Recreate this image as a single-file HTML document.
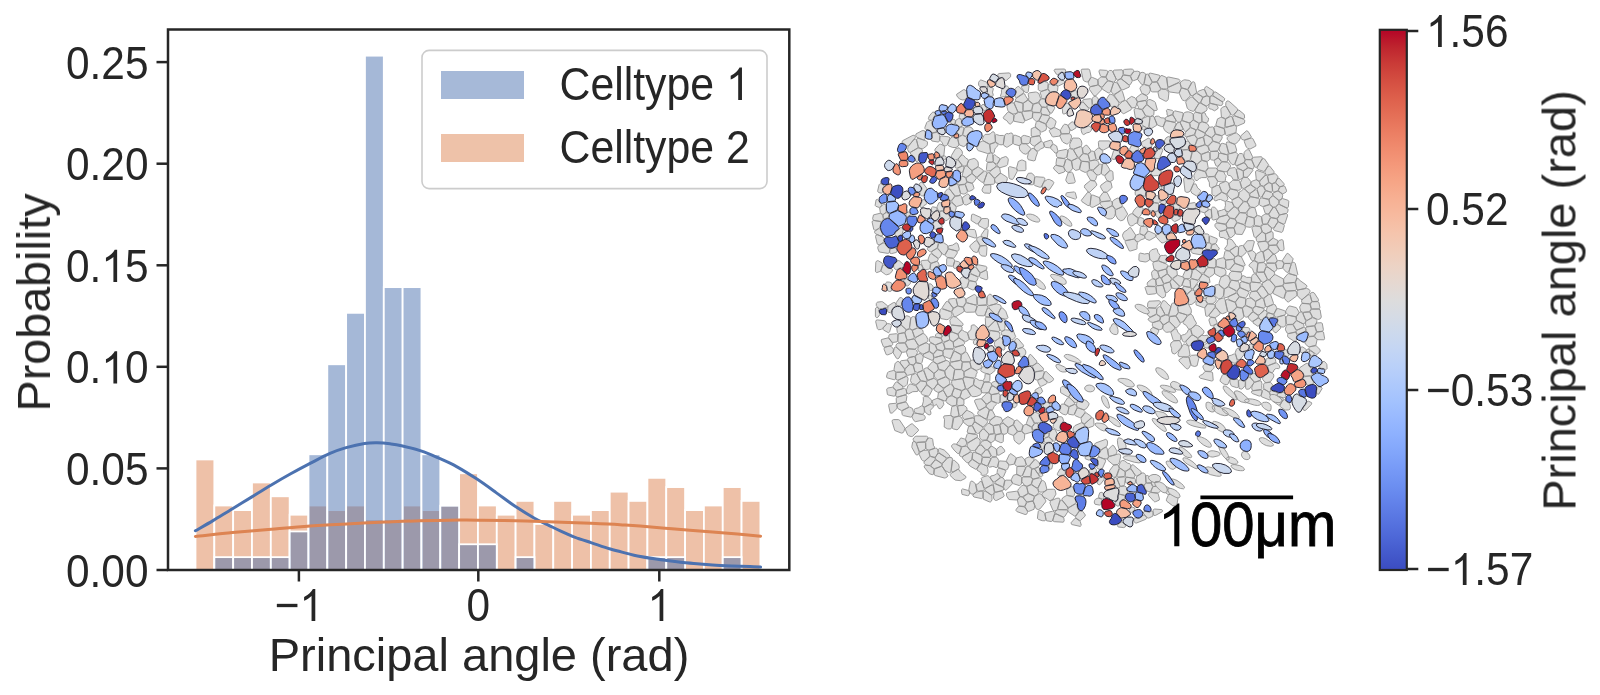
<!DOCTYPE html>
<html><head><meta charset="utf-8"><title>figure</title>
<style>html,body{margin:0;padding:0;background:#fff;overflow:hidden}body{width:1600px;height:695px;position:relative;font-family:"Liberation Sans",sans-serif}</style></head>
<body>
<svg width="1600" height="695" viewBox="0 0 1600 695" style="position:absolute;left:0;top:0">
<rect width="1600" height="695" fill="#fff"/>
<g opacity="0.999">
<g fill="#dd8452" fill-opacity="0.5" stroke="#fff" stroke-width="1.8"><rect x="195.50" y="459.44" width="18.83" height="110.56"/><rect x="214.33" y="505.50" width="18.83" height="64.50"/><rect x="233.16" y="510.11" width="18.83" height="59.89"/><rect x="251.99" y="482.47" width="18.83" height="87.53"/><rect x="270.82" y="496.29" width="18.83" height="73.71"/><rect x="289.65" y="514.72" width="18.83" height="55.28"/><rect x="308.48" y="505.50" width="18.83" height="64.50"/><rect x="327.31" y="510.11" width="18.83" height="59.89"/><rect x="346.14" y="505.50" width="18.83" height="64.50"/><rect x="364.97" y="519.33" width="18.83" height="50.67"/><rect x="383.80" y="519.33" width="18.83" height="50.67"/><rect x="402.63" y="505.50" width="18.83" height="64.50"/><rect x="421.46" y="510.11" width="18.83" height="59.89"/><rect x="440.29" y="505.50" width="18.83" height="64.50"/><rect x="459.12" y="473.26" width="18.83" height="96.74"/><rect x="477.95" y="505.50" width="18.83" height="64.50"/><rect x="496.78" y="514.72" width="18.83" height="55.28"/><rect x="515.61" y="500.90" width="18.83" height="69.10"/><rect x="534.44" y="523.93" width="18.83" height="46.07"/><rect x="553.27" y="500.90" width="18.83" height="69.10"/><rect x="572.10" y="514.72" width="18.83" height="55.28"/><rect x="590.93" y="510.11" width="18.83" height="59.89"/><rect x="609.76" y="491.68" width="18.83" height="78.32"/><rect x="628.59" y="500.90" width="18.83" height="69.10"/><rect x="647.42" y="477.86" width="18.83" height="92.14"/><rect x="666.25" y="487.08" width="18.83" height="82.92"/><rect x="685.08" y="510.11" width="18.83" height="59.89"/><rect x="703.91" y="505.50" width="18.83" height="64.50"/><rect x="722.74" y="487.08" width="18.83" height="82.92"/><rect x="741.57" y="500.90" width="18.83" height="69.10"/></g>
<g fill="#4c72b0" fill-opacity="0.5" stroke="#fff" stroke-width="1.8"><rect x="214.33" y="557.14" width="18.83" height="12.86"/><rect x="233.16" y="557.14" width="18.83" height="12.86"/><rect x="251.99" y="557.14" width="18.83" height="12.86"/><rect x="270.82" y="557.14" width="18.83" height="12.86"/><rect x="289.65" y="531.43" width="18.83" height="38.57"/><rect x="308.48" y="454.28" width="18.83" height="115.72"/><rect x="327.31" y="364.27" width="18.83" height="205.73"/><rect x="346.14" y="312.84" width="18.83" height="257.16"/><rect x="364.97" y="55.67" width="18.83" height="514.33"/><rect x="383.80" y="287.12" width="18.83" height="282.88"/><rect x="402.63" y="287.12" width="18.83" height="282.88"/><rect x="421.46" y="454.28" width="18.83" height="115.72"/><rect x="440.29" y="505.71" width="18.83" height="64.29"/><rect x="459.12" y="544.28" width="18.83" height="25.72"/><rect x="477.95" y="544.28" width="18.83" height="25.72"/><rect x="515.61" y="557.14" width="18.83" height="12.86"/><rect x="647.42" y="557.14" width="18.83" height="12.86"/><rect x="666.25" y="557.14" width="18.83" height="12.86"/><rect x="722.74" y="557.14" width="18.83" height="12.86"/></g>
<path d="M195.4,530.8C198.3,529.1 206.8,524.3 213.0,520.6C219.2,516.9 226.0,512.6 232.5,508.7C239.0,504.8 245.4,500.8 251.9,496.9C258.4,492.9 264.8,488.9 271.3,485.0C277.8,481.1 284.2,477.4 290.7,473.8C297.2,470.2 303.6,466.8 310.1,463.4C316.7,460.0 324.0,456.0 330.0,453.4C336.0,450.8 340.4,449.2 346.1,447.6C351.9,446.0 359.4,444.3 364.5,443.5C369.6,442.7 372.8,442.8 377.0,442.8C381.2,442.9 385.9,443.3 390.0,443.8C394.1,444.3 396.2,444.5 401.4,445.7C406.5,446.9 414.6,448.8 420.9,450.9C427.2,453.0 433.4,455.8 439.4,458.4C445.3,461.0 450.5,463.2 456.6,466.6C462.7,470.0 469.6,474.3 476.2,478.6C482.8,482.9 489.6,487.9 496.1,492.6C502.7,497.3 509.0,502.3 515.5,506.6C522.0,510.9 529.5,515.5 534.9,518.5C540.3,521.5 543.6,522.8 547.9,524.9C552.2,527.0 556.5,529.2 560.8,531.2C565.1,533.2 568.8,534.9 573.8,536.8C578.8,538.7 584.9,540.6 591.0,542.6C597.1,544.6 604.3,547.2 610.4,549.0C616.5,550.8 623.2,552.4 627.7,553.6C632.2,554.8 632.7,555.1 637.5,556.0C642.3,556.9 650.0,558.2 656.2,559.1C662.5,560.0 668.8,560.8 675.0,561.5C681.2,562.2 687.5,562.9 693.8,563.5C700.0,564.1 706.2,564.6 712.5,565.0C718.8,565.4 725.0,565.7 731.2,566.0C737.5,566.3 745.1,566.5 750.0,566.6C754.9,566.8 758.8,566.9 760.6,566.9" fill="none" stroke="#4c72b0" stroke-width="3" stroke-linecap="round"/>
<path d="M195.4,536.4C201.6,535.8 219.8,533.7 232.5,532.5C245.2,531.3 258.4,530.3 271.3,529.2C284.2,528.1 297.5,526.9 310.1,526.0C322.7,525.1 334.3,524.5 346.8,523.9C359.3,523.2 372.8,522.6 385.0,522.1C397.2,521.6 407.5,521.1 420.0,520.8C432.5,520.5 449.5,520.2 460.0,520.1C470.5,520.0 473.8,520.1 483.0,520.2C492.2,520.3 504.7,520.5 515.5,520.7C526.3,521.0 535.3,521.3 547.9,521.7C560.5,522.1 579.0,522.8 591.0,523.3C603.0,523.8 611.8,524.2 620.0,524.7C628.2,525.2 630.8,525.3 640.0,526.0C649.2,526.7 662.9,528.0 675.0,529.0C687.1,530.0 702.1,531.1 712.5,531.9C722.9,532.7 729.5,533.3 737.5,534.0C745.5,534.7 756.8,535.9 760.6,536.2" fill="none" stroke="#dd8452" stroke-width="3" stroke-linecap="round"/>
<rect x="168.0" y="29.5" width="621.3" height="540.5" fill="none" stroke="#262626" stroke-width="2.5"/>
<g stroke="#262626" stroke-width="2.5"><line x1="156.5" y1="570.0" x2="168.0" y2="570.0"/><line x1="156.5" y1="468.4" x2="168.0" y2="468.4"/><line x1="156.5" y1="366.8" x2="168.0" y2="366.8"/><line x1="156.5" y1="265.3" x2="168.0" y2="265.3"/><line x1="156.5" y1="163.7" x2="168.0" y2="163.7"/><line x1="156.5" y1="62.1" x2="168.0" y2="62.1"/><line x1="298.9" y1="570.0" x2="298.9" y2="581.5"/><line x1="478.3" y1="570.0" x2="478.3" y2="581.5"/><line x1="659.3" y1="570.0" x2="659.3" y2="581.5"/></g>
<text transform="translate(148.5,586.6) scale(1,1.1)" font-family="Liberation Sans, sans-serif" font-size="42.4" text-anchor="end" fill="#262626">0.00</text>
<text transform="translate(148.5,485.0) scale(1,1.1)" font-family="Liberation Sans, sans-serif" font-size="42.4" text-anchor="end" fill="#262626">0.05</text>
<g transform="translate(148.5,383.4) scale(1,1.1)" font-family="Liberation Sans, sans-serif" font-size="42.4" fill="#262626"><text x="-82.52" y="0" xml:space="preserve">0.</text><path transform="translate(-47.16,0) scale(0.02070,0.01982)" d="M763,0L583,0L583,-1147Q518,-1085 412.5,-1023Q307,-961 223,-930L223,-1104Q374,-1175 487,-1276Q600,-1377 647,-1472L763,-1472Z"/><text x="-23.58" y="0" xml:space="preserve">0</text></g>
<g transform="translate(148.5,281.9) scale(1,1.1)" font-family="Liberation Sans, sans-serif" font-size="42.4" fill="#262626"><text x="-82.52" y="0" xml:space="preserve">0.</text><path transform="translate(-47.16,0) scale(0.02070,0.01982)" d="M763,0L583,0L583,-1147Q518,-1085 412.5,-1023Q307,-961 223,-930L223,-1104Q374,-1175 487,-1276Q600,-1377 647,-1472L763,-1472Z"/><text x="-23.58" y="0" xml:space="preserve">5</text></g>
<text transform="translate(148.5,180.3) scale(1,1.1)" font-family="Liberation Sans, sans-serif" font-size="42.4" text-anchor="end" fill="#262626">0.20</text>
<text transform="translate(148.5,78.7) scale(1,1.1)" font-family="Liberation Sans, sans-serif" font-size="42.4" text-anchor="end" fill="#262626">0.25</text>
<g transform="translate(298.9,621.0) scale(1,1.1)" font-family="Liberation Sans, sans-serif" font-size="42.4" fill="#262626"><text x="-24.17" y="0" xml:space="preserve">−</text><path transform="translate(0.59,0) scale(0.02070,0.01982)" d="M763,0L583,0L583,-1147Q518,-1085 412.5,-1023Q307,-961 223,-930L223,-1104Q374,-1175 487,-1276Q600,-1377 647,-1472L763,-1472Z"/></g>
<text transform="translate(478.3,621.0) scale(1,1.1)" font-family="Liberation Sans, sans-serif" font-size="42.4" text-anchor="middle" fill="#262626">0</text>
<g transform="translate(659.3,621.0) scale(1,1.1)" font-family="Liberation Sans, sans-serif" font-size="42.4" fill="#262626"><path transform="translate(-11.79,0) scale(0.02070,0.01982)" d="M763,0L583,0L583,-1147Q518,-1085 412.5,-1023Q307,-961 223,-930L223,-1104Q374,-1175 487,-1276Q600,-1377 647,-1472L763,-1472Z"/></g>
<text transform="translate(479.0,670.8) scale(1,1.0)" font-family="Liberation Sans, sans-serif" font-size="47.0" text-anchor="middle" fill="#262626">Principal angle (rad)</text>
<text transform="translate(50.0,302.5) rotate(-90) scale(1,1.0)" font-family="Liberation Sans, sans-serif" font-size="46.7" text-anchor="middle" fill="#262626">Probability</text>
<rect x="422" y="50.4" width="345" height="138.2" rx="7" ry="7" fill="#fff" fill-opacity="0.8" stroke="#cccccc" stroke-width="1.6"/>
<rect x="441" y="71" width="83" height="28" fill="#a6b9d8"/>
<rect x="441" y="134" width="83" height="28" fill="#eec2a9"/>
<g transform="translate(559.5,100.0) scale(1,1.1)" font-family="Liberation Sans, sans-serif" font-size="42.8" fill="#262626"><text x="0.00" y="0" xml:space="preserve">Celltype&#160;</text><path transform="translate(166.52,0) scale(0.02090,0.02000)" d="M763,0L583,0L583,-1147Q518,-1085 412.5,-1023Q307,-961 223,-930L223,-1104Q374,-1175 487,-1276Q600,-1377 647,-1472L763,-1472Z"/></g>
<text transform="translate(559.5,163.0) scale(1,1.1)" font-family="Liberation Sans, sans-serif" font-size="42.8" text-anchor="start" fill="#262626">Celltype 2</text>
<defs><linearGradient id="cw" x1="0" y1="0" x2="0" y2="1"><stop offset="0.0000" stop-color="#b40426"/><stop offset="0.0312" stop-color="#be242e"/><stop offset="0.0625" stop-color="#ca3b37"/><stop offset="0.0938" stop-color="#d44e41"/><stop offset="0.1250" stop-color="#dd5f4b"/><stop offset="0.1562" stop-color="#e46e56"/><stop offset="0.1875" stop-color="#eb7d62"/><stop offset="0.2188" stop-color="#f08b6e"/><stop offset="0.2500" stop-color="#f4987a"/><stop offset="0.2812" stop-color="#f6a586"/><stop offset="0.3125" stop-color="#f7b093"/><stop offset="0.3438" stop-color="#f7ba9f"/><stop offset="0.3750" stop-color="#f5c4ac"/><stop offset="0.4062" stop-color="#f1ccb8"/><stop offset="0.4375" stop-color="#ecd3c5"/><stop offset="0.4688" stop-color="#e5d8d1"/><stop offset="0.5000" stop-color="#dddcdc"/><stop offset="0.5312" stop-color="#d5dbe5"/><stop offset="0.5625" stop-color="#ccd9ed"/><stop offset="0.5938" stop-color="#c3d5f4"/><stop offset="0.6250" stop-color="#b9d0f9"/><stop offset="0.6562" stop-color="#aec9fc"/><stop offset="0.6875" stop-color="#a3c2fe"/><stop offset="0.7188" stop-color="#98b9ff"/><stop offset="0.7500" stop-color="#8db0fe"/><stop offset="0.7812" stop-color="#82a6fb"/><stop offset="0.8125" stop-color="#779af7"/><stop offset="0.8438" stop-color="#6c8ff1"/><stop offset="0.8750" stop-color="#6282ea"/><stop offset="0.9062" stop-color="#5875e1"/><stop offset="0.9375" stop-color="#4e68d8"/><stop offset="0.9688" stop-color="#445acc"/><stop offset="1.0000" stop-color="#3b4cc0"/></linearGradient></defs>
<rect x="1379.8" y="29.8" width="27.0" height="540.2" fill="url(#cw)" stroke="#262626" stroke-width="2.2"/>
<g transform="translate(1426.0,47.0) scale(1,1.1)" font-family="Liberation Sans, sans-serif" font-size="42.4" fill="#262626"><path transform="translate(0.00,0) scale(0.02070,0.01982)" d="M763,0L583,0L583,-1147Q518,-1085 412.5,-1023Q307,-961 223,-930L223,-1104Q374,-1175 487,-1276Q600,-1377 647,-1472L763,-1472Z"/><text x="23.58" y="0" xml:space="preserve">.56</text></g>
<text transform="translate(1426.0,225.0) scale(1,1.1)" font-family="Liberation Sans, sans-serif" font-size="42.4" text-anchor="start" fill="#262626">0.52</text>
<text transform="translate(1426.0,406.0) scale(1,1.1)" font-family="Liberation Sans, sans-serif" font-size="42.4" text-anchor="start" fill="#262626">−0.53</text>
<g transform="translate(1426.0,585.0) scale(1,1.1)" font-family="Liberation Sans, sans-serif" font-size="42.4" fill="#262626"><text x="0.00" y="0" xml:space="preserve">−</text><path transform="translate(24.76,0) scale(0.02070,0.01982)" d="M763,0L583,0L583,-1147Q518,-1085 412.5,-1023Q307,-961 223,-930L223,-1104Q374,-1175 487,-1276Q600,-1377 647,-1472L763,-1472Z"/><text x="48.34" y="0" xml:space="preserve">.57</text></g>
<g stroke="#262626" stroke-width="2.5"><line x1="1406.8" y1="31" x2="1418.3" y2="31"/><line x1="1406.8" y1="209" x2="1418.3" y2="209"/><line x1="1406.8" y1="390" x2="1418.3" y2="390"/><line x1="1406.8" y1="569" x2="1418.3" y2="569"/></g>
<text transform="translate(1575.5,300.5) rotate(-90) scale(1,1.0)" font-family="Liberation Sans, sans-serif" font-size="47.0" text-anchor="middle" fill="#262626">Principal angle (rad)</text>
<line x1="1200.4" y1="497.4" x2="1293.1" y2="497.4" stroke="#000" stroke-width="3.6"/>
<g transform="translate(1247.0,546.2) scale(1,1.07)" font-family="Liberation Sans, sans-serif" font-size="58" fill="#000" stroke="#000" stroke-width="0.8"><path transform="translate(-89.25,0) scale(0.02832,0.02711)" d="M763,0L583,0L583,-1147Q518,-1085 412.5,-1023Q307,-961 223,-930L223,-1104Q374,-1175 487,-1276Q600,-1377 647,-1472L763,-1472Z"/><text x="-56.99" y="0" xml:space="preserve">00μm</text></g>
<g fill="#dedede" stroke="#8f8f8f" stroke-width="0.9" stroke-linejoin="round"><path d="M985.5,491.2 984,491.1 983.2,492.4 983.3,499.2 989.4,501.9 990.4,502 991.2,501.4 992,499.8 991.9,495.5zM1034.8,373.2 1034.5,378 1034.9,379.3 1036.4,380 1037.6,380 1042.6,377.6 1044.4,371.9 1043.4,370.8 1042.7,370.7 1035.4,372zM978.6,445.9 975.3,450.8 976.1,452.5 980.2,454.5 981.1,454.6 984.9,450.8 985.2,449.4 981.8,445.5 980.4,445.1zM947.8,265.8 952.5,266.3 953.4,265.3 954.6,261.1 954.5,260 953.6,258.8 953,258.5 947.6,257.7 946.7,259.1 946.6,264.9zM1153.4,199.4 1153.1,200.9 1153.8,202.2 1154.5,202.5 1158.8,203.2 1159.8,202.2 1160.1,200.5 1159,199.2 1158.2,196 1157.7,195.5 1156.3,195.5zM1245.6,243 1243.6,245.1 1243.7,246.4 1246.4,250.8 1247.4,251.5 1248.1,251.5 1252.2,250 1254.4,241.8 1254.1,241.2 1252.9,240.6 1247.7,240.7 1247,241zM1245.6,388 1246.5,389.3 1249.4,389 1253.6,383.2 1253.8,382.3 1253.5,381.5 1249.9,377.1 1248.5,377.2 1246.9,379.5 1245.6,380.6zM1032.6,367.1 1034.2,370.7 1035.2,371.6 1042.3,370.7 1043.6,369.7 1043.2,368.1 1038.1,363 1036.7,363.2 1033.2,365.5 1032.6,366.2zM951.2,380.5 952.6,380 953,379.2 954.6,369.4 951.3,365.9 950,365.5 948.7,366.1 945.2,370.6 944.9,371.8 945.4,374.8 946.8,377.2zM1185.1,344.1 1183.7,344.1 1183.1,344.6 1180.4,349.5 1178.6,351.8 1177.9,354.6 1178.9,356.6 1187.1,357 1189.2,355.9 1190,355 1188.6,346.3zM997.1,164.4 997.1,165.9 999.9,167.8 1006.6,165.7 1007.6,164.5 1008.3,159.8 1008.1,158.8 1007,157.2 1005.6,156.5 1001,158.2zM902.6,140.7 902,142.1 902.4,142.9 904.8,144 906.8,146 908.2,146.2 915,138.1 915.4,137.2 915.2,136.4 914.4,135.3 912.9,135.3zM915.5,337.7 914.8,339 915,339.8 918.1,344.9 919.3,345.6 927.2,342 927.9,341.3 927.9,339.7 926.5,336.1 923.9,333.6 922.5,333.7zM1067.9,151.4 1067.5,150.1 1066.5,149.3 1058.6,150.9 1057.7,151.7 1056.3,154.2 1056.5,156.4 1057.9,157.6 1063.4,158.4 1065.7,158 1066.8,156.9zM1024.3,433.6 1025.7,433.9 1032,432 1032.4,430.7 1031.7,427.4 1026,424.2 1023.4,425.4 1021.8,431zM997,321.8 995.9,320.8 994.5,321.2 988.1,327.5 987.7,328.4 988.5,330.1 998.2,331.5 999.5,330.9 999.8,329.5zM1240.8,282 1239.9,283.4 1240,287.3 1248.3,291.2 1249.8,290.9 1250.5,289.6 1249.7,284 1242.4,281.7zM952.9,309.1 952.7,307.6 948.5,301.8 947.3,301.2 946.1,301.8 942.4,307.3 942.4,308 943.4,308.9 950.3,311.4 951.7,311.2zM1260.7,250.6 1261.7,251.4 1263,251.6 1268.1,248.5 1268.6,245.1 1267.9,243.2 1266.6,241.9 1264.9,241.4 1259.1,241.9 1257.9,242.7 1257.8,244zM1186.2,340.9 1185.8,342.2 1186.1,342.8 1188.2,345.8 1189.4,346 1190.6,345.4 1191.8,342.6 1193.9,341.1 1197.1,340.3 1197.7,339.1 1197,337.8 1193.3,335.3 1191.9,335.2zM1084.7,188 1086.9,190.1 1087.8,191.8 1089.7,192.2 1096.4,185.8 1096.8,185 1096.6,184 1095,181.1 1090.4,180.5 1084.9,185 1084.4,186.5zM1174.8,127.4 1174.8,128.8 1176.1,129.5 1182,130.2 1183,128.9 1180.3,123.2 1179.6,122.5 1177.3,122.8zM1132.1,81.7 1132.1,80.4 1130.6,76.8 1129.5,75.9 1123.5,75.1 1121.7,77.5 1121.5,78.2 1122.1,79.5 1128.6,84.6 1129.4,84.9 1130.2,84.7zM1083.2,147.4 1082.6,148.8 1083,152.2 1083.3,153.1 1084.2,153.5 1087.8,154.1 1090.8,151.3 1090.6,149.9 1086.9,145.2 1085.3,145.5zM1024.4,135.4 1023.1,135.6 1021.1,137.3 1021.8,143 1023,143.6 1028.9,143.6 1030.2,141.3 1030.5,137.7 1029.5,136.8zM958.4,137.9 957.9,139.5 959.2,144.8 963.8,146.7 966.3,144.7 966.6,143.4 967.4,142.5 967.4,141.6 966.5,137.4 965.9,136.8 962.5,135.2 959.7,136.5zM895.3,269.4 896.8,269.9 898.4,268.5 900.5,267.9 902.1,268 903.8,265.9 903.4,264.3 899,260.5 897.3,260.9 896.3,262.6 894.5,263.9 893.8,265 893.6,267.1zM894,369.3 894.5,370.6 895.5,371.6 896.5,372.1 903.1,372 904.4,371.3 904.6,370.6 904.4,369 899.2,361.9 897.8,361.3 895.5,362.9 895,363.8zM951.7,325 962.1,326 962.9,325.1 963.1,324.5 962.7,323.2 956.2,317.1 953.3,316.5 952,317.1 949.8,320.2 950.4,323.9 950.9,324.7zM872.6,218.6 873.2,220 873.9,220.4 880.9,221.4 881.5,221.4 882.9,220.3 883.4,219 882.7,214.9 880.3,213.2 873.5,214.9zM1244.2,152.4 1243.8,156.4 1245.3,159.4 1250.8,159.5 1252.1,158.7 1252.7,157.3 1252.5,156.6 1249.3,149.9 1247.7,149.7 1246.8,149.9 1244.8,151.4zM1246.4,147.2 1247.4,148.1 1250,149.1 1255.8,146.1 1255.8,144.6 1252.9,138.7 1252,138 1251.1,138 1244.5,140.3 1244.3,141.8zM1285.1,294.9 1284.4,298.3 1287,301.5 1288.4,302 1296.5,296.1 1297.1,294.7 1296.8,292.3 1296.1,291.2 1294.7,290.7 1287.5,291.2 1286.4,291.9zM1160.6,305 1160.7,306.3 1164.9,314.1 1165.4,314.6 1167,315 1168.4,314.6 1170.7,307.2 1170.4,305.9 1168.9,305 1165.4,301.1 1164.4,300.7 1162.7,300.9zM1260.7,198 1259.7,199.3 1259.1,203.7 1259.3,204.6 1259.9,205.3 1262.8,206.6 1269.1,204.4 1269.6,203.1 1268.7,199.6 1261.7,197.9zM995.7,481.3 995.1,482.6 996,483.9 1002.4,486.6 1003.2,486.2 1003.7,485.5 1004.7,480.2 1002.9,477.8 1001.6,477.5 1000.6,477.8zM1100.3,204.4 1104.3,209 1105.6,209 1111.5,205.9 1112.3,204.5 1112,201.5 1110.6,200.8 1100.7,202 1100.1,203zM965.6,438.7 965.7,439.8 966.7,441.8 968,442.6 976.8,437.5 977.4,436.9 977.5,435.8 977.1,434.9 976.2,434.5 968,433.3 967.1,434.3zM1139.1,217.9 1138.3,218.9 1137.5,223.9 1140.2,226 1141.1,226.2 1143.3,226 1144.1,224.7 1143.3,222.7 1144,219.6 1143.7,218.8 1140.8,217.5zM1042.4,493.1 1041.9,494.5 1043.6,497.2 1047.5,498.9 1048.8,500.3 1050,500.7 1053,499.2 1056,494.1 1055.2,490.3 1054.9,489.7 1053.7,489.2 1047.8,489.4zM1099.6,198 1100.5,201 1101.8,201.5 1109.2,200.9 1109.9,200.6 1110.6,199.4 1107.4,193.1 1106.1,192.3 1104.1,192.2 1102.8,192.8 1099.9,196.8zM995.2,387.2 996.6,387.3 997.1,386.8 998.5,385.1 998.6,384.2 996.5,381.7 995.3,381.1 992.3,382.3 991.4,383.3 991.9,385.2zM1030.2,142.5 1030.8,143.9 1032.9,145.6 1034.2,146 1034.8,145.8 1041.2,140.9 1041.2,140 1040.1,136.5 1038.8,136 1031.4,137.1 1030.7,138.2zM1227.7,161.1 1227.8,155.6 1226.8,154.8 1219.7,153.1 1218.7,154.4 1218.4,157.6 1222,161.6 1226.3,161.8zM1014.1,439.8 1015.5,441.8 1018.3,443.9 1019.7,444.1 1024.1,439.5 1024.5,438.6 1024.7,434.3 1021.4,431.3 1018.1,431.6 1017.3,432 1013.6,435.8zM1251.4,260.1 1252.1,260.7 1253,260.9 1254.1,260.5 1256,254.6 1255.5,253.1 1252.3,250.5 1248.8,251.4 1247.7,252.7zM926.3,385 926.5,382.9 925.8,381.7 920.8,380.9 916.7,384.5 916.2,385.7 919.3,391.3 920.5,392 921.8,391.4zM1181.8,120.8 1180.4,121.9 1180.5,123.2 1184.2,130.7 1185.3,131.5 1186,131.4 1190.2,127.3 1189.7,123.9 1188.7,122.8 1182.5,120.9zM1086.1,456.3 1085,457.3 1085.3,458.8 1088.5,460 1089.2,460.1 1090.3,459.3 1090.7,458 1090.5,457.3 1088.8,456zM987.2,418.2 987.5,419.5 988.1,420 990.4,419.9 994.9,416.4 995,415.6 992.3,410.4 990.6,410.1 989.3,410.6zM928.1,385.8 926.8,385.5 925.5,386.4 921.4,392.2 921.4,393.8 922.4,394.8 928.3,396.2 929.4,395.4 932.2,390.1 931.7,388.9zM911.8,446.6 911.9,447.5 915.7,454.3 916.2,454.9 917.8,454.9 919,453.1 919.1,451.9 916.1,443 915.5,442.3 914.1,441.4 912.7,442zM1223.9,268.4 1225.2,268.2 1225.7,266.9 1225.5,260.4 1224.3,258.3 1223.5,257.8 1222.6,257.8 1217.1,259.4 1216.4,260 1216.1,265.3 1216.6,266.5zM985.5,450.3 981.6,455 981.7,455.9 982.5,456.9 983.3,457.1 989.4,457.3 990.2,457.1 990.9,455.8 988.3,450.6 987,449.8zM1266.3,359.1 1265.2,363.5 1266.4,365.3 1267.1,365.7 1268,365.7 1275.4,362.6 1275.8,361.3 1275.3,359.2 1274.5,358.1 1273.8,358 1270.2,358.8 1267.4,358zM1197.7,187.9 1195.8,183.9 1193.9,184 1193.1,184.8 1190.6,190.6 1191.8,193.1 1196.5,195.9 1198.5,194.6 1200.6,191.6 1200.7,190.9 1200.5,190.3zM1288.4,315.3 1287.1,315.7 1286,317.9 1286.3,323.8 1287.6,324.5 1292.9,324.2 1296.3,320.4 1295.9,317.3 1295.1,316.8zM1131.5,107.4 1132.8,107.9 1135.6,107.4 1137.2,102.4 1137.1,101.4 1135.7,98.5 1135,97.8 1131.6,96.4 1127.2,99.4 1126.6,100.8zM878.3,228.9 874.6,231.4 874.5,232.3 875.5,233.8 880.7,236 882.2,235.8 882.7,235.2 882.4,233.7 880.2,229.2 879.6,228.8zM1272.4,208.4 1272.6,207 1269.8,204.7 1264.3,206.3 1263.3,207.5 1265.1,212.9 1265.6,213.5 1267.5,214 1269,213.4zM1149.7,251.9 1149.3,253.2 1149.8,258.9 1150.3,259.9 1152.6,261.6 1153.8,261.8 1157.8,260.6 1160.2,255.5 1158,252.4 1157.2,249.3 1156.4,248.7 1155.6,248.7 1151.8,249.7zM998.9,76.9 1000.1,77.6 1002.5,77.4 1003.9,78.4 1004.8,80.2 1006.1,80.6 1010.6,76.8 1010.6,74.3 1009.7,73.1 1009,72.9 999.1,73.5 997.8,74.5 997.7,75.4zM887.9,388 886.8,388.9 886.7,389.6 887.4,394.5 888.2,395 893.9,396.2 895.3,395.7 896.1,391.4 895.7,390.2 892.4,387.2zM1243.4,188.4 1244.5,188.1 1249.9,184.7 1250.6,183.8 1250.9,181.6 1247.5,177.5 1244,177.4 1243.1,177.7 1242,179.1 1240.4,182.7 1241.6,187.2 1242.1,187.9zM1071.6,486.6 1066.8,489.4 1066.5,490.3 1066.8,494.7 1067.8,495.5 1073.2,496.4 1074.3,495.2 1074.9,492.7 1073,487.1zM1184.3,112.7 1183.5,113.7 1182.2,119.2 1182.5,120.5 1188.8,122.7 1190.2,122.5 1193.2,119.8 1193.2,114.1 1190.9,112.5 1188.3,111.8 1186,112zM1117.9,219 1120.7,220.8 1123.5,220 1127.7,214.1 1123.9,207.4 1122.7,206.7 1116.4,209.4 1115.5,210.7 1115.7,215.1zM1106.8,98.5 1106.7,99.8 1109.6,102.8 1110.5,106.3 1111,106.9 1111.8,107.1 1113.8,106.2 1114.9,106.2 1116.8,106.8 1118.1,105.8 1118.9,103.6 1118.7,102.2 1113,95 1110.9,94.2 1109.6,94.3zM1180,81.1 1180,80.3 1178.9,79.2 1168.6,77 1167.2,77.3 1166.9,77.9 1167.7,85.5 1168.5,86.6 1169.1,86.8 1179.1,82.2zM959,414.7 960.1,415.9 961.6,415.4 966.6,410.1 967,409.5 966.9,408.1 966.4,407.2 964.5,405.7 963.4,405.4 959,405.7 957.7,406.6zM1141.3,84.1 1142,84.6 1142.9,84.5 1143.9,83.4 1145.6,74.8 1145.5,73.9 1144.9,73.2 1142.9,72.3 1140.7,72.6 1140.2,73.2 1137.6,79.4zM1182.7,154.7 1182.3,156.4 1185.2,160.7 1185.8,161 1189.3,160.6 1190.2,159.6 1191.8,152.8 1191.3,152 1189.2,151 1188.2,149.8 1183.7,150 1182.4,150.9zM1266.6,233.5 1265.9,234 1265.6,234.9 1265.9,240.5 1266.5,241.7 1268,242.1 1273.2,237.8 1273.1,233 1272.4,231.8 1271.8,231.5zM989.8,305.5 988.8,306.6 989.1,308 995.5,314.5 996.8,314.9 997.4,314.6 1001.2,307.3 1001,305.7 999.9,304.8 996.3,303.8zM963.8,372.4 963.4,371.5 961.5,369.6 955.4,369.6 954.6,370.7 953.3,378 953.7,379.3 955,379.8 962.2,378.6 963.2,378.1 964.1,376.2zM1139.8,207.5 1137.9,206.7 1136.7,207.2 1133.9,210.3 1132.6,212.7 1133.2,214.2 1138.1,217.6 1138.9,217.5 1141.2,214.8 1142,211.7 1143.3,209.1 1143.2,208.3 1142.4,207.6 1141.3,207.3zM1082.5,128.2 1081.3,128.8 1081.1,130.1 1082.1,133.5 1083.2,134.5 1083.9,134.5 1086.8,132.8 1089.5,132.3 1091,130.8 1091.7,128.7 1091.3,127.9 1089.3,126.1 1088.6,126.1 1083.8,128.1zM1288.9,271.8 1289.2,273.2 1289.9,273.7 1296,275.5 1296.8,275.5 1297.8,274.5 1295.3,263.6 1294.4,262.5 1293.3,262.3 1292.5,262.6 1291.4,263.8zM1268.2,279.5 1269.1,279.6 1269.9,279.1 1274.3,274.7 1274.7,273.2 1274.1,271.8 1268,267.4 1266.7,267.1 1265.7,268.1 1264.3,272.1 1267.2,278.6zM1295.7,321.4 1293.4,324.4 1293.6,325.3 1295.8,329.2 1297,330 1303.2,327.4 1304,326.4 1303.8,324.8 1302.9,323.8 1297.5,321.1 1296.6,320.9zM1028.2,94.8 1028.8,97.4 1028.5,100.1 1033.1,103.9 1038,102.6 1038.8,101.9 1040.7,98.6 1038.9,93.5 1036.6,92.2 1035.6,92 1029.5,92.8 1028.4,93.5zM878,307.8 877.2,307.4 876.4,307.5 875.7,308 875.4,308.9 875.4,316.2 875.6,316.9 876.8,317.7 878.1,317.1 879.9,314.5 878.9,311.2 879.1,309.2zM1113.8,479 1114.8,483 1114.6,484.3 1115.9,487.1 1118.4,487.9 1119.2,487.4 1119.9,486.4 1119.8,485.6 1116.3,477.6 1115.2,477.3 1113.9,478.2zM1052.8,510 1054,510.9 1054.7,510.8 1056.4,510.2 1057.4,509.1 1060,500 1059.7,498.7 1059.2,498.2 1056.9,498.2 1051.3,500.6 1050.2,501.7 1050,503.3zM994,493.4 993.5,498 994.6,499.9 995.6,500.5 996.7,500.4 1003.4,496.9 1004.2,495.6 1002.7,492 1001.7,491 995.1,492.4zM971,270.7 970.5,272.6 971.3,273.8 977.3,276.5 978.9,276.2 979.4,275.5 979.8,273.7 979.6,272.5 975.9,267.3 974.4,267.4zM988.8,476.2 988.1,475.7 987.1,475.7 982.2,477.3 981.2,478.4 983.9,487.2 984.4,488 985.2,488.3 992.5,484.4 993.2,483.6 993.1,482.1zM997.9,403.3 999.2,403.1 999.9,401.9 1000.1,395.2 999.7,394 998.3,393.6 991.9,394.7 991.3,395.9 991.6,400.8zM1030.3,147.6 1028.2,146 1026.6,144 1025.9,143.8 1021.7,143.8 1019.7,145.5 1019.3,146.8 1019.6,149.3 1020.4,150.9 1023.3,153.5 1025.7,154.2 1027.2,153.6 1030.4,149.7 1030.8,148.5zM960.3,192.5 961.2,193.5 963.2,194.1 964.3,194 967.2,192.5 967.4,191.1 965.5,185.5 964.6,184.6 960.1,185 958.8,186zM937.8,369.9 938.2,368.5 937.2,364.7 936.6,363.9 933.2,361.7 931.9,362.2 927.8,367.1 928.3,368.5 933.7,373 935.1,372.6zM970.1,492.9 971.2,493.9 973.3,494.2 976.9,491.2 975.3,483.8 974.6,482.8 972,481 971.2,481.1 970.3,482.2 968.8,489.8zM1173,113.9 1173.1,115.1 1176.9,121.6 1177.5,122.2 1179.5,122.1 1181.3,120.8 1181.8,120 1183.3,114.1 1182.9,112.7 1174.7,110.8 1173.7,111.8zM1184.4,286.4 1183,286.9 1182.7,288.4 1184.6,290.3 1186.1,293.2 1187.4,293.5 1188,293.2 1191.6,289.9 1191.3,288.4 1190.2,287.6zM1163.8,324.9 1163.1,325.8 1162.7,329.1 1165.5,331.9 1166.6,332.3 1170.8,331.8 1174.8,328.4 1174.5,326.8 1169.5,321.9 1168.2,322zM967.3,164 967.9,166.7 971.1,169.8 972.2,170.2 977.7,167 978.4,165.7 978.1,162 976.3,159.6 974.2,158.4 969.2,159.8zM1187.7,315.6 1183,322.4 1183.4,323.7 1186.2,325.3 1188.3,328.7 1189.1,329.1 1191.1,328.8 1196.4,323.9 1196.1,322.3 1194.6,320 1192.6,315.5 1190.8,314.1zM1016.2,509.3 1016,510.6 1016.9,511.6 1025.1,514.5 1026.5,514.3 1027.5,512.5 1027.4,511.1 1025,507.4 1024,506.8 1018.7,506.2zM990,434.3 988.9,435.2 987.2,439.7 987.9,440.9 991.2,442.7 994.3,440.6 994.9,439.7 995.4,434.7 994.4,433.8zM1150.9,90.9 1151.5,91.6 1152.4,91.9 1157.2,91.9 1158.1,91.5 1160.5,89.4 1160.4,88.1 1156.9,82 1152.5,82.3 1149.9,85.4 1149.7,86.8zM1186,177.7 1184.3,177.6 1183.6,179.1 1185,191.1 1185.4,191.8 1186.8,192.4 1189,192 1190.1,191.1 1194.4,181.4 1192.6,178.8 1187.8,179zM1016.7,432.4 1017.1,431.2 1016.9,430.5 1013.6,425.4 1012.1,425.4 1008.3,427.7 1007.7,432.1 1007.9,433 1008.6,433.6 1013.2,435.4zM943.1,354.8 943.7,356 944.8,356.7 948.3,358.2 950,358.5 951,357.6 953.6,350.7 953,349.6 951.9,349.1 944.9,349.1 943.4,350.7 943.1,351.6zM973.6,383.9 974.3,385.4 979.4,388.7 980.3,388.9 981.7,387.9 983.9,382.1 983.5,381.4 982.2,380.4 979.2,380.3 976.2,378.3 975.4,378.3 974.3,379.5zM1258,264 1257.1,271.3 1258.5,272.2 1263.9,271.8 1266.2,266.5 1265.7,263.8 1263.6,262.6 1258.7,263zM1134.7,238.6 1135.1,239.9 1136.7,241.5 1138.2,241.9 1141,239.8 1144.3,238.7 1144.8,237.1 1144.3,235.8 1143.8,235.5 1139.6,233.8 1136.6,234.9 1135.7,235.7zM980.7,454.8 974,452.1 972.8,452.8 972.3,458.9 979,463.6 980.4,463.7 981.3,462.6 982.2,457.7 982,456.7zM1136.9,483.9 1138.2,484.9 1140.6,484.1 1141.8,484.1 1143.5,484.8 1144.2,484.7 1145.4,483.6 1145.8,482.5 1145.4,474.7 1144.6,473.5 1143,472.8 1142.2,473 1136.6,476.7 1136.2,478.9 1136.3,481.8zM1231.2,181.8 1229,183.5 1229,184.2 1230.5,188.7 1238.4,190.4 1240.1,189.8 1241.3,188.6 1241.5,187.2 1239.6,181.2 1239.1,180.4 1233.3,180.1 1232.6,180.3zM1118,106.3 1118.2,107.8 1120.2,109 1120.9,110.1 1120.9,111.7 1123.3,113.7 1124.2,113.5 1131,109.8 1131.8,108.3 1126.4,101 1125.2,100.4 1122.4,101.5 1118.6,105.2zM1226.6,246.1 1224.8,248.2 1224.8,249 1225.4,250 1228.6,250.6 1229.6,250.4 1235.4,246.7 1236,245.3 1232.1,239.8 1229.4,238.8 1228.4,239 1227.4,239.8 1227.4,244.4zM1195.5,145.4 1196.8,147 1197.7,147 1204.3,144.8 1204.7,143.5 1203.5,137.9 1201.9,137.5 1197.7,138.9 1195.5,144.5zM946.1,348.7 953.1,348.8 953.8,347.3 953.2,342.8 952.5,341.7 949.6,340 944.1,342.5 943.8,343.8 945.2,348.4zM952.4,395.5 953.1,396.2 956.6,398 957.9,397.9 959.3,397.2 960.1,396.3 961.4,392 961.1,390.5 955.6,388.5 954.1,388.8 952.1,394zM999.8,135.5 996.4,134.5 995.2,135.3 995.6,142 999.7,144.7 1002.4,144.9 1003.3,143.7 1004.3,136.4 1003.3,135.4zM986.4,169.4 987,170.8 987.7,171.1 990.8,170.4 995.7,166.8 996.3,165.2 993.8,162.6 992.7,162.2 987.7,162.5 987,163.7zM1269.6,198.8 1269.2,200.1 1269.8,203.8 1270.3,204.7 1272.8,206.8 1273.8,207.2 1275.6,206.8 1278.2,204.4 1278.7,203.5 1278.9,200.8 1273.8,196.3 1272.4,196zM940.1,136.6 939.8,140.1 942.3,142.9 943,144.7 943.7,145.5 944.8,146 946.4,145.6 947.3,144.7 949.9,138.2 949.2,137 948.5,136.8 941.5,136zM1200.2,267.4 1197.8,266.7 1196.5,267.5 1196,268.2 1196.1,269.1 1196.6,269.8 1200.7,272.9 1201.7,273.2 1203.8,272.9 1206.1,269.1 1206,267.5 1205.4,267 1202.5,266.9zM1158,285.7 1162.9,285 1163.6,283.8 1161,278 1159.4,277.6 1156.6,279.2 1155.9,280.6 1156.6,285.1zM1156.2,81.7 1157.4,81 1159.7,77.1 1159.9,76.4 1159.4,75.2 1150.4,73.1 1148.9,73.6 1148.8,75.3 1152,81.2 1152.6,81.8 1153.4,82zM1264.6,159 1263.3,158.4 1262.1,159.1 1256.9,168 1257.9,169.4 1263.8,171.5 1264.9,170.8 1268.6,164.8zM1268.8,181.8 1269.7,182.8 1271.4,183.5 1272.5,183.5 1274.8,182.7 1275.6,181.9 1277.8,177.7 1278,176.9 1277.6,176.1 1275.3,173.6 1268.1,175.2 1267.6,176.6zM1101,185.1 1100.4,186.3 1100.5,187 1102.9,191.3 1104.1,192.1 1106.4,192.2 1107.4,191.9 1111.6,188.1 1112.1,187.3 1111,182.3 1107.7,181 1106.4,181.2zM969.9,330.8 968.1,332.1 967.8,333.4 969.6,339.4 972.7,339.9 975,339.2 976,338 975.4,334.3 976.3,331.1 977.9,328.6 977.8,327.8 974.2,324.8 971.7,325.2 971.2,325.8 971.2,328.1 970.8,329.5zM1104.1,215.3 1104.8,216.7 1107.7,218.8 1110.3,219 1112.5,218.5 1114.7,216.3 1115.4,213.3 1115.1,209.4 1113.1,206.6 1111.9,206 1105.3,209.2 1104.5,210.5zM1071.4,392.8 1069.2,396.5 1069.7,397.8 1075.1,402.8 1076.5,402.4 1080.9,397.9 1080.7,396.6 1080.2,396.1 1072.7,392.1zM1207,175.8 1207.6,176.5 1208.5,176.7 1214.6,176.3 1217.6,171.2 1217.7,170.5 1217,168.8 1215.7,168 1208.5,168 1205.7,171.8zM1088.2,69 1081.8,69.2 1081.2,69.9 1081.2,70.8 1083.3,80.1 1084.2,81.1 1086.8,82 1088.2,81.9 1090.9,77.3 1091,76.2 1089.7,70.1 1089.4,69.5zM1234.6,115.9 1233,116.2 1232.6,117.7 1234.7,124.5 1235.9,125.8 1237.4,126 1244.3,123.1 1244.8,120.9 1244.5,119.9 1243.8,119.3zM1237,307.4 1232.8,311.4 1232.8,312.3 1235.4,314.5 1236,315.8 1235.9,317.6 1237.3,320.5 1237.8,320.9 1239.6,320.7 1243.9,317 1242.4,309.1 1242,308.3zM1251.6,276.8 1251.6,281.3 1252.8,282.1 1259,282.7 1259.9,282.6 1260.7,281.1 1256,274.2 1254.5,273.7 1253.4,274 1252,275.8zM1056.6,420.5 1053.6,424.3 1053,426.6 1053.4,427.9 1057.7,430.7 1059.7,430.7 1060.4,429.6 1059.9,427.8 1060,425.8 1060.7,423.9 1062.2,422.3 1063.2,421.7 1063.6,421 1062.7,417.9 1061.9,417 1061,416.7 1058.5,416.8 1056.8,418.9zM1007.2,105.8 1007,107.1 1008,110.9 1008.8,111.8 1013,114.1 1015.9,113.5 1017.4,112.5 1017.5,111.1 1013.7,102.8 1011.3,102.8 1007.9,104.9zM1224.9,207.6 1224.9,209.2 1225.9,210.8 1227,211.5 1228.6,211.6 1233.4,207.4 1233.8,206.6 1233.7,205.7 1232,202.6 1226.6,200.9 1225.2,202.2 1225.5,205.3zM1234.1,206.2 1236.8,208 1238.1,208 1242.6,202.5 1242.9,201.1 1239,197.4 1238.2,197.1 1232.7,199.7 1231.9,200.9 1232,201.6zM898.6,342.5 899.7,343 904.5,342.7 905.6,342.1 906.5,340.9 906.8,339.6 904.9,333.3 903.5,332.9 899.2,333.8 898.2,334.6 897.8,341.1zM966.1,410.8 962.2,415.2 962.5,416.8 963.5,418.8 964.4,419.4 972.8,417.7 973.5,417.4 974.1,416.1 973.9,414.5 973.2,413.6 970.8,412 967.2,410.4zM906.5,278.7 904,279.5 903.6,281 905.2,282.7 906.2,285.7 907.8,286.1 910.3,283.5 910.7,282.6 910.5,281.8 908.2,280.3 907.2,279zM1231.2,114.6 1232.3,115.3 1233.6,114.8 1237.4,110.5 1237.7,109 1230,102 1228.6,101.1 1227.1,100.9 1225.9,102.5 1225.7,105.4zM989.5,173 988.1,172.5 987,173.5 983.7,182.9 983.8,184 984.4,184.7 985.3,184.9 993.5,184.2 994.7,183.3 994.5,179.1 994.1,178.3zM1272.8,254.6 1266.4,261.3 1266.5,262.1 1267.1,262.8 1274.7,263.1 1276,262.4 1277.2,260.3 1275.3,255.1 1274.1,254.2zM916.7,354.9 915.8,355.8 915.5,356.8 916.3,362.4 917.1,362.9 921,363.5 922,362.4 923.3,357.1 922.7,355 920,353.4zM1050.6,84 1049.2,83.9 1048.3,85.1 1048,88.6 1049.6,91.3 1050.4,91.9 1051.3,91.8 1052.5,91.5 1056.8,91.6 1057.5,91.1 1057.9,87.3 1057.5,86.1 1056,85.1 1053.8,85.6 1052.6,85.3zM959,440.9 956.9,443.2 957,444.2 957.8,445 962.2,446.7 964.8,446 966.2,444.7 966.8,443 965.6,439.8 964.8,439.1 961.2,438 960.4,438.3zM1228.8,296.5 1228,297.6 1228,298.3 1229.1,299.7 1234.2,301.8 1235.2,301.8 1236,301.2 1239,296.7 1237.6,293.8 1236.4,293.1zM1067.8,509.5 1067.9,511 1068.5,512.1 1074.7,516.1 1076,515.5 1079.1,510.9 1077.4,507.8 1076.9,504.5 1075.6,503.9 1068.8,507.7zM964.7,371.4 964,372.8 964.2,375.5 964.8,376.7 973.6,378 974.9,377.7 975.8,376.8 976.2,374.5 977.3,372.3 976.6,370.8 971,367.9zM1296.5,288.7 1295.2,283.1 1293.9,282.5 1284.7,283.5 1283.5,284.4 1283,285.8 1286.1,291 1295.2,290.5 1296.4,289.6zM1109.6,470.5 1109.5,472 1111.3,473.7 1112.4,476.6 1113.6,477.3 1115.9,477 1119.1,468.3 1118.5,465.6 1118.1,465.1 1116.9,464.7 1113.6,465.2zM924.7,411.1 925.2,412.1 928,414.5 929.2,414.9 930.6,414.5 931,413.1 930.3,410.3 933.4,407.1 933.2,405.7 932.4,405 930.2,404.4 925.2,406.9 924.5,407.5 924.4,408.4zM1247.5,201 1247.5,202.5 1250.4,207 1254.4,207.5 1255.4,207.2 1258.8,204.7 1259.5,199.9 1259,198.5 1258.3,198.2 1251,196.9 1250.1,197 1249.5,197.6zM1155.2,286.7 1145.9,286.5 1145,287.6 1147.2,294.1 1148.4,294.5 1155.2,293.8 1156.5,292.9 1156,287.8zM1209.5,150.3 1210,151 1210.9,151.3 1217.8,150.9 1220.3,145.1 1220,143.6 1213.7,141.5 1212.2,141.9 1208.3,146.3zM1219.4,236 1220.3,237.4 1223.6,237.7 1226.5,239.4 1227.1,239.5 1228.6,238.8 1229.3,237.6 1226.5,231.1 1225.5,230.2 1219.9,231.5 1219.4,232.7zM1092.1,99.1 1092.4,103.9 1093.6,104.6 1096.6,103.8 1097.1,103.3 1098.4,99.4 1097.9,98.2 1096.1,96.6 1095.1,96.2 1094,96.4 1092.4,98.1zM920.4,380.1 921.5,380.8 925.4,381.4 926.2,381.3 927.1,380.2 924,371.5 922.8,370.5 917.8,372.6 917,374zM1001.5,92.9 1000.4,96.1 1001.6,97.1 1004.4,96.6 1006.1,95.6 1006.3,94.8 1005.8,92.3 1006.9,89.9 1008.6,88.3 1008.6,87.5 1007.6,86.2 1006.2,85.8 1005.5,86.1 1004.8,87.8 1003.9,88.6 1001.9,89.2 1001.4,89.9zM1276.6,392.2 1271.3,390.7 1270.5,391.2 1269.7,392.3 1269.7,393.1 1270.9,396.6 1271.4,397.3 1272.7,397.7 1276.8,395.8 1277.4,393.2zM961.6,196.6 960.7,195.6 960,195.5 955.1,196.3 951.9,200.4 951.7,201.1 952.1,202.4 956.6,206.6 962.3,204.7 963.3,203.7zM1254.6,166.6 1255.9,167.5 1257.3,166.8 1262.2,158.8 1262.4,158 1261.5,156.7 1253.7,157.2 1252.6,158 1251.9,159.5 1252,160.2zM1095.6,443 1094.6,444.2 1094.7,445 1099.6,448.5 1100.3,449.4 1101.2,449.7 1107,446 1107.6,443.1 1107.4,441 1106.9,440.1 1105.8,439.3zM1176.3,316.7 1174.9,316 1170.1,316.7 1169.4,317.9 1169.3,320.6 1169.7,321.8 1175.1,327.3 1176.4,327.8 1177.1,327.5 1180.1,324.1 1180.3,323.4zM963.7,155.6 962.5,154.9 961.2,155.4 958.6,158.6 958.3,159.9 962.5,165.4 963.3,165.9 965,166.1 966.5,165.5 966.9,164.9 968.5,160.2 968.1,159.5 965.6,157.9zM1216.5,220.4 1216.3,221.9 1217.5,222.8 1225.8,224 1229.3,218.9 1229.6,218 1227.9,215.6 1226.4,215.2 1219.5,217.1zM1119.3,468.9 1116.8,476.1 1117.7,477.2 1124.4,476.4 1125.1,475.2 1125,471.7 1121,468.9 1120.1,468.6zM1192.1,278.8 1190.8,279.1 1190.2,280.4 1190.7,287.2 1191.4,288.4 1192.1,288.8 1193,288.8 1198.3,281.8 1197.9,280.5 1197.2,280.1zM1200.5,375.3 1199.3,376.3 1199.2,377.1 1200.3,378.2 1211.5,381 1212.8,380.7 1213.2,380.1 1212.6,373 1211.9,371.9 1205,371.4 1202.8,374.2zM1085,425.8 1085.8,426.6 1088.5,427.8 1093,426.2 1093.7,425.7 1094,424.8 1093.6,418.4 1092.2,417.7 1091.4,418 1085.1,423.5 1084.6,424.3zM1180.7,81.9 1180.2,83.5 1181.5,87.7 1186.6,89.2 1187.6,89.1 1188.3,88.5 1191.4,82.7 1191,81.8 1189.2,80.4 1184.7,79.8 1183.3,80.2zM1312.6,301.7 1311.5,302.3 1310.3,304 1311.3,308.3 1312.5,308.9 1319.2,308.8 1319.8,308.2 1319.9,307.3 1318.9,302.3 1317.7,301.7zM1212.1,244.8 1211.1,248.3 1212,249.4 1215.8,249.9 1217.3,250.5 1218.6,249.9 1219.3,248.7 1219.1,248 1217.5,246.3 1216.3,244.1 1215.6,243.7zM1089,403.5 1087,401 1081.4,398.3 1080.4,398.7 1077.6,401.5 1076.7,403.3 1076.5,405.1 1077.2,407 1078,407.7 1084,409.8 1086.5,408.6 1088.8,405.1zM1160.3,87.6 1161.2,88.3 1163.3,89 1166.3,89 1167.7,88.1 1167.8,87.2 1166.3,77.4 1162,75.5 1161,75.6 1160.4,76.2 1157.3,81.7zM995.7,155.3 994.3,154.7 993.1,155.6 993.4,161.5 994.8,163.4 996.6,163.9 997.7,163.2 999.9,159 999.6,158.2 997.1,156.8zM1250.1,208 1247.1,211.7 1247.1,215.4 1248.1,216.2 1254.1,217.8 1257,215.1 1255.2,208.6 1254.7,207.9 1253.9,207.6 1252.1,207.4zM1118.1,524.2 1117.3,525.4 1117.9,526.7 1118.6,527 1123.7,527.6 1125.3,526.9 1125.6,526.2 1125.5,525.4 1122,522 1121.3,522.1zM1128,221.8 1129.5,225.2 1130.6,225.9 1131.8,225.9 1133.3,225.3 1134.9,223.8 1137.1,222.9 1138.1,218.3 1132.6,213.9 1131.2,213.7 1128.8,215.2 1127.6,217.1 1127.4,219.1zM947.2,257.3 953.6,258.2 954.3,257.7 957.2,253.2 957.3,251.9 956.3,250.9 949.4,249.2 948.2,249.4 945.3,254.4 945.2,255.3 945.6,256.2zM959.8,279.5 961.3,283.6 960.9,284.9 961.2,285.7 962.6,287.7 963.3,288.3 964.2,288.3 966.9,287.3 968.9,281.2 968.8,280 968,278.8 966.4,278.7 963.1,276.8 962.2,276.8 960.2,278.7zM1203.4,297.6 1204.4,298.7 1205.2,298.8 1206.3,297.9 1206.4,297 1206,296.2 1204.5,295.8 1203.9,296.2zM1020.6,496.8 1019.4,497.4 1017.4,500.1 1018.4,504.8 1018.9,505.6 1019.6,506 1024.4,506.4 1026.3,503.1 1026.2,501.6 1023.1,497.5 1021.9,496.9zM1079.1,511.6 1075.4,516.8 1076,518.2 1079.1,520.3 1080.5,520.5 1084.9,516.3 1085.4,515 1082.7,511.3 1080.4,511zM982.8,169.8 978.4,167 977.6,167.2 972.2,170.8 972.1,172.8 972.5,173.8 976.2,177 977.5,176.7 983.3,171.4 983.3,170.5zM1046.2,125 1046.8,126.2 1048.2,127.6 1050.2,128.7 1051.6,128.7 1053.7,127.6 1054.5,126.7 1056,122.2 1055.8,120.9 1051.6,117.7 1049.8,117.6 1046.3,123.6zM1173.4,205.8 1174.2,208.3 1175.5,209 1179,209.3 1179.8,208.8 1180.2,208 1179.8,206.2 1177.4,204.9 1176.1,203.7 1174.7,203.8 1173.5,205zM1209.4,318.7 1208.9,320.2 1210.6,325.6 1212.2,325.9 1216.8,323.6 1217,322.2 1215.2,317.9 1211.1,317.4zM1044.7,403.8 1043.1,404.5 1042.7,405.8 1043,406.5 1045.3,408 1046.8,407.9 1050.1,405.3 1050.2,404.5 1049.8,403.7 1046.8,402 1045.6,402.6zM1093.9,180.7 1095.1,180.3 1095.5,179.8 1097,175.4 1092.8,170.9 1090.1,170.2 1089,170.4 1087.1,172.5 1087,174.1 1090.5,180.1zM1205.9,343.5 1203.9,345.8 1204.2,347.3 1206.9,348.2 1208.4,347.8 1209.5,345.3 1209.1,344 1207.2,343zM1004.9,469.9 998.8,468.1 997.5,469.4 997.1,472.5 1000.6,476.9 1001.6,477.4 1002.9,477.3 1003.5,476.6 1005.9,471.2zM943.1,159 944.3,159.8 945.6,159.2 946.3,157.4 946,156.6 944.2,155.7 942.7,156.5 942.4,157.2zM1065.6,170.9 1067.6,172.2 1068.9,172.2 1071.2,170.5 1072.6,168.2 1071.3,161 1067.5,159.3 1066.2,159.6 1065.7,160.4 1063.8,166.3 1063.9,167.4zM935.5,457.1 935.4,458.3 936.1,459.6 941.6,463.3 943,462.8 945.8,459.5 946.2,458.6 945.5,457.3 939,453.2 937.6,453.9zM985,314.8 985.2,316.1 985.7,316.6 992.8,317.3 994.1,316.8 995.2,315.2 994.8,313.9 988.9,308.2 987.5,308.5 987.1,309.1zM1272.9,328.7 1272.8,330.2 1274.8,332.5 1276.1,332.7 1280.5,328.5 1280.8,326.9 1278.2,324.7 1276.8,324.6 1274.9,326.9 1273.7,327.3zM943.7,242.7 939.3,243.2 938.7,243.6 937.6,248 942.9,254.4 944.2,254.9 945.4,254.1 948,249.3 947.8,246 947.5,245.3zM1182.4,284.2 1182.8,285.7 1183.5,286.1 1189.4,287.2 1190,286.9 1190.5,285.6 1190,280.5 1186.4,278.8 1184.5,278.9zM1263,282.7 1262.3,283.8 1262.5,285.4 1268.4,293.8 1269,294.2 1270.2,294.4 1271.9,293.6 1275,287.7 1274.8,286.1 1269.3,279.9 1267.3,280zM1182.6,334.9 1181.3,335.7 1181.1,336.8 1182.5,340.9 1183.6,342.1 1184.5,342.2 1185.2,341.7 1191.9,334.5 1190.8,330.4 1190.4,329.7 1188.9,329.4 1188.3,329.8 1187.4,332 1186.2,333.5 1184.6,334.5zM1032.7,414.5 1031.1,415.7 1031,416.4 1034.7,423.1 1039.9,422.8 1041.1,422 1041.3,421.2 1039,416 1039.1,414 1038.6,413.3 1035,412.3 1033.7,413zM1219.1,148.5 1219.2,149.9 1220.8,152.9 1226.6,154.6 1228.1,154.2 1228.4,152.8 1226.5,145.2 1225.8,144.3 1222.7,143.3 1221.1,143.7zM973.1,189.5 973.9,188.4 973.9,187.7 972.5,183.5 967.8,182.2 966.9,182.3 966.2,182.9 965.4,184.3 965.5,185 967.8,191.1 969.4,191.3zM892.1,353.1 893,352.1 893.5,349.2 891.1,346.3 889.8,346 884.4,347.5 884,349.1 886.2,354.6 887.8,354.9zM1296.5,319.6 1297.3,320.8 1303,323.7 1304.5,323.6 1305.6,321.6 1305.6,320.5 1302.7,313.1 1301.3,311.9 1299.9,312 1299.4,312.4 1296.5,316.6zM1078.7,408.1 1077.3,408.3 1076.8,408.8 1074.5,414.5 1075.3,415.7 1079.6,417.6 1080.6,417.6 1081.6,417.1 1084.8,412.9 1085.1,411.5 1083.5,409.9zM955,347.5 954,348.6 954.4,350.4 955.1,351.3 960.6,354.1 962.1,354 965.8,351.1 965.4,347.4 963.1,345.1zM975.2,281.8 969.8,280.9 968.8,281.9 967.5,286.9 968.4,288 972.6,289.9 974.1,289.8 974.6,289.3 975.3,286.8 976.6,285.1 976.4,283 976,282.2zM968.8,462.8 968.5,464.2 970.2,466.2 975.7,469.3 977,468.6 979.2,464.7 978.5,463.4 972.5,459.6 971.2,460.1zM931.4,210.1 931.8,211.8 933.2,212.3 936.6,210.2 937.2,209 937.1,208.4 936,207.4 932.6,206.8 931.6,207.7zM904.7,371.5 906.6,374.8 907.7,375.4 914.1,373.7 914.9,372.7 914.9,372 913,365.3 910.6,364.5 909.1,364.9 905.2,369zM988.2,465.2 988.4,466.6 989.6,467.2 992.6,466.5 994.1,466.7 996.1,467.7 997.4,467.2 998.8,461.3 998.7,460.3 997.2,457.7 995.9,456.9 991.8,457.3zM1125.2,475.6 1125.8,476.9 1126.5,477.1 1133,478 1134.4,477.5 1134.9,475.6 1134.7,474.6 1131.3,469.5 1130,468.8 1125.5,471.7zM1261.1,389.9 1251.9,390.9 1251.4,392.3 1252.3,393.5 1259.3,396.1 1260.9,395.8 1262.1,391.6 1261.7,390.3zM1278.2,308.6 1276.9,308.8 1276.4,309.3 1274.1,313.8 1274.1,315.2 1275.2,316.9 1276.4,317.2 1285.1,314.8 1285.6,313.7 1285.3,311.2 1284.6,310.7zM973.6,343.5 974.6,344.7 976.2,344.3 977.1,341.4 976.8,340 975.5,339.5 973.9,340.4 973.3,341.9zM921.9,201.8 920,206.3 920.3,207.1 921.8,207.6 922.5,207.4 923.9,205.6 926.3,204.3 926.6,203.6 926.3,202.2 924.3,199.7 922.8,199.6 922.3,200.1zM878.5,245.8 877.8,247.1 877.9,248.8 879.3,252 887.9,253.4 889.3,252.8 889.7,249.7 889.5,248.8 886.9,246.6 884.4,243 882.9,243zM911.6,329.6 912.7,329.7 916.2,328.5 917.2,327.5 916.1,323.2 915.4,317.9 915,317 913.5,316.5 911.9,316.9 910.9,318 909.6,327.5 909.7,328.5zM1269.7,182.9 1268.3,183.1 1264.6,185.7 1264,186.9 1265.7,190.4 1271.2,192.1 1272.3,191.2 1272.4,190.5 1272,184.7 1271.7,183.9zM1290,306 1289,306.1 1288.3,306.7 1285.9,310.6 1285.7,311.8 1286,312.7 1288.5,315.2 1296.1,316.7 1298.7,313.2 1299,312.5 1298.5,311.1 1296.3,307.6zM1279,215.8 1279,214.2 1275.6,208 1274.2,207.3 1272.8,207.9 1268.9,214.2 1270.8,217.3 1276.2,218.4 1277.7,217.7zM907.1,393.3 908.6,393.9 912.8,391.7 917.3,391.5 918,391 918,389.4 915.7,385.7 910.8,384 909.6,384.1 907.9,385.9 906.6,389.6 906.5,391.4zM1098.7,146.7 1099.2,147.8 1101.9,149.9 1103.5,150 1108.9,147.1 1110.4,143.1 1110.3,141.6 1109.1,140.9 1099.1,140.9 1098.4,142.3zM1248.8,216.5 1247.4,216.9 1247,217.6 1244.9,225 1246.2,226.8 1250.2,227.3 1251.3,226.9 1254.2,224.8 1254.2,219.2 1253.9,218.3 1253.1,217.8zM945.7,377 937.7,380.2 937.4,381.5 938.2,383.9 942.3,387.2 943.3,387.5 944.9,387.4 949.8,383.8 949.8,381.9 948.9,379.6 947.7,378.2zM1072.7,167.5 1073.2,168.4 1075.5,170.4 1079.2,169.5 1081.1,161.2 1078.9,158.1 1077.6,158.1 1072.6,160.4 1071.9,161.1 1071.8,162zM978.4,223.6 978.4,225.2 979,225.8 984.2,228.6 985.6,228.6 988.2,226.8 988.6,219.6 988.2,219.1 986.7,218.5 981.8,218.6zM1204,136.4 1203.7,137.5 1204.9,144 1205.7,145.1 1207.9,145.8 1212.1,141.8 1212.5,140.3 1211.9,138.5 1211.2,137.7 1206.5,135.1 1205.1,135.1zM1305.5,322 1305.7,325.2 1306.6,326.5 1313.9,325.8 1315.1,325 1316.8,322 1316.9,320.5 1315.4,318.5 1312.7,317.6 1306.4,320.8zM972.5,453.6 971.8,452.2 970.2,452.2 963,456.3 962.5,456.8 962.4,458.1 966.7,462.6 968.2,463 971.7,459.4zM1205.7,247.2 1205.7,248.6 1206.2,249.1 1209.9,249.5 1210.8,248.5 1211.5,244.7 1209.6,243 1207.7,242.9 1206.6,243.7zM1296.6,333.5 1298,334.4 1305.4,331.2 1305.9,329.7 1305.1,327.6 1304.4,327.3 1303.5,327.4 1297.1,330.2 1296.2,331.5zM1050.1,129.5 1049.2,130.8 1049.4,131.5 1052.2,136.4 1052.8,137 1058.9,136.2 1059.9,135.6 1060.7,134.4 1060.9,133.3 1060.1,130.3 1055,127.7 1053.7,127.7zM978.2,145.8 976.7,147.6 976.8,148.3 977.7,150.2 978.3,150.6 987.5,153.5 989.5,153.1 990.5,152.2 989.5,144.4 983.7,141.1 982.4,141 980,142.1 979.3,143zM1041.1,91.6 1040.1,92.9 1041.1,95.2 1041.3,97.7 1041.9,98.4 1044.2,98.7 1045.1,98.5 1045.6,97.8 1046.4,95.9 1049,93.1 1049.5,91.7 1048.6,90.1 1047.8,89.6 1046.9,89.6zM1242.5,328.3 1242.3,330.5 1245.4,333 1246.1,333.1 1248.2,331.8 1249.3,331.6 1250.1,330.3 1249.4,328.4 1248.2,327.6 1244,327.3zM1216,126 1214.6,126.2 1213.8,127.2 1215.5,133.8 1221.8,135.7 1224.9,133.9 1225,132.9 1224.1,128.7zM877.6,234.8 876,235.1 875.5,236.6 877.3,244 877.9,244.6 879.5,244.8 883.4,242.4 883.8,241.4 884,238.2 883.1,237.1zM1020.8,476.1 1021.7,475.9 1022.4,475.2 1025.4,468.3 1025.3,466.9 1024.7,466.4 1018,466.4 1016.8,467.2 1016.7,474.2zM1280.1,214.9 1279.2,215.6 1277.4,218.7 1277.9,221 1278.7,221.9 1283.2,224.1 1284.8,223.9 1287.5,215.9 1287.5,214.5 1286.4,213.6 1285.7,213.6zM1026.5,466.5 1022.6,475.4 1023.3,476.6 1030.1,476.6 1030.9,475.5 1031.6,468.7 1028.6,466.3 1027.1,466.1zM1145.2,238.1 1146.3,239.2 1149.2,240.3 1150,240.1 1155.7,236.8 1155.7,234.3 1149.1,231.3 1147.8,231.4 1144.7,235.7zM1111.1,90.4 1111.4,91.8 1112.7,93.7 1114,94.5 1120.1,90.8 1120.8,89.5 1117.7,83.5 1116.9,82.9 1114.9,82.2 1113.6,83.2zM1225.1,125.5 1225.7,126.7 1227,127 1233.9,125 1234.3,123.5 1232,116.7 1230.3,116.5 1225.7,119zM980.1,415.8 975.4,415.7 974.4,417.1 974.7,421.5 982.3,426.6 983.7,426.7 987.1,423.1 987.6,421.6 987,420zM1141.5,144.6 1142,145.6 1143.2,146.7 1145.3,147.1 1147.1,148.3 1151.4,147 1152.1,145.6 1150.2,143.3 1150.5,139.8 1149.7,138.7 1148.8,138.2 1147.9,138.4 1142.2,141.8 1141.6,142.4zM1199.2,279.3 1199.3,280.9 1199.9,281.4 1206.4,282.2 1208.1,283.1 1209.5,282.8 1210,282.2 1209.4,278.6 1208.8,277.7 1203.3,274.1 1201.9,274.8zM1061.9,133.9 1060.7,134.6 1059.8,136.2 1062.4,141.6 1063.1,142.3 1066.4,143.9 1067.3,144 1068.1,143.6 1070,141.6 1071.6,137.3 1071.5,136.1 1070.7,134.5 1069.3,133.7zM1145,511.4 1143.7,511.9 1143.3,513.2 1147.2,517.7 1147.9,518.1 1148.8,518.1 1152.9,516.1 1153.1,512.6 1152.3,511.3 1151.5,511.2 1149.3,512.1zM975.1,241 969.8,245.8 970,247.2 973.1,251.3 976.2,252.5 977.6,252.2 979.9,245.9 977.4,241.4 976.7,240.8zM1283.8,281.9 1284.6,283.2 1285.4,283.3 1294.3,282.4 1295.6,281.4 1297,276.9 1295.6,275.5 1288.1,273.5 1284,278.3 1283.7,279.3zM1310.2,295.6 1309.2,294.6 1307.8,294.9 1302,299.8 1301.5,301.1 1301.8,302.5 1302.9,303.2 1309.3,303.8 1310.6,303.3 1311.7,301.6 1311.6,300.9zM1195.5,129.5 1196.8,129.4 1197.6,128.5 1198.8,124.4 1198.7,123.4 1198.1,122.7 1193.4,120.3 1192.6,120.6 1189.8,123.1 1190.4,126.6 1191.2,127.7zM937.2,349.9 933.4,354.2 933.7,356.2 934.7,357.3 935.5,357.3 942.5,355.3 943,354.1 943,352.3 942.9,351.6 941.9,350.8zM914.4,349.2 916.7,348 917.8,347 918.3,345.7 914.9,339.8 914.2,339.2 913.3,339.1 907.6,340.2 906.7,340.8 905.5,342.8 905.7,343.5 908.3,348.5zM1258.1,318.2 1253,321.5 1253,322.9 1257.7,326.2 1259,325.8 1261.4,321.3 1260.9,320.1 1259.3,318.6zM1214.6,324.9 1213.7,326.2 1214,327.1 1215.3,328.3 1216.2,330.9 1217.7,331.3 1220.7,329.4 1220.7,327.9 1218,326.3 1217.2,324.6 1216.5,324.3zM1261.3,226.6 1261.1,227.9 1262.1,231.1 1262.7,232 1264.9,233.4 1266.3,233.5 1271.1,231.3 1271.6,228 1267.3,224.1 1262.9,224.6zM912.6,331.3 914.6,337 915.5,337.3 916.3,337.1 922.6,333.5 923.3,332.4 922.6,330 921.1,328.9 917.7,328.1 912.9,329.9zM1227.9,228 1226.6,228.8 1226.4,230.6 1229.3,236.9 1229.9,237.5 1230.8,237.7 1231.6,237.4 1235.2,234.1 1234.3,229.1 1234,228.5 1232.8,228zM906.7,351.2 906.5,352.5 907.8,356.4 908.8,357.4 914.8,356.3 915.8,355.7 917.6,352.6 916.6,350.3 915.4,349.4 908.3,349zM1258.9,315.1 1258.5,316.3 1259,318.1 1260.4,319.5 1261.2,319.9 1262.1,319.7 1264.7,317 1266.3,316.2 1267.2,312.4 1266.2,310.8 1264.7,310.2zM1015.6,457.1 1010.9,453.7 1010,453.9 1009.4,454.5 1006.6,460.3 1006.7,461.8 1009.4,465.1 1014.2,464.1 1016,458.7 1016.1,457.8zM1094.3,152.3 1093.8,151.5 1093,151.1 1091.6,151.1 1088.2,154.4 1089.6,159.7 1090.6,160.7 1094.7,159.9 1095.8,158.8zM1039.2,103.4 1038.4,102.9 1037.5,102.9 1033.3,104.4 1031.8,109.9 1032,111.1 1032.8,112.1 1039.3,112.5 1040.5,111.9 1041.5,107.1zM1046.9,108.1 1045.7,107.4 1043.1,107.2 1041.8,107.8 1040.8,111.9 1041.7,113.9 1042.6,114.4 1048.4,115.4 1049.9,114.7 1049.9,113.1zM1251.3,298.2 1249.3,298 1246.6,298.8 1245.9,299.9 1245.6,304.2 1245.8,305.1 1246.5,305.7 1252.7,308.2 1254.9,306.6 1255.3,305.5 1255.5,302.3 1254.9,301zM934,474 934.5,475.1 935.1,475.5 944.4,478 945.5,477.8 947.2,476.9 947.9,475.6 942.6,467 941.5,466.3 934.4,469.2zM1136.9,103.6 1137.2,104.9 1138.1,106.2 1138.6,108.5 1139.4,108.9 1142.1,109.3 1146.3,104.8 1146.6,102.2 1146.2,101.1 1144.8,100.6 1138.3,101.8 1137.6,102.1zM1031.3,484.7 1027.4,486.3 1027,487.6 1028.3,493.2 1034.6,496 1037.4,494.4 1038.7,492.3 1037.8,489.3 1037.3,488.5zM1228,158.9 1230.5,162.9 1231.9,164.4 1232.9,164.8 1234.2,164.6 1234.8,163.9 1238.1,154.5 1236,152.2 1229.3,153.9 1228.4,154.6 1228,155.6zM1171.7,304 1168.7,315.2 1169.6,316.3 1175.2,315.9 1176.2,315.3 1178,312.8 1178.3,311.7 1177.4,306.6 1174.1,303.2 1172.7,302.9zM1303.5,378.6 1305.7,381.4 1306.5,384.5 1307,385 1308.4,385.2 1313,383.9 1313.5,383.2 1313.3,381.7 1311.1,378.1 1310.7,376.5 1310.1,376 1303.9,376.8 1303.4,377.6zM1144.3,84.5 1142.7,84.9 1140.6,87 1139.9,88.5 1141.7,92.8 1142.4,93.5 1146.3,95.3 1147.4,94.9 1149.1,93.1 1150.1,91.1 1150.3,89.1 1149.2,86.2zM967,445 967.3,446.3 970.2,450 971.2,450.6 974.6,450.8 979.8,444 980.3,441.1 980,440.1 977.9,437.7 976.5,437.8 967.9,443.1zM1225.6,127.5 1224.6,128.5 1224.5,129.2 1225.4,134.5 1226.5,135.7 1235.3,132.8 1236,132.3 1236.5,127.2 1235.9,125.9 1234.8,125.2zM895.9,378.7 896.6,380 898,380.1 905.6,376.5 906.2,376 906.2,374.3 905,372.7 903.8,372.1 896.7,372.4 895.9,373.6zM1159.1,234.1 1157,234.5 1156.3,235.1 1156,236.4 1156.4,237.3 1161,242.4 1162.1,242.9 1163.2,242.8 1166.9,241.2 1167.1,240.4 1165.6,235.9 1163.5,234.3 1162.6,232.7 1161,232.6zM1023.5,111.4 1022.7,111.7 1022.2,112.5 1022.3,113.4 1024.8,120.2 1026.3,120.4 1032.2,117.9 1032.6,112.8 1032.4,111.9 1031.5,110.8zM1135.1,192 1135.3,194.8 1136.5,195.6 1139.1,194.5 1140.5,194.4 1144.2,196.4 1145.4,195.6 1145.7,191.9 1143.3,187.9 1141.9,187.6 1139.1,189.9 1135.7,190.8zM932.3,251.1 931.5,252.6 932.1,253.8 938.2,258.3 939.6,257.7 941.9,254.1 941.5,252.9 937.6,248.7 936.3,248.8zM1153,327.3 1150.5,329.4 1150.8,330.9 1154.6,335.1 1155.9,335.5 1156.6,335.3 1158.7,331.3 1158.6,329.8zM980.2,464 977.1,468.6 977,470.1 981.2,472.8 981.1,474.5 981.6,475.2 983.1,475.4 985.5,475 987.2,473.6 987.9,472.3 987.9,469.7 987.4,466.9 986.5,465.9 981.8,463.8zM1261.3,286.5 1260.3,287 1257.6,290.1 1257.2,291.4 1261.5,297.4 1262.4,298 1263.5,298.1 1267.6,295.3 1268.2,294 1263.6,287.1 1263,286.6zM1221.5,162.3 1217,167.9 1217.1,168.8 1218.1,170.4 1226,171.9 1227.5,171.3 1230.7,166.1 1230.4,165.2 1227.8,162.1 1222.7,161.8zM1221.6,210.3 1218.3,211 1217.9,212.4 1218.7,215.6 1219.8,216.7 1226.1,215.1 1226.9,214.6 1227.2,213.7 1227,212.7 1224.7,209.4 1223.9,209.3zM1080.6,146.5 1081.6,145.4 1081.9,143.3 1081.3,140.8 1079.9,138.7 1078.7,138.1 1072.8,138 1069.7,144.2 1069.8,146.9 1070.2,147.7 1071.5,148.8 1073.5,149.1zM909.5,363.6 910.4,364.3 913.2,364.9 915.4,363.2 915.9,361.9 915.2,357.2 913.7,356.6 908.3,358 907.5,359.6zM1249.4,295.4 1249.4,296.3 1249.9,297 1255.6,301.1 1260.3,298.7 1261.1,297.3 1257.2,291.7 1255.9,291.1 1250.9,291.8zM1171.1,342.8 1170.4,345.2 1171.6,348.3 1171.6,350.9 1172.5,353.3 1174.7,354 1177.2,352.2 1181.3,347.2 1181.6,344.2 1180.1,341.2 1178.8,340.6 1173.9,340.8zM1062.6,497.9 1061.9,499.4 1062.2,500.1 1068,507.3 1069.4,507.2 1075.9,503.1 1076.1,502.3 1074.7,497.9 1073.6,496.9 1067.2,495.5 1066.1,495.7zM1280.4,186.9 1279.5,187.7 1278.6,189.6 1278.6,190.9 1279.1,191.4 1282.8,194 1286,192.1 1286.5,191.3 1286.5,190.3 1284.8,186.2 1283.3,185.9zM1108.8,80.9 1107.2,81.3 1101.9,87.7 1102,88.6 1102.7,89.4 1108.1,92.8 1109.2,93 1110.5,92 1113.3,83.1 1112.3,81.9zM1207.6,265.3 1207.6,266.7 1208.8,267.4 1213.8,267.8 1214.9,267.4 1216,265.8 1215.8,259.8 1214.8,258.7 1213.3,258.4 1212.2,259.4 1209,260.8 1208.4,261.4 1208.4,263.5zM1069.1,124.1 1068.2,125.3 1068.3,126.1 1070.5,130.4 1072.1,130.4 1076.1,127.8 1075.9,126.2 1074.5,124.4 1074,122.5 1073.5,122 1072,121.8zM988,423.4 983.9,427.6 984.3,429 989.2,434.2 992.9,433.8 994,432.8 993.2,426.4 992.5,425.3 989.4,423.5zM1157.4,307.9 1156.9,309 1156.6,313.2 1157.2,314.5 1160.6,316.7 1164.4,314.9 1164.4,313.3 1161.1,307.3 1159.6,306.5zM1227.4,193.3 1227.3,194.8 1228.8,196.9 1230.8,199 1232.3,199.6 1238,196.6 1238.7,193.9 1238.5,192.7 1236.9,190.4 1231.2,189.2 1230.4,189.2 1229.7,189.8zM1063.3,386.5 1062,386.4 1060.9,387.5 1060.5,388.4 1060.6,392.6 1067.2,396.5 1068.7,396.5 1071.3,392.8 1071.3,391.3zM973.4,214.2 972.1,214.3 971.6,214.8 971.1,220.4 976.4,223.8 977.9,223.9 981,219.3 981,217.6zM879,192.7 881.7,193.2 882.7,192 882.3,190.3 882.6,188.4 883.8,186.5 883.8,185.7 883.5,185.1 881,183.7 880.2,183.6 879.1,184.7 877.7,190.7 877.7,191.6zM1214.4,200.3 1215.8,200.9 1218.4,199.7 1220.6,199.5 1225.2,201.5 1227.3,200 1227.8,199.3 1227.8,198.4 1226.5,194.5 1221.8,192.3 1214.4,197.6 1213.8,198.8zM1308.9,311.7 1310,311 1310.9,309.4 1311.1,308.3 1309.8,304.3 1309,303.9 1301.8,303.4 1299.6,307 1300.6,311.3 1302.9,312.4zM986.3,326.4 987.3,327 989,326.5 995.5,320.1 995.9,319.4 995.3,317.9 986.1,317.1 985.3,318.5 985.6,325.2zM1250.4,283.2 1250.1,284.4 1250.6,290 1251.5,291.2 1252.2,291.4 1256.1,291 1257.1,290.5 1261.7,284.9 1261.6,283.9 1260.4,282.9 1252.2,282.1 1251.5,282.2zM1190.3,356.1 1189.3,357.6 1189.3,358.3 1191.4,365.6 1194.7,366.5 1197.1,365.7 1198.8,358.5 1198.3,357.1 1196.7,355.2 1195.8,355 1191.5,355.3zM1177.8,313.3 1176.2,315.9 1176.5,316.7 1179.7,321.8 1180.9,322.6 1183.5,321.2 1186.9,316.3 1186.4,315 1185.8,314.6 1179.5,312.7 1178.6,312.7zM929.4,350.5 930,351.7 932,353.2 933.5,353.4 934.1,353 936.8,349.5 935.4,345.5 934.7,344.8 930.8,342.9 929.6,343.7zM919.1,454.3 921.8,459.9 922.5,460.6 924.2,461.2 925,460.8 929.8,456.1 928.7,451.2 927.8,450.2 923.4,450.4 919.8,452.4 919.2,453zM1250.8,183.4 1251.3,185 1256.2,188.4 1257.5,188.1 1260.2,185.5 1259.4,182.1 1258.8,181.3 1256.2,179.7 1251.9,181.3 1251.3,181.8zM1005.5,470 1006.9,469.8 1007.4,469.3 1008.8,466.2 1008.7,464.7 1006,461.3 999.6,460.9 998.8,461.9 997.9,466.1 998.3,467.4zM1221.8,105.3 1223,103.1 1222.3,101.8 1213,96 1211.4,96 1210.1,97.1 1209.8,102 1210.4,103.2 1220.6,105.6zM1032.4,173.6 1031.3,173.1 1028.3,173.3 1026.2,177.3 1026.1,178.3 1027.7,183.5 1028.9,184.6 1032.7,184.8 1033.7,183.7 1034.8,176.4zM1229.2,284.3 1228.9,286.2 1229.7,287.3 1236.5,290.8 1237.7,290.2 1239.7,287 1239.2,283.3 1238.3,281.3 1237.6,281.1 1232.2,280.3 1231.2,280.5zM1147.8,303 1147.5,306.8 1148.7,307.6 1154.9,308.1 1155.9,307.9 1156.8,306.4 1160.2,303.3 1160.5,301.6 1159,300.7 1149,301.2zM1264.7,389.5 1263.3,389.4 1262.4,390.4 1261.3,395.5 1261.6,396.8 1269.3,399.9 1270.9,399.6 1271.3,398 1269.5,392.8 1268.9,392zM1173.7,278.4 1173.5,279.7 1173.9,280.3 1179.4,286 1180.7,286.4 1181.4,286 1184,279.4 1184,278.7 1182.8,276.9 1177.6,275.3 1174.5,277.4zM1245.7,187.5 1245.1,188.2 1245,189.1 1245.5,189.8 1249.1,193.2 1250.5,193 1254.7,190 1255.4,188.8 1254.8,187.6 1250.5,184.8zM1183.9,278 1185,278.6 1189.2,278.6 1190.4,278.1 1192,272.3 1191.5,270.3 1190.9,269.6 1190,269.3 1187.2,270.7 1185.4,270.9 1184.8,271.6 1183,275.7 1182.9,276.5zM1318,339.7 1323.9,339.8 1324.5,339.2 1324.6,338.3 1323.5,332.1 1322.2,331.5 1316.9,332.1 1314.8,335.2 1314.6,336.1 1314.9,337 1317,339.2zM1229.8,380.3 1230,382.9 1231.2,385.6 1232.1,386.2 1236.5,387.6 1237.9,387.4 1238.4,386.9 1238.3,380.5 1238,379.7 1237.3,379.1 1234.2,379.7 1231,379.3zM984.4,171.1 977.2,177.4 977.2,178.3 977.7,179 981.8,182.1 983.1,182.4 984.1,181.4 986.9,173.4 986.8,172.1 985.8,171.3zM1319.9,365.7 1319.5,367.1 1320.6,368.2 1323.8,368.6 1325.3,369.5 1326.6,369.2 1327.1,368.7 1326.9,364.6 1326.5,363.7 1324.4,361.4 1322.8,361.6 1321.9,363.7zM1193.5,135.1 1186.8,137 1186.4,138.4 1190.8,144.3 1193.8,145.3 1195.1,144.9 1197.2,138.8 1195,135.6 1194.3,135.1zM942.5,463.6 942,465.4 942.3,466.4 945,470.5 949.1,472.7 949.9,472.8 950.7,472.3 952.5,459.1 952,457.8 949.8,457.4 947.4,458.1zM935,459.9 935.3,458.6 934.9,457.8 930.2,456.4 924.4,461.4 924,462.1 924.2,463.4 924.9,464.3 926.2,465.1 930.2,465.5zM986.5,405.4 986.3,406.3 986.7,407.1 988.9,409.4 989.8,409.9 992.2,409.9 992.8,409.5 994.2,406.6 996.2,404.5 996.3,403.7 995.3,402.5 991.3,401.3 987.6,403.7zM963.2,421.5 963.7,422.6 967.9,425.8 969.1,426.1 971.5,425.6 972.4,424.9 974.2,422 974.3,419.3 973.3,418 972.5,417.9 964.3,419.8 963.3,420.6zM1054.6,512.4 1053.9,511.5 1052.6,511.2 1045.5,512.8 1045,514.2 1046.1,519.9 1046.6,520.8 1051.2,521.5 1052.4,521 1054.7,513.7zM1111.6,157.3 1111.9,158.7 1112.5,159.1 1114.1,159.5 1114.8,159.3 1116.2,156.1 1119.5,154.5 1119.6,153.2 1119.1,151.5 1118.6,151.1 1115,150.2 1113.6,150.6zM1154,110.4 1156,110.6 1156.8,110.3 1157.3,109.5 1155.3,102.4 1154.5,101.5 1150.1,99.5 1148.4,99.8 1147.1,100.7 1146.9,104.3zM1243.2,266.2 1244.5,266 1245.2,264.8 1241.4,256.9 1238.6,255.9 1237.5,255.9 1235.6,256.7 1234.8,257.5 1234.1,259.8 1235,263.2zM1244.1,170.5 1243.4,171.8 1243.5,175.8 1243.7,176.6 1245,177.3 1246.9,177.3 1248.1,176.7 1252.9,170.5 1252.9,169.7 1251.8,168.8 1248.2,167.9zM896.8,404.6 895.9,403.5 895.2,403.3 889.2,403.9 888.6,405.5 890.2,412.8 890.9,413.2 892.4,412.9 896.8,408.7 897.2,407.4zM1042,186.2 1042.2,187.8 1042.8,188.3 1048.7,190.1 1049.7,189.4 1053.5,183.7 1053.8,182.3 1053,181.3 1049.3,179.4 1047.4,179.5 1044.8,181.2 1043.3,183.2zM1158.5,91.3 1158,92.8 1159.2,97.9 1165.3,101.1 1166.1,101.3 1167.6,100.4 1168.2,99.4 1168.9,93 1167.6,90.5 1165.4,89.4 1161.6,89.2zM1283.6,262.8 1284.9,263.4 1290.9,263.3 1291.8,263 1293.2,258.8 1288.6,253.8 1287.8,253.4 1286.9,253.5 1282.7,259.9 1282.5,260.7zM1268.8,214.8 1267.8,214.2 1266,213.9 1264.9,214.1 1261.6,216.4 1262.5,223 1263.4,224.1 1266.6,224 1267.7,223.2 1270.4,217.5zM971.9,171.3 971.4,170.3 967.3,166.3 966.6,166 965.5,166.1 964.5,167.1 962.2,175.2 963,176.3 965.2,177.3 966.8,177.2 971.3,173.8 971.8,173.3zM883.3,217.5 884.3,218.7 888.3,217.6 889,214.8 888.5,213.5 886.2,212.5 883.6,214.3 883,215.7zM1084,99.4 1082.7,100.3 1083.1,101.9 1088.6,107.7 1089.3,108.1 1090.8,107.7 1092.2,105.5 1091.8,99.4 1090.4,98.7zM1213.9,274.3 1214.5,273.1 1214.4,269.3 1213.8,268.1 1213.1,267.9 1207.4,267.7 1204,273.4 1204.7,274.7 1209.3,277.5zM981.3,234.7 981.1,236.1 982.1,237 985.7,238.1 986.6,238.1 987.4,237.6 988.1,230.4 987.9,229.5 987.2,228.9 985.1,229.2zM978.7,250.9 979.4,253.5 980.7,255.3 982.1,256 985.6,256.3 986.5,255.1 987,247.4 986.7,246.4 985.2,245.6 980.3,246.2 978.8,249.6zM965.1,136.2 966.5,136.2 968.5,133.3 970.9,131.5 972.6,130.9 973.1,129.6 971.8,127.8 969.8,126.9 968.2,126.8 964.6,127.8 962.8,134.4 963.6,135.4zM1300.3,351 1300.7,352.4 1302.1,352.9 1306,351.3 1306.3,349.5 1302.9,347 1301.4,346.9 1300.5,348.2zM977.9,484 976.4,484.2 976,484.9 977.2,490.6 978.5,491.2 983.6,490.5 984.2,489.7 984.2,488.6 981.7,481.6 980.2,481.3zM1190.6,95 1192.1,95.8 1192.9,95.5 1196,93.1 1196.6,92.2 1194.8,82.9 1194.3,82.1 1193.5,81.8 1192.7,81.9 1192,82.5 1188,89.5zM1021.5,486 1018.6,488.9 1017.8,490.5 1017.9,491.5 1020,496.4 1022.2,496.8 1027.2,493.9 1027.8,493.2 1027.9,492.3 1026.5,486.5 1023.2,485.1zM896.2,398.7 896.4,403 897.1,403.6 898,403.6 905.8,401.6 906.2,401.1 906.9,396.2 906.2,395.3 904.9,395.1 897.3,397.2 896.5,397.8zM1156,116.2 1154.8,116.9 1154.6,118.3 1157.4,125 1161.7,126.7 1163.2,126.4 1165.4,120.9 1164.9,118.4 1164.2,118 1161,117.8 1158.6,116.2zM926.7,383.9 927.2,384.9 932.4,389.1 933.9,388.6 937.3,384.1 937.6,382.9 937.2,380.8 936.5,379.9 933.9,378.3 927.2,380.8 926.5,382.3zM919.3,345.9 918.6,346.8 917.8,348.9 917.9,350 919,351.8 922.4,353.8 923.8,353.9 929.1,351.1 929.3,345.1 928.4,343.8 926.6,343 925.2,343.1zM911,424 905.4,428.4 905.3,429.3 907.6,434.9 908.4,435.6 911.2,436.6 912.6,436.3 918.5,430.6 918.1,429.1 912.3,423.8zM1270.1,245.4 1268.9,246.1 1268.5,248.6 1273,253.6 1274.9,254.1 1279.1,250.9 1279.1,249.5 1276.4,245.2zM1070.9,93.1 1071.4,95.9 1072,96.5 1074.2,96.8 1075.9,97.6 1076.7,97.4 1077.5,96.3 1076.9,91.3 1076.4,90.8 1075.1,90.5 1072,92zM1193.6,288.5 1193.4,290 1193.9,290.6 1194.7,291.1 1196.1,290.7 1198.7,287.7 1198.8,285.3 1198.3,284.8 1196.8,284.6zM1204.7,308 1205.8,315.8 1206.6,316.3 1207.6,316.3 1208.3,315.8 1214.9,307.4 1215.1,305.4 1214.3,304.3 1208.6,303.9 1207.3,304.5zM1211.9,194 1212.8,195.3 1215.4,196.3 1220.8,192.6 1221.3,191.8 1221.3,190.9 1219.2,185.7 1218,185.3 1216.9,185.5 1211.9,188.1zM910.3,152.7 910.7,154.4 913.3,155.8 914.8,157.8 915.8,161.2 917.2,161.7 918.3,160.8 918.6,155.6 919.2,154 919.9,153.1 922.1,152 922.5,151.4 922.4,150.1 921.5,149 919.1,148 917.8,148 911,152zM1184.7,135.1 1185.2,136.5 1186.6,136.8 1193.6,134.9 1194.7,134 1195.6,131.1 1195.4,129.7 1190.6,127.7 1185.5,132.3zM913.6,438 913.1,439.3 913.4,440.5 915.5,442.1 916.5,442.4 925.6,441.7 928,437.7 927.8,436.9 926.5,436.2 916.2,436.2 915.2,436.5zM953.9,417.5 952,427.9 953.3,428.9 957,429.8 958.2,429.2 962.8,422.7 963.1,421.7 962.7,419.7 960.9,417 960.1,416.5 958.9,416.3zM1155.9,152.2 1154.1,156.6 1154.4,157.4 1155.4,158.1 1158,158.8 1159,158.7 1159.8,157.7 1162.7,150.6 1162.6,149.1 1161.2,148.5 1157.8,149.7 1156.9,151.5zM986.9,303.3 987.9,304.9 988.6,305.5 989.5,305.5 996.3,303.7 997.4,302.7 997.4,301.9 991.3,294.6 989.8,294.1 987.4,296.1zM985,185 983.8,185.9 982.1,189.4 982.2,190.9 983.3,192.4 984.3,193 989.8,193.3 990.7,192.1 990.9,185.4 989.5,184.7zM885.8,284.6 887,286.3 887.7,290.5 888.1,291 889.9,291.5 891.3,291 891.6,289.5 890.8,287.4 891.9,283.9 891.6,283.1 889.4,282.1 886.8,282 885.7,283zM1122.5,91.6 1121.6,90.7 1120.3,90.8 1114.7,94.6 1114.6,96 1119.1,102.3 1120.4,102.3 1123.8,100.8 1124.6,99.9 1124.6,98.8zM1212.4,137.3 1212.1,138.8 1213,141 1218.8,142.7 1219.8,142 1221.8,138.7 1222.3,136.9 1221.2,135.7 1215.4,134.3zM1001.1,432.9 999.7,425.3 998.4,424.8 994.7,425.4 993.5,426.3 994.4,433 995.2,434.1 996.4,434.4 1000,433.8zM1195,109.8 1194.9,111.2 1195.9,112.1 1200.9,113.3 1201.9,113.2 1206.3,110.9 1207.1,109.4 1207,107.6 1206.3,106.3 1200.9,103.3 1199.8,103.2 1198.7,103.9zM1205.5,132.6 1205.5,134.2 1206.1,134.7 1211.3,137.5 1212.5,137 1215.1,133.9 1213.7,127.9 1212.7,126.8 1209.6,127.3 1208.7,128zM1219.1,170.8 1218.2,170.9 1217.5,171.5 1215.2,175.8 1215.3,177.3 1218.2,181.5 1221.4,181.9 1224.1,181.6 1225.4,180.5 1225.5,178.3 1226.2,176.2 1225.8,175.3 1224.9,174.3 1223.9,171.9zM1220.1,380 1220.2,381.3 1222.7,383.4 1224.1,384.2 1227.1,384.8 1228.1,383.9 1230,379.3 1229.5,378.2 1227.5,376.6 1226.1,374.7 1223.8,374.3 1222.9,374.5 1222.3,375.2zM933,336.7 930,337.2 929.3,338.4 929.6,341.7 934.6,344.6 935.8,344.7 942,342.2 942.2,340.7 941,338.4zM1253.3,308.1 1252.9,309.3 1253.1,311.4 1258,315 1259.3,314.7 1264.1,310 1263.8,308.5 1263,308.1 1256.2,306.4 1254.8,306.8zM1205.3,212.4 1204.7,213.5 1205.8,216.2 1207.2,216.6 1209.7,218.3 1211.1,218.1 1211.8,216.8 1211.2,210 1209.8,209.3 1209,209.6zM1198.8,337.5 1198.2,338.8 1198.9,340 1201.4,340.5 1204,342.6 1204.8,342.7 1206.1,341.7 1206.5,339 1207.9,337.7 1208.4,336.2 1207.3,335.1 1204.8,335.6 1201.9,335.2zM1004.2,489.3 1005.3,490.2 1006.6,489.8 1011.9,484.3 1012.4,483.5 1012.2,482.6 1010.7,480.2 1006.1,480.1 1005,480.7 1003.5,486.9zM1279.1,203.3 1279.9,204.6 1287.1,208 1287.9,207.6 1288.4,206.8 1288.8,201.1 1287.9,200.2 1282.4,198.5 1279.3,200.8zM959.8,298.1 957.4,297.9 956.2,299 957.6,305.1 958.7,306.2 963.1,306.8 965.7,302.9 966,301.6 965.5,298.6 963.6,297.1zM1040.5,444.6 1041.3,448.8 1042.9,449.3 1043.6,448.8 1044.7,444.6 1044.2,443.3 1042.7,443 1040.8,443.8zM960.9,359.5 961.9,361.3 963,361.8 969.2,361.8 970.4,361.2 970.9,360 967.1,352.6 965.7,351.9 961.5,354.7zM987.4,87.2 987.5,93.3 989.1,94.3 989.9,96.1 992.4,96.4 993.3,95.1 992.5,92.2 993.3,89 993.1,88.3 992.5,87.7 990.3,87.4 988.9,86.6zM1298,290 1296.9,290.9 1297.2,295.1 1297.6,295.9 1301,299.5 1302.4,299.3 1309.2,293.6 1310,291.6 1309.9,290.5 1309,289.3 1306.6,288.4zM1207.4,303.1 1208.6,303.8 1212,303.9 1213,303.6 1215.3,301.7 1216.1,300.3 1216.2,299.2 1215.6,297.5 1214,296.1 1211.7,296.8 1207.6,296.5 1207,296.9 1205.7,300.2zM1203.3,365.6 1202.8,367 1204.5,370.5 1205.6,371.2 1210.4,371.4 1212.7,369.5 1213.8,368.3 1214.2,367.1 1213.7,365.5 1213,365.2 1210,365.5 1206.2,364.1 1204.6,364.3zM1087.6,192.3 1081.3,200.3 1082,201.7 1087.8,205.5 1089.3,205.6 1090.1,204.5 1091.2,195 1090.8,193.9 1089.2,192.4zM1209,176.8 1207.7,177.7 1207.5,178.8 1209.3,182.4 1209.5,186.4 1210.2,187.1 1211.6,187.7 1215.7,186 1216.5,184.9 1217.6,181.4 1215.2,177.3 1213.9,176.7zM994.6,342.1 994.3,344.4 995.3,346.9 996.7,347.1 998.5,346.6 1000,346.9 1001,347.6 1002.4,349.9 1003.8,350.1 1004.4,349.7 1004.9,348.5 1004.6,346.6 1002.8,343.6 1002.7,340.2 1001.7,338 1000.4,337.6 999.8,337.9 995.4,341zM1215.3,267.3 1214.5,268.7 1214.6,273 1215.3,274.2 1220.5,277 1223.7,275.7 1225.9,274 1226,271.3 1224.9,269.2 1224,268.6 1217,266.8zM1227.4,299.5 1225.9,299.8 1225.4,301.2 1227.7,311.3 1228.9,312.4 1230.7,312.3 1231.7,311.9 1236.1,307.9 1236.6,306.3 1235.1,302.4zM1220.6,278 1219,283.3 1219.9,285.5 1224.2,288.7 1225.1,288.5 1228.3,286.1 1230.2,281.8 1230.2,280.1 1229.4,277.8 1228.1,276 1226.4,275.1 1224.9,275.1 1221.2,277.2zM1068.3,149.6 1066.9,157.7 1067.8,159 1071.5,160.7 1076.5,158.4 1077.4,157.1 1073.3,149.8 1072.4,149.2 1069.4,148.5zM1098.2,454.6 1098,455.9 1098.9,456.9 1103.6,458.6 1106.8,459 1108.3,457.2 1108.5,456.1 1107,447.9 1106.4,447.5 1105,447.6 1100.9,450.3 1099.9,452.5zM901.5,321.5 901.4,324.6 901.8,325.5 905.8,329.1 906.5,329.4 908.5,329 909.4,327.8 910.7,318.7 910.3,317.5 909.2,316.5 907.1,315.8 906.2,315.8 905.4,316.3 904.3,319.2zM905.6,351.9 906.6,351.2 907.9,348.7 905,343 898.1,343.2 896.9,343.8 896,345.1 895.9,346.4 901.6,352 902.9,352.3zM931.2,284.1 929.8,283.7 928.7,284.6 929.2,289.5 930.2,290.7 932,290.3 933.3,287.4 932.9,286zM1234.8,219.2 1230.2,218.3 1229.5,218.9 1226.3,223.8 1226.2,225 1227.2,227.6 1228.1,227.9 1233.9,227.6 1236.4,223.1 1236.4,221.7zM1253.4,373.3 1250,375.6 1250.2,377.1 1254.3,382 1255.2,382 1260.3,380.3 1260.6,378.8 1260.2,378.2 1257.2,376.9 1254.9,373.5zM1203.3,234.8 1206.2,242.4 1206.9,242.8 1208.5,242.5 1209,241.3 1209.1,235.6 1208.8,234.7 1207.7,234 1204.2,233.8zM1217.2,222.9 1215.7,223.5 1215.1,224.3 1214.9,225.8 1215.2,226.7 1218.7,230.7 1220.2,231.2 1225.3,230 1226.3,229.2 1226.8,227.4 1225.7,224.6zM990.6,401.5 991.2,400.3 991.1,394.7 989.1,393.1 988.1,392.8 986.5,393 985.3,394.7 982,397.6 981.8,398.6 982.1,399.4 986.1,403.8 987.5,403.6zM1249.5,264.2 1249,265.6 1249.3,266.3 1252.5,268.7 1253.8,272.6 1255.3,273.2 1256.1,272.8 1256.7,271.7 1257.8,263 1254.8,261 1253.3,260.9zM1135.2,117 1136.3,118.2 1137.8,118.1 1141.4,119.1 1144.7,116.8 1145.3,115.6 1142.1,109.8 1136.3,108.3 1135.2,108.5 1134.2,109.3 1134.1,110.2zM1034.8,177.8 1033.8,184.6 1034.7,185.5 1039.9,187.3 1041.3,187 1044.9,179.4 1044.8,178.1 1043.6,177.3 1035.7,176.7zM1170.4,281.1 1170.2,282.4 1172,288.1 1176,289 1178.9,287.6 1179.3,287 1178.9,285.6 1173.4,280 1172.7,279.6 1171.8,279.6zM893.5,419.6 892.3,420.2 892.1,421.5 894.8,430.5 901.4,433.1 903.1,432.7 903.7,432 905,428.2 899.7,420.2 898.4,419.6zM994.1,475.3 990.8,476 990.5,477.4 991,479 993.3,481.9 994.8,481.8 1000.1,477.7 999.9,476.2 997.5,473.7 996.7,473.7zM1032.2,426.8 1032.4,429.3 1033.7,429.8 1037.6,428.8 1038,428.1 1037.9,426.4 1038.3,425.1 1038,423.7 1036.7,423.2 1034.6,423.6zM979.9,273.8 979.4,276.6 980.3,277.7 985.8,279.7 987.2,279.5 987.8,278.2 987.1,271.1 985.9,270.4 985.1,270.5 980.7,272.8zM1133.4,239.2 1125.7,240.8 1125.2,241.6 1125.3,242.5 1129.2,250.8 1130.5,251 1136.6,249.2 1137,248.5 1137,245.8 1137.5,242.9 1134.7,239.7zM923.9,130.6 922.1,130.7 916,133.9 915.7,135.5 916.8,137.3 923.3,139.8 924.8,139.4 925.2,138.7 924.9,136.8 925.3,132.3 924.8,131zM943.5,389.6 943.6,390.6 946.7,396.2 947.9,397 951.4,395.4 954,388 952.7,385.6 950.4,384.1 944.2,388zM1242.7,308 1242.5,309 1243.9,315.5 1245.4,316.9 1246.7,317.2 1247.9,316.7 1252.7,311.5 1252.2,308.6 1246.3,305.8 1244.7,306zM1267.5,176.3 1266.4,175.2 1264.9,175.6 1260,180.9 1259.6,182.4 1260.8,185.4 1263.4,186.2 1268.6,182.4zM981.7,105.2 981.3,106.7 983.6,110.3 984.9,110.6 986.6,109.5 986.7,108.1 984.4,104.8 983,104.3zM965.5,388 966.4,389 967.8,388.8 973.3,384.8 974.2,379.7 973.6,378.3 965.1,377 963.7,377.5 963.1,379.3zM1318,331.8 1322.8,331.1 1323.4,329.7 1322.3,323.4 1321.1,322.7 1316.6,323 1314.9,325.8 1316.7,331.3zM1235.2,207.2 1234.3,207.1 1233.4,207.4 1227.4,213.1 1227.3,214.3 1227.7,215.3 1230.5,218 1234.8,218.7 1239.1,213.1 1239.2,211.6 1238.1,209.2zM1286.4,272.1 1287.9,272.4 1288.9,271.4 1290.8,265.4 1290.8,264.7 1290,263.6 1285.1,263.5 1284.3,263.9 1283.7,264.6 1282.9,268.3zM1221.8,101.4 1223.2,101.5 1224.3,100.4 1224.7,98.6 1224.2,97.9 1215.8,92 1214.2,92 1212.9,94.2 1212.9,95.6zM970.4,361.3 970.1,362.5 971.2,367.5 975.6,370.1 976.7,370.3 979.7,369.2 981.4,367.4 981.7,366.5 981.5,365.2 980.9,364.6 978.9,364.6 976.5,363.8 974.4,361.8 973.4,360.1 971.8,359.9zM1160.3,318 1159.7,316.5 1156.5,314.4 1148.9,318.1 1148.1,319.2 1148.2,319.9 1150.8,322 1153,322.5 1159.5,320.4zM1264.6,259.3 1265.7,260.4 1267.2,260 1272.6,254.3 1272.2,252.9 1268.6,249.2 1267.3,249.3 1263.4,252zM1115.1,504 1115.7,504.8 1117.8,506.2 1119.1,505.8 1119.5,505.2 1119.7,501.8 1121.5,499.9 1124.2,499.1 1124.8,498.6 1125,496.8 1124.5,495.6 1120.2,494.4 1118.8,494.8 1118.3,495.8 1118.2,499 1117.7,500.5 1114.9,502.5zM1003.4,144.2 1003.5,145.1 1004.1,145.7 1006.5,147.2 1007.4,147.1 1012.7,143.7 1013.1,134.9 1012,133.1 1010.7,133 1008.6,133.8 1006.7,133.5 1004.9,134.8zM1306.5,350.2 1306.8,351.5 1307.6,352 1308.3,352.1 1309.5,351.4 1309.2,352.7 1310.6,355.6 1311.4,356 1312.3,355.8 1314,354.8 1314.3,354.1 1313.7,352.7 1310.8,350.9 1309.5,351.4 1309.5,350 1308.8,349.3 1307.4,349.1zM1060.7,407.6 1059.4,411.3 1061.1,413 1063.2,414.3 1065.6,414.8 1067.2,413.9 1067.5,413.3 1068.8,408 1068.7,407.1 1064,404 1061.7,404.2 1060.7,405.1zM996.7,416.4 995.1,416.6 990.1,420.5 989.5,422 989.8,423.5 992.7,425.3 993.7,425.5 999.4,424.5 1001.9,422.5 1002.5,421.1 1002.3,420 1001.1,417.5zM1235,163.5 1235.3,165.2 1237,165.5 1244.2,162.3 1244.9,160.2 1244.9,159.3 1242.9,154.3 1242.3,153.6 1239.7,153.5 1238.5,154.5zM1182.6,88.3 1181.2,88.6 1180.8,89.2 1179.2,93.2 1182,99.5 1182.8,100.2 1184.6,100.8 1186.7,99.7 1188.3,97.7 1189.9,96.5 1190.4,95.2 1187.6,89.7zM936.9,398.4 932.6,400.2 932.3,401.2 933.2,405.2 934.7,405.7 936.4,404.3 938.9,408.6 940.4,408.7 941.4,408 943.8,404.5 943.5,402.4 942.8,400.6 938,398.5zM1111.1,170.6 1109.6,170.9 1105.3,175.1 1104.9,175.9 1105,176.8 1107.1,180.6 1109.4,181.5 1110.1,181.5 1112.4,180.4 1113.1,179.8 1113.3,178.9 1112.9,172.2 1112.6,171.4zM1149,126.4 1149.4,127.6 1151.7,128.4 1156.6,125.3 1156.7,124 1154,116.9 1152.8,115.9 1151,116.4 1150,117.6zM1196.6,149.8 1197.1,151.1 1201.2,154.2 1208.3,151.7 1209.2,150.6 1207.9,146.4 1205.5,145.1 1204.4,145.1 1197.2,147.4zM1041.5,115.2 1041.3,113.6 1040.5,112.8 1033.5,112.6 1032.7,113.8 1032.6,118 1035.6,120.9 1036.3,121.3 1037.9,121.1 1038.8,120.3zM939.5,313.6 940.3,317.5 940.9,318.6 946.9,319.7 948.2,319.3 951.6,316.2 952.1,314.8 951.7,312.8 950.7,311.7 941.4,308.6 940.2,309.7zM1244.7,298.1 1239.5,297 1238.8,297.6 1235.8,301.6 1235.6,302.9 1237.1,307 1242.2,307.8 1245.3,305.2 1245.8,299zM1192.5,97.3 1191.2,97 1190.5,97.3 1186.2,100.9 1185.7,102.3 1187.3,108.3 1189.4,110.1 1193.2,111.4 1194.3,110.7 1198.6,103.7 1198.1,102.4zM1016.1,101.3 1014.5,101.8 1014.3,103.3 1017.7,111.3 1019.1,112.2 1021.2,112.2 1022.3,111.9 1022.8,110.8 1022.9,103.8 1021.9,103zM1172,218.1 1171.8,219.5 1174.6,221.7 1179.8,219.2 1180.5,218.1 1180,216.8 1179.4,216.5 1178.2,216.2 1177.1,215.3 1174.8,215.2 1174,215.5zM1030.1,465.1 1029.8,466.6 1030.3,467.3 1032.3,468.6 1034,468.7 1039,466.3 1039.8,465 1039.1,462.5 1035.8,459.5 1034.3,460zM1247.1,216.6 1247.1,215.6 1245.8,213.2 1239.8,212.7 1235.6,218.3 1235.5,219.9 1237.3,222.4 1244,224.5 1245.1,223.4zM896.4,333.7 889.6,334.4 889.1,335.1 888.6,337.5 891.7,341.8 892.9,342.4 897,341.9 897.7,340.7 897.8,334.4zM1031.2,417.4 1030.1,416.6 1028.6,417.1 1026.4,423.4 1027.2,424.6 1031.3,426.7 1032.6,426.1 1034.2,423.4zM1069.7,397.9 1068,397.6 1067.4,398.1 1064.2,403.1 1065,404.5 1069.1,406.6 1073.7,404.6 1074.5,403.5 1074.1,402.2zM973.3,182.5 976.3,178.4 975.8,177 972.9,174.3 971.7,173.9 966.8,177.2 966.2,178.7 967,181.7 971.8,183.1zM1040.9,478.3 1039.4,477.8 1033.1,479.4 1031.7,483.4 1031.7,484.3 1036.2,487.7 1037.9,487.7 1041.5,480.5 1041.6,479.7zM1277.9,240.5 1273.4,238.2 1272.6,238.6 1268.6,241.9 1268.1,242.7 1268.2,243.6 1269.1,245.1 1270,245.3 1275.7,244.9 1276.9,244.1 1278,242zM1135.4,475.4 1136.7,476.1 1140.5,474 1141.2,473 1141.2,471.6 1133.4,465 1132,464.8 1131,465.9 1130.7,468.2zM960.9,113.7 959.5,114.4 959.2,117.3 960,118.6 961.8,119.4 964.5,117.8 965.1,116.6 964,114.1zM1209.3,314.7 1209.1,316.2 1209.6,316.8 1214.8,317.6 1215.8,317.3 1219.7,314.5 1220.3,313.1 1216.5,308.3 1215.8,307.9 1214.9,307.9zM998.5,315.5 1000.5,317.9 1005,319.2 1007.1,318.7 1008,317.5 1005.8,311.3 1002.6,307.9 1001.9,307.9 1000.5,309 998.3,313.5zM1183.4,357 1179.2,359.6 1178.9,360.9 1186.2,368.5 1187.6,368.9 1189.3,367.6 1190.6,364.6 1189.2,358.2 1188.9,357.6 1187.7,357.1zM1214.6,286.4 1215.4,288.4 1215.2,293 1214.7,295.5 1218.4,298.9 1221,298.4 1222.2,297.5 1223.5,295.3 1224,289.3 1218.3,284.5 1215.2,285zM1306.2,341 1305,342.5 1305.3,344 1308.1,346.4 1309.4,346.8 1315.9,345.2 1317.1,339.7 1314,336.4 1308.9,336.8 1308.1,337.2zM886.1,266.8 884.3,264.9 882.8,265.2 881.1,270.4 881.1,271.3 885.6,274.6 886.7,274.8 889.5,273.9 892.2,271.3 892.6,269.9 891.6,268.8 888.1,268.3zM1153.4,322.5 1152.5,323.4 1152.4,324.1 1152.4,325.8 1153.3,327.1 1159,329.6 1159.9,329.7 1162.1,328.9 1163,325.2 1160.3,321.4 1159.6,320.9 1158.7,320.9zM1049.2,468.1 1050.3,469.2 1051.8,468.8 1052.7,465.1 1052.5,464.2 1051.9,463.5 1051,463.3 1049.7,464.1 1048.9,466zM989.3,335.3 989.6,336.8 991.1,337.5 994.1,340.7 994.9,340.9 998.8,338.5 999.7,336.9 1000,334.8 999.1,332 991.1,330.7 990.4,330.8 989.5,332 989.7,334zM1127.3,230 1124.2,231.8 1122.9,234 1122.5,235.4 1122.6,236.3 1124.4,240.1 1125.7,240.5 1133.3,239.2 1134.1,238.7 1135.7,235.1 1130.7,227.6 1129.3,227.7zM983.8,135.8 982.4,139 982.4,139.9 983.1,140.6 989.7,144.1 994.3,142.5 995,141.9 995.3,141 994.8,133.3 993.7,131.8 992.4,131.8 990.7,133.5 989,134.3 985.1,134.4zM1204.9,133.3 1197.5,129.4 1196.3,129.9 1194.8,134 1195,135.4 1196.9,137.8 1197.6,138.4 1198.5,138.4 1203,137 1203.9,136.4 1204.9,134.9zM969.4,275 968.3,278.2 968.5,279.1 969.3,280.4 975.2,281.7 976.1,281.5 976.8,280.9 978.2,277.9 977.3,276.6 970.6,273.9 969.8,274.3zM1038.2,85.1 1038.3,89.8 1038.9,90.4 1041.1,91.3 1047,89.5 1048,88.2 1048.1,83.1 1047.1,82.2 1044.4,81.5 1041,83.4 1039,83.9zM925.7,129.4 928.1,129.7 930.2,130.5 932.1,132.5 933,132.7 936,132.1 936.6,131 936.2,129.5 934.1,128.2 932.4,126 931.8,123 932,121.5 931.6,120.8 930.8,120.4 927.7,121.5 926.8,122.4 924.9,127.4 924.9,128.3zM1108.4,80.6 1113.6,82.1 1115,81.1 1115.8,79.8 1115.9,78.4 1112.5,71.2 1111.9,70.6 1109.7,70.4 1108.4,71.3 1106,77.1 1107.6,80zM1275.7,274.8 1274.8,274.7 1273.9,275.1 1270.4,278.7 1270,280.1 1270.4,280.7 1275.6,286.6 1282.6,285.6 1283.7,283.2 1283.3,278.9zM1272.4,400 1273,401.4 1278.7,405.3 1280.1,404.7 1283.3,399.2 1283,398.3 1282.3,397.8 1277,396.1 1272.8,398.2zM1271.5,217.8 1270.2,218.6 1267.8,223.5 1268.3,224.7 1271.8,227.8 1272.8,228.2 1274.2,227.5 1277.6,222.2 1277.8,221 1277,218.9zM1257.7,318.1 1258.4,316.8 1258.2,315.6 1253.3,312.1 1252,312.6 1248.1,316.9 1248.5,318.3 1251.7,321.3 1253,321.2zM1150.9,173.8 1152.9,175.7 1153.7,175.8 1158.3,175.5 1159,175.2 1160.7,173.1 1161.3,171.6 1160.8,170.9 1157.8,169.4 1156.7,168.1 1155.2,168.1 1153.5,170.8 1150.9,172.4zM1116.3,79.2 1117.6,80 1118.3,79.9 1121.2,78.2 1123.2,74.2 1123,71 1122.1,69.8 1114.3,70.1 1113.1,70.9 1113.1,72.3zM952,311.3 951.9,312.2 952.9,313.5 953.5,315.5 954,316.2 955.3,316.6 956.2,316.4 963.6,312 964.3,310.9 963.1,307.4 958.3,306.2 957.3,306.3 953.8,308.1zM902.6,410.5 902,411.1 901.8,412.1 902.2,414.4 902.6,415.2 903.4,415.6 910.9,417.2 912,416.3 913.4,413.2 913.5,412.3 912.4,408.4 909.6,407zM1196.9,168.1 1197.2,168.9 1197.9,169.4 1205.3,171.4 1208.2,167.7 1207.1,161.9 1202.5,160.6 1201.2,160.9 1197.5,164.1 1197,165zM1225.9,181.3 1219.6,183.8 1219.3,185.3 1221.6,191.3 1222.3,192.2 1225.4,193.7 1226.8,193.7 1230,188.9 1228.4,182.7zM1173,339.6 1173.6,340.4 1174.5,340.7 1179.6,340.5 1180.9,339.7 1180.7,335 1178.1,332.7 1176.7,329.2 1176.1,328.8 1174.6,329 1170.8,332.3zM1088.4,81.9 1088.3,83.2 1089.2,85.7 1090.2,86.6 1096.9,85.2 1097.9,84.3 1097.7,79.7 1092.4,77.4 1091.7,77.3 1090.6,78zM991.5,456.1 992.8,456.9 995.5,456.8 996.2,456.6 996.9,455.2 996.2,449 991.9,446.2 990.6,446.7 988.3,449.7zM1164.9,143.1 1166,144.3 1169.3,143.6 1169.8,142.2 1169.6,140.4 1170.3,138.1 1169.7,136.8 1168.2,136.6 1166.1,137.8 1164.4,140.8zM1272.5,304.6 1273.4,303.5 1273.4,302.8 1270.9,295.5 1270.4,294.8 1269.5,294.5 1268.5,294.8 1264.4,297.7 1263.8,299.3 1265.7,306.4 1267.3,306.7zM1142.8,120.9 1141.9,124.4 1142.7,125.6 1146.7,127.6 1148.1,127.6 1148.9,126.4 1149.8,118.3 1149.7,117.4 1148.3,116.5 1147.3,116.4 1142.9,118.4 1142.4,119 1142.3,119.9zM927,379 928.1,379.9 928.9,379.9 933,378.4 933.7,377.8 933.9,377 934,374.4 933.5,373.2 927.6,368.1 926.3,367.8 924.4,368.6 923.7,369.9zM958.8,337 959.4,338 965.5,341.7 968.4,340.2 969,339.5 969,338.6 967.2,332.5 964.6,331.6 962.5,330.1 961.7,330.1 960.9,330.6 958.6,333.6 958.3,334.9zM925.8,448 926.6,449.4 929.1,450.1 934.2,448.3 934.6,446.9 933.5,445.7 932.7,439.5 932.3,438.7 929.4,437.9 927.8,438.6 925.7,442.3zM966.1,301.4 966.5,302.3 967.2,302.8 975.1,304.9 976.5,304.6 977,303.4 976.6,296.7 976.2,295.7 974.6,294.5 973.7,294.7 966.8,298.6 966.2,299.2zM1037.1,121.4 1036.1,122.5 1035.3,125.8 1035.8,127.3 1041.7,132.1 1045.9,130.1 1046.6,127.7 1045.8,124.2 1039,121.2zM921.1,182.2 919.2,183.7 919.2,184.6 920.9,186.2 921.9,188 921.8,189.5 919.8,192.8 920.1,194.7 921.6,195.8 922.7,195.9 923.6,195.6 924.1,194.7 925.7,190.7 926.9,189.1 926.9,188.4 922.6,182.7zM1241,271.9 1242.3,271.4 1243.5,268.8 1243.8,267.9 1243.4,266.6 1235.8,263.8 1234.9,263.7 1234.2,264.2 1230,269.4 1230.1,270.2 1231.4,271.1zM930,455.3 931,456.4 934,457.2 935,457.2 935.7,456.6 937.4,454 937.8,452.5 937.8,450.2 936.8,448.3 935.5,448.2 929.3,450.3 929,451.7zM1024.1,485 1026.2,486 1027.3,486 1031.1,484.3 1032.6,479.2 1031.2,477.4 1030.1,476.9 1023.2,476.9 1022,477.6 1021.9,481.5zM954.4,159.4 955.7,159.8 958.1,159 962.5,153.5 962.1,151.1 959.2,147.8 956.1,148.4 955.2,149.1 951.4,155.6 951.3,157zM953.4,444 951.5,445.6 951.7,446.9 954.1,450.1 957.2,453.2 957.9,453.6 959.3,453.2 961.2,448.2 961,446.8 955.2,443.9zM1015.1,95.5 1015.1,97.1 1016.4,97.8 1023.8,92.8 1023.5,91.2 1018.8,86.5 1017.5,86.7 1015.3,88.5 1015.2,89.4 1016,90.5 1016.4,92.1zM990.2,171.1 989.6,172.6 990,173.3 994.2,177.8 995.6,177.5 1000.5,172.8 999.7,168.1 998.6,167.2 997,166.7 995.7,167zM934.2,376.7 937.4,379.8 938.3,379.7 945.1,376.8 945.5,375.5 944.5,371.3 938.6,369.6 934.6,373.2 934.1,374.3zM1096.7,174.7 1098.2,175 1100.2,174.4 1101.2,173.2 1102,165.6 1101.5,164.3 1100.9,164 1099.6,164.3 1093.3,170.2 1093.7,171.7zM1080,108.6 1081.3,109.4 1084.5,109.6 1087.4,110.4 1088.3,109.9 1088.8,108.4 1083.5,102.5 1082,102.1 1081.3,102.5 1079.2,106.5zM1032.7,136.7 1039.9,135.5 1040.4,134.3 1040.1,131.7 1039.6,130.7 1034.9,127.1 1031.2,128.8 1031.2,136zM918.5,266.4 917.9,270 919,271 920.4,270.7 922.6,268.9 922.7,267.5 921.4,264.8 920,264.5 919.3,265zM1239.3,211.6 1240.5,212.5 1245.1,212.9 1246.5,212.3 1249.6,207.7 1248.4,204.3 1246.8,201.9 1243.7,201.7 1238.5,208 1238.4,209.5zM1273.8,228.4 1273.6,229.7 1274.6,230.6 1281.7,232.4 1282.8,231.4 1284.4,225.5 1283.6,224.4 1278.6,222.1 1277.4,222.8zM928.2,297.3 928.5,298.8 930.1,299.7 931.4,299.1 932.1,297.8 931.4,295.5 929.9,294.9 929.2,295.2zM1244.4,115 1243.9,114.1 1238.9,110 1237.5,110.5 1234.4,114.3 1234.4,115 1235.3,116 1243.4,118.9 1244.6,118zM947,402.9 951.3,405.7 952.4,405.9 955.4,405.4 956.2,405 956.6,404.1 956.9,398.5 952.2,395.9 950.9,395.9 947.9,397.3 947.2,398 945.9,401.3zM925.7,465.2 924.4,465.7 924.1,467 929.3,473.7 932,474.6 932.9,474.6 933.6,474.1 934,469.7 933.5,468.5 929.9,465.7zM1117.8,80.3 1116.9,81.6 1117.1,82.3 1121.5,89.8 1122.9,89.9 1129.2,87.1 1129.4,85.6 1129,85 1121.8,79.3 1120.2,79.1zM987.7,392.7 989,391.8 991.5,385.7 991.5,384.8 991.2,383.4 990.1,382.3 985.2,382.1 983.8,383 981.2,389.3 981.4,391.7 981.7,392.3 983,392.9zM1163.5,284.7 1163.3,285.9 1165.2,291.7 1166.2,292.7 1167.6,292.3 1171.5,288.3 1170.4,283.3 1169.2,282.3 1164.4,283.7zM1003,422.8 1008.2,427.2 1009.1,427 1012.8,424.9 1013.5,424 1014.2,421.5 1014.2,420.5 1013.6,419.8 1007.9,416.6 1003.2,419.8 1002.5,421.4zM1272.1,184.9 1272.8,191.5 1273.9,192.2 1277.5,190.9 1278.3,190.1 1279.2,188 1279.4,187.1 1279,186.3 1275.3,182.8 1273.1,183.4 1272.3,184zM1194.3,178.4 1195.8,180.5 1197.2,180.5 1199.4,178.5 1201.7,177.6 1206.3,177.6 1206.8,177 1206.9,175.7 1205.3,171.9 1198.5,169.7 1197.6,169.7 1196.9,170.2 1194.6,173.4 1193.8,175.7zM1098,160 1099.3,159.3 1099.6,156.9 1100.3,155.1 1102.9,152.7 1102.7,151.1 1102.2,150.2 1099,147.9 1097.7,148.3 1094.4,151.3 1096.1,158.8 1097,159.8zM1089.4,472.3 1090.2,473.3 1093.4,473.7 1094.1,473.5 1096.3,471.8 1096.6,471.2 1096.4,469.6 1095.5,468.5 1094.7,468.4 1092,469.6 1090,469.3 1089,470.4zM913.6,413.4 912,416.7 912.6,418.5 914.7,421.4 915.4,421.7 923.9,419.9 924.5,419.5 925.3,417.8 925.1,416.6 923.7,414.8 914.8,413zM935.1,149 934.8,150.6 935.3,151.2 937.1,151.7 939.1,153.2 940.5,156.3 942,156.4 943.9,155.3 944.7,147.2 943.9,145.7 940.8,144.2 939.5,144.2zM1142.7,93.8 1141.1,93.9 1136.2,97.8 1136.1,99.1 1137.3,101.3 1138.5,101.6 1146,100.3 1147.1,99.5 1147.7,98 1147.4,96.4zM1073.9,431.9 1075.3,432.1 1077.5,429.9 1083.5,426.9 1084.5,425.8 1084.3,424.7 1083.7,423.9 1081.5,422.7 1075.1,425.5 1073.9,426.8 1073,428.8 1073,430.6zM895.8,232.1 894.7,234.4 895.3,235.6 897.6,236.3 901.8,234.4 903.3,230.3 902.3,228.2 901.1,227.4 900.4,227.5 898.4,230.1zM988.5,433.7 983.9,429.1 982.4,429.5 979.7,432.6 979.5,435 979.7,437.5 980.9,439.5 982,440.2 986.6,439.9 988.7,435.3zM876.4,261.2 875.8,262.4 875.4,271.1 875.6,271.8 876.7,272.6 880.5,271.3 882.6,264.7 882.5,263.7 882,263 878.6,260.9 877.8,260.6zM1263.5,308.1 1264.9,307.7 1265.3,306.3 1263.7,299.2 1262.6,298.1 1261.4,298.2 1255.8,301.6 1255.6,305.6 1256.6,306.4zM953.3,266.1 953.4,267.1 954.3,268.4 955.7,268.5 957.6,265.9 959.3,264.9 959.8,262.6 958.7,261.7 955.5,261 954.4,262zM1187.6,206.4 1187.7,207.9 1188.9,208.6 1195.1,208.4 1196.2,207.6 1196.4,206.9 1195.8,205.5 1195.7,203.3 1195.1,202.7 1194.2,202.6 1189.3,203.4zM1237.3,291 1237.2,292.9 1239.5,296.6 1244.7,298 1245.4,298 1246.4,297.2 1249,292.6 1248.7,291.7 1248.1,291.2 1240.2,287.9 1239,288.6zM1275.9,181.5 1275.8,182.4 1276.2,183.3 1279.8,186.7 1283.2,185.9 1284.2,184.7 1283.8,183.4 1279.2,178.2 1277.8,178.3zM915.5,408.5 914.2,409.4 914.1,410.2 914.8,412.6 915.6,413.1 922,414.3 922.9,414.1 924.4,412.2 924.2,407.9 923.7,407 922.1,405.8 921.4,405.9 918.2,407.9zM1055.5,511.1 1054.9,512.4 1055.7,513.6 1063.6,517 1064.8,516.4 1067.5,512.2 1067.8,511.2 1067.5,510.5 1066.3,509.8 1057.9,509.7zM1056,163.5 1056.3,165 1057.1,165.4 1062.9,166.5 1064,165.5 1065.5,159.7 1064.3,158.7 1057.4,157.8 1056.7,158.4zM1234.2,228.5 1235.8,233.9 1236.7,234.2 1242.2,234.5 1245.4,228.3 1245.2,226.3 1243.6,224.7 1238.1,222.9 1236.7,223.1 1234.4,227.4zM1217.1,158.4 1214.5,160.4 1214.3,161.7 1215.8,165.4 1216.2,166 1217.7,166.3 1221,162.8 1221.3,161.4 1218.5,158.3zM944,391.5 942.7,390.7 942,390.9 938.4,392.9 937.7,397.7 938.6,398.6 944.9,401 946.1,400.1 947.1,397.5zM1228.4,356.3 1228.6,359.1 1231.5,361.7 1233.9,363.2 1235.6,363.2 1237.4,360.9 1235.7,354.9 1234.7,353.9 1234.1,353.9 1231.6,355.1 1229,355.8zM1028.3,358.6 1029.2,364.8 1030.2,365.6 1033,365.5 1036.9,362.6 1036.7,361 1030.9,354.5 1030.1,354.5 1029.1,355.3zM1154.7,509 1153.3,509.7 1153.1,510.5 1153.3,514.2 1153.9,515.4 1155.5,515.4 1162.3,511.7 1162.6,510.9 1161.8,509.6zM975.6,399.5 974.9,400 974.6,401.6 978.4,410 980,410.1 985.9,406.5 986.2,405.1 985.9,404 981.9,399.2 981.1,398.7zM1166.9,120.8 1165.6,121.2 1165.2,121.8 1163.4,126.7 1163.4,127.8 1164.8,130.6 1168.3,133.1 1169.5,133.3 1170.8,132.8 1173.5,129.8 1176.2,123.8 1175.8,123 1175,122.5zM1213.4,90.8 1206.6,86.4 1205.6,86.8 1204.6,88.3 1204.6,89.5 1207.3,95.8 1209.8,96.7 1212.4,95 1213.2,93.1zM978.9,410.8 978.3,411.4 977.6,413.5 978.3,414.7 985,418.6 986.4,418.6 986.9,418.2 989,410.7 988.6,409.3 986.9,407.5 985.7,407.1 985.1,407.3zM916.5,140.2 915.4,139.1 913.9,139.6 908.1,146.7 907.6,149.6 908.8,152.2 910.4,152.2 917.4,148.2 918,147.4 918.1,146.5zM1000.2,396 1000.1,402 1001.2,402.8 1001.9,402.8 1003.4,401.8 1006.5,401 1007,400.3 1007,398 1006.4,397.4 1004.3,397 1002.5,394.8 1001,394.8zM1040.2,508.7 1045.6,501.9 1045.9,501 1045.6,500.1 1041.5,494.5 1039.9,493.7 1038.8,493.9 1035.2,496 1034.5,496.9 1033.4,500.5 1033.4,501.5 1036.1,508.7 1038.2,509.6zM1151.3,490.5 1151.4,491.8 1151.8,492.4 1158.3,493.1 1161.3,490.1 1161.7,489.1 1161.5,486 1160.8,485.5 1159.9,485.4 1153.7,486.6 1152.6,487.4zM1109.2,456.6 1107.4,459.1 1108,460.4 1113,464.6 1114.1,464.9 1117.4,464.5 1118.4,463.9 1119.4,462.3 1120.6,456.9 1120.4,454.8 1119.8,454.2 1118.5,453.9zM1044.6,434.5 1044.1,436.6 1045.3,437.6 1047.8,437 1048.8,435.9 1049,434.2 1048,433.1 1047.3,433.1zM1280.1,404.9 1280,406.3 1280.4,406.9 1285.1,410.1 1288.8,409.9 1290.1,409 1290.3,408.4 1290.5,406.5 1289.6,403.4 1286.4,401.6 1285.1,399.8 1284.4,399.6 1283,400.3zM933.7,358.5 933.2,360.9 933.7,361.7 937.1,363.9 944.8,360.9 945.5,360.4 945.7,359.5 943.6,356.2 942.9,355.7 942,355.6 934.7,357.6zM1000.7,442.7 1002.3,442.5 1003.2,441.5 1003.5,434.9 1002.8,434.3 1001.1,433.8 996,434.9 995.1,439.1 995.5,440.3zM1240.7,256.5 1242.2,256.2 1246,252.7 1246.5,251.5 1243.4,246.1 1242.3,245.4 1239.7,246 1239,246.5 1238.7,247.3 1238.3,255.1 1239.2,256zM1300,367.5 1299.3,368.8 1299.6,369.6 1302.8,372.3 1304.2,375.6 1304.8,376.1 1310.8,375.6 1311.6,375.3 1312.1,374.5 1312.1,373.7 1311.1,372.5 1310.5,370.6 1311.3,368.9 1311.2,368.2 1309,366.3 1308.4,364.3 1307.5,363.3 1306.1,363.5zM1166.9,268 1167.7,265.4 1166.8,264.2 1158.4,260.9 1154.1,261.8 1153.4,262.2 1152.8,263.7 1154,269.1 1157,270.9 1158.1,271 1165.9,268.9zM1057.4,474.9 1058.9,476 1062.6,475 1064.4,475.1 1065.3,474.2 1065.3,471.6 1061.5,468.9 1060,469 1057.4,473.6zM1265,170.9 1264.9,172.3 1265.8,174.1 1266.7,174.8 1267.8,174.9 1273,173.8 1274.1,172.8 1273.9,171.4 1269.7,166.1 1269,166 1267.8,166.6zM1220.8,313.1 1222.5,313.7 1226.4,312.3 1227.4,311.3 1224.9,299.1 1224.2,298.2 1223.5,297.9 1218.8,299.4 1215.2,303.9 1215.1,304.9 1215.7,307.2zM1039.8,387 1035.1,390 1035,391.4 1035.5,392 1037,392.4 1039.3,394.2 1040.5,393.8 1042.6,391.4 1041.2,387.9zM968.6,426.5 967.1,432 968.3,433.1 974,434 975.4,433.4 975.7,432.6 972.6,426.5 971.9,425.9 971,425.8zM939.9,216.1 940.6,217.4 942.6,217.6 943.4,218 944.6,220.2 945.9,220.8 947.5,219.9 949.9,217.9 950,217.1 948.4,214.2 945.1,213.9 942.4,211 940.9,211.1 939.8,212.3zM1088.8,170.4 1089.4,169.1 1089,162.6 1087.8,161.9 1082.7,161.4 1081.4,161.9 1079.8,168.6 1079.9,169.6 1080.5,170.3 1085.1,172.4 1086.3,172.1zM981,442.2 980.5,443.7 980.9,444.4 986,449.6 987.8,449.5 991.2,445.6 991,443.2 987.2,440.5 984.8,440.4 982.2,441.3zM1119.8,485.3 1120.7,486.2 1121.4,486.2 1124.2,485.5 1124.6,484.7 1125.4,478.4 1125.2,477.6 1124.6,476.9 1118.6,477.4 1117.5,478.1 1117.4,479.4zM1159.3,485.4 1160.4,484.5 1160.3,483.1 1159.8,482.6 1154.7,479.6 1153.9,479.4 1152.6,480.2 1151.3,483 1152.4,485.6 1153.1,486.3 1154.1,486.4zM958.6,167.6 957.6,168.9 957.8,169.7 961.1,172.5 962.6,172.2 964.1,168 963.6,166.5 962.1,166.2zM1024.6,120.5 1021.6,112.6 1020.7,112.3 1018.5,112.3 1014.8,114.6 1014.2,115.6 1013.6,120 1014.1,121.3 1022.8,122.9 1024,122.5 1024.6,121.6zM981.1,390.4 980.4,389.4 973.5,385.2 968.4,388.5 967.7,389.8 971.1,395.6 972.2,396.5 974,396.7 976.9,396.3 980.4,394.8 981.3,393.5 981.5,392.4zM1014.9,339.6 1014.6,341.2 1016,342.9 1016.7,344.3 1016.5,347.4 1016.9,348.1 1018.4,348.5 1023.2,346.9 1023.6,345.6 1023.3,344.9 1018.3,339 1017.5,338.5 1016.6,338.5zM923.4,401.2 922.3,405.4 922.7,406 924.2,406.9 925.1,406.8 931.6,403.1 931.8,400.8 931.4,399.8 928.1,396.8 924.2,396.4 923.3,397.4zM1014.7,463.4 1015.1,464.9 1016.1,465.9 1017.2,466.4 1024.8,466.1 1025.4,465.9 1026.2,464.8 1024.8,460 1023,457.7 1021.7,456.7 1016.6,457.9zM930.9,269.9 932.2,270.2 932.9,270 933.8,268.4 935.3,267 938.8,266 939.1,264.4 937.8,261.8 936.4,261.5 930.9,263.6 930.2,268.3zM908.4,340 913.9,338.7 914.3,337.1 912,330 910.4,329.2 909.4,329.1 906.5,330 905.2,332 905.1,333.1 907,339.5zM929.2,116.1 928.4,118.7 929.1,119.9 931.6,120.2 932.5,119.9 934.1,116.4 935.2,115.5 935.5,114.8 934.3,112.2 932.9,112.1 932.2,112.5zM1072.1,524.6 1080.2,526.4 1081.3,525.3 1080.3,521.6 1079.7,520.9 1076.4,518.6 1075.8,518.4 1074.5,518.8 1071,522.8 1071.5,524.3zM1236.4,349.4 1235.2,352.6 1235.3,353.2 1237.1,358.9 1237.6,359.6 1239.3,359.7 1240.4,359 1243.9,354.9 1244.1,352.9 1243.5,352.2 1240.2,351.2 1238.7,348.5 1237.3,348.4zM1171,267.6 1170,266.2 1169.2,266 1167.9,266.2 1167.4,266.9 1166.7,269.2 1167.4,273.3 1171.2,277.9 1172.5,278.4 1177.3,275 1177,271.2 1176.6,270.3 1172.7,268.7zM1200,326.8 1197.7,325.5 1195.8,325.1 1191.4,328.6 1190.9,329.7 1192.1,334.1 1192.7,334.9 1197.8,337.8 1203.2,333.9 1204,332.2 1203.7,330.7zM1043.7,143.7 1044.7,146.9 1045.9,147.5 1049.5,147.8 1050.2,147.3 1052.8,143.6 1051.8,140.6 1050.4,140.2 1044.1,142.2zM1199.6,209.6 1200.1,211.2 1200.7,211.6 1204.2,212.8 1207.8,210.4 1208.4,209 1207.5,207.8 1202.1,206.5 1199.6,208zM1062.3,108.4 1062.7,113.4 1063.9,114.1 1066.3,113.2 1068.5,108.9 1070.1,107.7 1070.3,106.8 1069.9,105.9 1067.9,103.4 1067.2,103.1 1065.8,103.7zM877.3,319.9 876,320.4 875.7,321.8 877.4,328.7 878.5,329.8 881.5,329.3 886.3,324.3 886.6,322.9 885.4,321.2 884.4,320.7zM1257.6,272.3 1256.3,273.1 1256.4,274.7 1262.2,282.3 1263.6,282.2 1267,279.9 1267,278.5 1263.9,272.4zM1266.8,315.4 1267.2,316.8 1268.4,318 1269.2,318.2 1273.5,317.2 1274.2,316 1273.9,315 1273,314.3 1269,313 1267.5,313.3zM1166.3,274.6 1161.8,277.7 1161.7,279.1 1163.3,282.6 1164.5,283.4 1169.5,281.8 1171.5,279.2 1171.1,277.9 1167.7,274.4zM1198.3,301.8 1197,301.5 1195.9,302.3 1196.1,304.9 1203.5,307.6 1204.4,307.6 1205.2,307.1 1207.4,303.8 1205.8,300.9 1204.8,300.2 1203.1,300.6 1201.9,302.4 1200.6,302.8 1199.1,302.5zM880.3,212.4 880.9,213.4 882.8,214.4 883.7,214.1 886.2,212 885.9,205.5 885,204.1 883.4,204.4 879.6,207.9zM1208.7,107.7 1209.5,108.8 1211.7,109.3 1214.5,110.8 1217.5,109 1218.2,107.8 1217,105.1 1210.7,103.5 1209.4,103.9 1209,104.5zM1243.9,162.9 1236.9,165.8 1236.9,167.5 1242.6,170.5 1244,170.4 1247.3,168 1247.2,166.5 1245.1,163.5zM959.5,99 962.2,99.9 964.9,99.8 967.1,97.2 966.4,91.5 965.3,90 963.9,89.6 963.3,89.8 956.6,94.3 956.8,95.9zM1263.5,376.9 1262.5,378.1 1262.7,379.4 1264.9,382.2 1266.2,382.6 1270.4,381.8 1273.6,377.2 1273.8,375.3 1273.4,374.1 1272.6,373.3 1269.7,372.1zM961.7,368.8 962.1,369.9 963,370.9 964.2,371.4 970.1,368.1 970.7,367.4 970.8,366.5 969.9,362.5 968.7,361.9 963,362.1 962.2,363.2zM906.4,216 907.5,216.5 910.1,215.3 910.5,214 909.5,212.2 908.2,211.9 906.2,213.7 905.8,215.2zM952.2,332.2 950.7,332.5 949.4,333.8 949.6,339 950.3,340.2 953.1,341.7 958,338.2 958.6,336.7 957.9,334.4zM959.6,181.5 957.6,183.1 957.6,183.8 958.5,184.9 965.1,184.1 966.4,182.4 966.6,181.4 965.8,177.9 963.1,176.4 961.6,176.5 960.9,177.7 960.8,179.7zM1152.6,478.5 1147.1,475.3 1145.8,476.1 1146.1,482.4 1147.4,483 1151,482.7 1152.6,480zM950.7,326.5 951.9,331.8 957.1,333.8 958,333.8 961.9,329.3 962.2,327.6 962,326.9 960.8,326.2 952.4,325.2 951.6,325.3zM1282.7,195.3 1282.1,193.9 1278,191 1273.7,192.6 1272.8,193.9 1273.3,195.7 1278.8,200.1 1280.1,199.9 1282.2,198.2zM1173.1,490 1163.4,485 1162,485.7 1161.9,489.6 1167.6,494.3 1169.2,494.5 1173.7,492.1 1173.7,490.5zM1306.2,330.8 1308.4,333.3 1308.8,335.9 1309.4,336.4 1314,335.9 1316.5,331.9 1314.7,326.4 1313.5,326 1306.2,327.1 1305.7,328.6zM1187.5,293.8 1187,295.1 1189,299.7 1188.2,302.9 1188.5,303.6 1189.6,304.5 1191.8,304.4 1195,302 1196.3,299.8 1196,296.5 1194.6,294.5 1194.6,291.7 1193.5,290.4 1192.2,290.1zM1165.8,314.9 1161.2,316.8 1160.4,317.8 1159.9,320.5 1163,324.4 1164.4,324.3 1168.5,321.7 1169.2,320.5 1169.4,317.1 1169,316.1 1167.9,315.3zM1184.9,304.9 1178,306.5 1177.7,307.8 1178.3,311.4 1179.4,312.6 1187.3,315 1188.4,314.9 1191.1,313.4 1191.4,310.6 1191.1,309.2 1188.4,303.9 1187.6,303.7zM928.5,247.3 927.3,248.4 927.3,249.3 929.6,251.5 930.5,251.8 931.4,251.6 937.2,248 938.2,243.5 937.1,242.4 935.6,242.3 933.6,244.4 932,245.2 929.8,247.1zM1249.2,345.1 1249.7,348.3 1250.2,349 1251.6,349.2 1252.4,349 1253,348.3 1252.8,345.3 1251.7,344.2 1250.1,343.9 1249.5,344.4zM1230.5,252.1 1235.1,256.5 1236,256.5 1237.8,255.4 1238.1,254.7 1238.6,247.9 1238,246.6 1237,246.2 1236,246.4 1230.2,250.4 1230.1,251.3zM932.3,137.9 931.3,139.7 931.9,141 938.5,142.1 939.4,140.9 939.7,135.7 939.3,134.3 937,132.4 932.8,133 932.2,134.3zM916.8,362.9 915.5,363.2 914,364.5 913.5,366 914.9,371.3 917.4,372.6 922.1,370.5 922.9,369.4 922.1,364.5 921.1,363.8zM1229.5,251.2 1225.8,250.6 1224.9,251.7 1223.8,256.7 1224.1,257.9 1225.1,259.2 1226.4,259.8 1233.7,259.1 1234.5,257.9 1234.6,257 1234.2,256.2zM960.3,395.9 960.3,396.8 960.9,397.6 964.2,399.6 969.8,396.7 970.6,395.4 967.3,389.8 966.2,389.1 965.1,389.1 962.1,390.6zM915.4,384.5 916.8,384.2 919.8,381.6 920.3,380.3 916.7,374.1 915.4,373.4 911.6,375.3 910.5,380.6 911.4,382.9 912.2,383.5zM952.7,119.3 950.6,122 951,123.6 953.5,124.3 955,123.7 955.4,121.1 955.3,120.3 954.2,119.4zM1230.6,142.5 1234.3,144 1235.8,143.7 1238.7,141 1239.5,139.8 1240.5,137.3 1240,135.8 1236.3,132.8 1233.9,133.5 1232.2,134.6 1228.4,136.2 1227.2,137.7 1227.2,139.2 1228.1,140.5zM924.9,449.4 925.7,448.1 925.6,443.5 924.8,442.2 918,442.4 916.8,443.1 916.7,444.4 919.4,451.5 921,451.6zM1276.2,206.4 1275.7,207.6 1275.8,208.2 1279,214 1279.7,214.6 1280.7,214.7 1286.6,213.3 1287.6,212.3 1288.1,210 1287.9,209.1 1287.3,208.5 1279.6,204.6 1278.7,204.4 1277.9,204.8zM1056.3,74.1 1057,74.6 1057.9,74.7 1059.9,72.9 1061.7,72 1064.2,72.7 1065.1,72.3 1065.7,71 1065.4,69.6 1064.1,69 1054.9,69.2 1054.1,70.5zM1238.4,178.5 1239.3,179.6 1240.1,179.6 1243.3,177.3 1243.3,171.9 1242.5,170.5 1237.8,168.6 1236.5,169.6 1236.5,170.4zM1257.2,190.7 1256.3,189.8 1255.6,189.7 1250.3,193.3 1249.7,194.8 1250.2,196.4 1257.4,198 1258.8,197.5 1259,196zM952.2,380.7 951.6,381.7 951.7,383.5 953.9,387.5 954.7,388.2 961.4,390.3 962.5,390.2 965,388.9 965.3,387.6 962.8,379.3 961.5,378.8 953.2,380.2zM1218.4,152 1217.1,151.3 1210.7,151.6 1210,152.9 1210.1,158.3 1210.4,159.2 1211.2,159.8 1213.8,160.3 1217.6,158 1218.2,157 1218.7,153.1zM1125.7,477.9 1125.3,482.2 1125.9,482.8 1126.7,483 1130.3,481.2 1131.4,481.5 1133.4,483.7 1134.1,483.9 1134.9,483.6 1135.5,482.3 1135.4,479.6 1134.7,478.5 1127.1,477.3zM1089.4,89.4 1094,95.9 1095.6,96 1101.5,89.8 1101.9,89.1 1101.7,88.1 1098.7,85.4 1097.5,85.2 1090.4,86.8 1089.4,87.8zM1261.4,217.3 1260.3,216.1 1257.4,215.5 1254.8,217.6 1254.3,218.8 1254.5,224.5 1255.2,225.7 1259.6,226.3 1260.8,226 1262,225 1262.5,223.6zM964.3,204.6 966.5,205 971.3,202.4 971.2,200.7 969.4,198.8 970,196.1 968.3,194.1 967.4,194 966.7,194.5 963,197.1 962.3,198.2 963.5,203.7zM1227.3,174.2 1228.1,175.3 1230,175.6 1231.4,176.4 1233.3,179.8 1236.8,180 1237.6,179.8 1238.2,179.1 1236,168.7 1234.9,167.5 1229.9,168.2 1227.3,171.6zM1311,292.9 1310.1,293.9 1310.1,294.7 1311.9,301.1 1313.1,301.6 1318,301.3 1318.5,300.7 1318.4,299.3 1314.3,293 1312.9,292.3zM1083.9,153.6 1082.5,154.1 1079.9,157.1 1079.5,158.3 1079.8,158.9 1080.9,160.6 1082,161.2 1088.7,161.7 1089.3,161.2 1089.5,159.8 1088.1,155.2 1086.9,154.2zM1131.9,79.7 1133.1,80.6 1133.8,80.6 1137.1,79.4 1139.9,73.6 1139.7,71.9 1137.7,71.2 1134.7,71.4 1133.5,72 1130.6,76.1zM1244.9,189.4 1243.5,189 1241.3,190.9 1239.4,191.9 1238.5,196.6 1243.3,201 1246,201.6 1247.4,200.9 1249.6,197.2 1249.8,196.1 1249,193.5zM933.2,354.7 932.7,353.8 929.3,351.6 923.9,353.9 923.1,355.2 923.3,356 924,356.8 932.1,360.4 932.8,360.1 933.7,358.2zM948.7,299.6 948.8,302 953.1,307.7 954.5,307.7 957.2,306.1 957.4,304.8 956,299.4 955,298.3 949.1,299.1zM1198.3,91.2 1197.3,92.5 1197.5,93.3 1202.4,96.7 1203.6,96.9 1206.2,95.9 1206.5,94.3 1204.4,89.7 1202.9,89.5zM1151.7,272.2 1151.5,273.4 1152.3,277.5 1153.3,278.7 1155.8,279.4 1158.4,277.9 1159,277.2 1159,276.2 1157.7,271.9 1157,271 1155,269.9 1153.7,269.9zM934.7,460.5 931,465.3 931.5,466.7 934.2,468.7 941,466.3 941.7,465.7 942,464.8 941.3,463.4 936,459.9zM928.3,260.6 930.7,263 931.6,263 937.1,261.2 938.1,259.9 938.2,259 937.6,258.2 931.5,253.7 930.2,254.1 929.8,254.7 928.1,259.1zM1052.7,429.3 1049.7,432.5 1048.9,436.6 1053.3,440.9 1054.6,441.3 1055.7,440.3 1055.6,437.7 1057.1,433.7 1055.6,430.5 1054.2,429.3zM1283.6,351.5 1284.2,354.9 1284.6,355.5 1287.4,356.5 1288.6,356 1288.9,354.6 1287.7,353.1 1286.7,349.9 1285.2,349.5 1283.9,350.7zM976.8,314.8 978.1,315.6 983.4,315.9 984.3,315.7 984.9,314.9 987.7,307.3 987.3,305.7 986.1,305.2 978.3,305.5 977.5,305.9 975.6,311.6 975.7,312.7zM1166.4,499.6 1166.5,500.9 1166.9,501.4 1172.8,505.8 1174.4,505.9 1176.3,505 1177,504 1178.5,495.6 1177.1,493.7 1175.2,492.5 1173.8,492.4 1168.9,494.8 1168.1,495.6zM1202.7,122 1201.6,122.1 1199.3,123.4 1197.8,128.6 1198.6,129.7 1204.7,132.6 1205.9,131.9 1208.8,127.5 1209.1,126.3 1207.4,123.8 1206.7,123.2zM1015.2,135.2 1013.8,135.4 1013.2,136.6 1013.1,142.7 1013.3,143.6 1014.1,144.2 1019.1,145.7 1021.5,143.5 1020.9,138.1 1019.9,136.9zM1160.4,277.6 1161.7,277.4 1167.1,273.7 1166.5,269.7 1164.9,269.3 1158.4,271.3 1158.1,272.7 1159.2,276.6zM1259.3,196.3 1260.5,197.3 1262,196.5 1265.3,190.6 1263.3,186.5 1261.4,185.9 1260,186.1 1257,188.9zM1256.5,240.5 1257.4,241.8 1258.2,241.9 1265.1,241.1 1265.8,239.8 1265.3,233.9 1262.6,232.2 1261.4,232.6 1256.5,237.3 1256,238zM872.1,222.1 873.7,229.2 874.6,230.2 875.9,230.1 879.7,227.7 880.9,222.8 880.3,221.6 873.8,220.5 872.4,221zM900.1,325.7 896.9,327.9 896.8,328.9 897.4,332.5 898.4,333.7 904.2,332.6 905.2,331.9 905.8,330.8 905.9,329.5 905.5,328.9 901.4,325.4zM888.6,371.7 887.5,372.8 886.6,376 886.6,377.3 887,377.8 893.9,379.7 894.8,379.7 895.5,379.1 895.8,372.8 895.4,371.7 893.8,370.4zM901.2,351.7 895.9,347 894.5,347.4 893.1,352.8 896.4,358.2 897.8,358.8 899,358.1 901.7,352.9zM935.7,334.7 935.4,336.2 936.6,337.2 940.6,337.9 941.9,336.4 941.7,334.8 938,333.1 937.2,333.2zM1299.5,280.2 1298.3,278.5 1296.9,278.7 1295.5,282 1296.9,289.3 1298.3,289.8 1304.3,288.7 1306.3,287.5 1307,286.2 1306.3,285zM1226.5,107 1225.4,106.3 1222.9,107 1221.3,108.2 1220.8,109.4 1221.4,117 1225.5,118.7 1228.4,117.1 1230,115.4 1230.5,114zM1015.8,98.6 1015.2,100.1 1016.2,101.3 1023.1,103.1 1027.1,100.5 1027.7,99.1 1025.5,95.8 1024.8,94 1023.5,93.6zM901.2,360.7 900.1,361.7 900.3,363.1 904.4,368.4 906,368 909.3,364.1 909.1,363.2 907.1,360zM1216.8,126.1 1223.9,128.1 1224.6,127.5 1224.9,126.7 1225.4,120 1225.1,119.1 1224.4,118.5 1221.6,117.4 1220.5,117.5 1217.5,118.9 1215.8,125.1zM898.2,382.5 903.3,386.7 904.6,386.4 905.9,385.7 907.2,384.4 908.1,378.7 907.3,376.7 905.8,376.6 898,380.4 897.7,381.1zM1124.4,471 1126.1,471 1130.3,468.1 1130.9,464.8 1130,463.9 1127.5,463.1 1124.3,460.7 1122.3,460.5 1121.2,461.1 1120.4,462.2 1119,465.4 1119,466.6 1119.8,468zM1225.6,261.4 1226.1,268.5 1227.3,269.3 1228.8,269.4 1230.1,268.8 1234.6,263.3 1233.8,260 1232.6,259.5 1226.3,260.1zM1268.4,391.6 1269.3,391.8 1270.4,391.1 1270.8,390.5 1270.6,388.4 1271.1,387.2 1272.5,385.6 1272.3,384.2 1270.4,382.3 1264.9,382.9 1263.8,383.7 1263.6,384.3 1263.7,388.6zM1081.7,422.3 1084.2,423.7 1085.1,423.4 1091.3,417.7 1091.3,416.8 1090.8,416.1 1086.1,412.7 1084.7,413.3 1081,418.2zM1288.4,333.5 1295.7,331.9 1296.3,330.5 1292.8,324.6 1287.2,324.8 1286.1,326.5 1285.4,329.1 1285.5,330 1287.2,333.2zM1274.3,263.2 1266.8,263.4 1266.3,264.1 1266.3,265.5 1266.9,266.4 1273.6,271.3 1274.3,271.6 1275.7,271 1276.6,269.8 1276.9,268.5 1275.5,263.7zM985.6,488.5 984.8,489.7 985,490.5 991.2,494.8 992.7,494.9 994.1,493 994.3,491.9 993.3,486.4 992.5,485.3 991.1,485.3zM1192.4,270.7 1191,277.7 1192,278.7 1197.4,280.1 1198.3,280 1201.5,275.3 1201.6,273.9 1195.9,269.4 1194.4,269.2 1192.8,270.1zM955,138.2 952.9,136.8 952,137 950,138.7 947.6,144.7 948.6,145.9 952.8,147.5 956,147.5 958.3,146 958.8,144.3 957.8,139.5 957.3,138.7zM1303.5,410.1 1305,410.6 1305.7,410.2 1311.3,404.5 1311.7,403.9 1311.5,402.6 1308.5,401.2 1307.2,401.5 1305.7,404.5 1303.1,408.1 1302.9,408.9zM1258.2,180.8 1259.6,180.9 1260.2,180.5 1265,175.4 1265.3,173.9 1264.3,172.9 1256.9,170.4 1255.7,171.3 1255.5,172 1256.2,178.8 1256.9,179.9zM966.7,230.5 966.1,231.7 968.1,235.8 974.8,238 976.3,237.7 976.7,236.2 975.4,230.6 974.6,229.6 968.8,229.3zM1285.6,290.8 1282.6,286.1 1281.8,286 1275.6,287 1273,292 1273.1,293.5 1282.3,298.1 1283.2,298.2 1284,297.8 1285.8,291.9zM1277.4,317.8 1278,320.7 1277.2,323 1277.8,324.4 1281.4,326.9 1283.4,327.1 1284.5,326.5 1285.7,325 1286,324 1285.4,316.2 1284.5,315.6 1283.5,315.5 1278.4,316.8zM1017.2,170 1018.5,170.8 1025.3,170.6 1026,169.3 1025.8,161.5 1022.2,160 1021.2,160.1 1018.3,161.5 1016.6,167.8zM1155.6,212.7 1155.9,215.6 1157.7,217.5 1158.6,217.5 1160.7,216 1160.6,214.4 1158.2,211.5 1157.4,211.2 1156.3,211.6zM982.2,458.5 981.5,463 982.3,464 986.2,465.7 987.7,465.5 990.5,459.4 990.4,458 989.1,457.4 983,457.4zM1038.5,490.8 1039.2,491.7 1040,492.1 1042.2,492.1 1044.6,491.3 1046.9,489.2 1045.2,482.4 1043.4,480.8 1042.5,480.5 1041.2,481.4 1038,488.2zM1092,169.9 1093.4,169.6 1099.1,164.3 1098.6,162.1 1097.1,160.6 1094.7,160 1090.4,161 1089.3,162 1089.6,168.6 1090.3,169.3zM1209.9,153.4 1209.2,152.2 1207.8,152 1201.7,154.5 1201.3,155.7 1202,160.1 1202.8,160.5 1207.3,161.4 1209.4,159.9 1210,158.7zM1144.5,484.8 1144.2,486.4 1146.4,490.7 1148.9,491.8 1150.6,491.5 1152.7,486.7 1151.5,483.9 1150.1,483.1 1146.6,483.2 1145.5,483.7zM976.6,239 976.8,240.1 980.3,245.6 985.8,245.5 987,244.7 987.5,240 987.4,239.3 986.4,238.4 980.6,236.6 979.6,236.7 977.1,237.9zM1209.7,102.7 1209.5,97.2 1207.6,96.1 1206.7,96.1 1203.1,97.3 1201,101.7 1201.1,103.1 1205.9,106 1207.3,106 1209.4,103.6zM1101.4,76.8 1100.3,77.3 1098.5,79.1 1098,80.2 1098.4,84.9 1101.2,87 1102.6,86.5 1107.1,81.3 1107.4,80.5 1107.2,79.6 1105.7,77.3zM1152.9,204.4 1148.4,208.4 1148.5,209.2 1150,210.8 1151.3,211.2 1152.9,210.3 1155,211.5 1156.4,211.4 1157.6,210.7 1158.4,209.5 1158.8,204.1 1157.8,203.3 1154.2,202.8 1153.6,203.1zM1192.2,152.7 1190.5,159.8 1191,160.5 1194,161.6 1196.3,163.9 1197.1,164 1201.5,160.2 1201.1,155.2 1200.6,154.2 1197.3,151.4 1196.5,151.1 1193.6,151.7 1192.7,152zM1123.3,73.5 1123.9,74.6 1124.5,74.9 1130.2,75.7 1133.6,71.7 1133.8,70.3 1132.7,69.3 1130.9,69 1124.5,69.4 1123.2,70.2zM961.5,447.7 959.3,454.9 960.4,456.4 961.3,456.8 962.3,456.6 969.7,452.4 970.4,450.9 966.7,446.1 962.6,446.7zM941.2,203.7 940.3,202.5 938.8,202.8 937,206.9 937.1,208.1 938.1,210.1 939.4,211.2 942.3,210.7 943.1,210.3 943.5,209.4 943.3,208.1 941.6,206.2zM1309.8,346.8 1308.7,347.9 1309.3,349.4 1315.8,354.1 1316.7,354.4 1317.5,354.2 1320.3,351.1 1320,349.5 1316.1,345.7zM938.4,451.8 939.1,452.9 946.4,457.7 947.1,458 948.8,457.5 949.8,456.4 949.4,455.1 944.2,450 939.5,448.4 938.3,449.3zM1039.7,385.6 1040.9,386.4 1041.7,386.2 1046.4,383.9 1046.9,383.4 1047.1,382 1042.7,378.1 1038.5,379.7 1037.9,380.2 1037.8,381.8zM1278.3,260.5 1277,261.1 1275.7,263.2 1276.8,267.8 1277.2,268.6 1278.2,268.9 1282.4,268.2 1283.8,264.2 1283.6,263 1282,260.9zM1007.4,112.5 1003.3,117.3 1003.6,118.7 1006.8,120.7 1009.2,123.8 1010.5,124 1012.9,121.8 1013.4,120.9 1013.9,115.1 1009.2,112.2 1008.6,112zM1028.5,152.3 1027.4,157.4 1028.3,159.7 1033.7,160.9 1035.2,160.3 1035.9,157 1037.4,152.9 1037.4,152 1036.9,151.2 1033.8,148.6 1032,148.3zM1021.7,477.8 1020.8,476.4 1016.9,474.6 1015.9,474.5 1013.4,475.3 1011.1,479.9 1012.5,483 1013.4,483.7 1019.3,485.6 1021.4,484.1zM996.9,454 997.7,455.2 999.1,455.1 1004.7,451.8 1004.6,450.1 1001.4,446.3 999.9,446.5 996.7,449zM1303.3,314.3 1305.8,320 1307.4,320.2 1311.9,317.5 1311.9,316 1309.5,312 1304.5,312.3 1303.4,313zM1212.4,207.2 1211.7,207.8 1211.4,208.7 1212,218.7 1212.3,219.5 1213,220 1213.8,220 1217.2,219 1218.5,217.8 1218.8,216.5 1217.4,210.4 1216.8,209.5 1214.6,207.1zM887.8,312 890.5,312.8 891.2,312.3 891.7,310.3 892.9,308 895.7,306 896,304.4 895,302.6 893.4,302.6 888.1,305.9 887.5,311.4zM1034.3,147.3 1034.3,148.6 1034.7,149.2 1036.7,150.9 1038.2,151.1 1040.7,149 1043.9,147.5 1044.3,146 1043.4,142.8 1042.4,141.7 1041.6,141.5 1040.8,141.7 1035.5,145.4zM933.1,224.1 934,226.1 934.1,228.6 935.4,229.4 938,228.1 941.2,227.5 942.2,226.4 941.7,225 939.8,224 938.1,221.5 937,220.7 934.9,221.4 933.5,222.9zM950.4,186.1 949.2,187 949.3,188.5 954.5,195.4 955.9,196 958.9,195.6 960.1,194.9 960.5,193.4 958.4,185.7 957.8,184.8 956.4,184.2 952.1,186zM951.2,473.2 950.2,474.7 950.5,475.6 951.4,476.9 955.2,480.1 960.7,480.7 965.2,478.5 966,477.2 965.4,475.9 963,474.4 960,471.4 959.6,470.1 959,469.6 957.6,469.6zM1001.7,331.6 1001,332.7 1001.9,335.2 1008.2,336.1 1009.8,337.1 1010.7,339.2 1011.8,340 1013.1,339.6 1015.7,336.7 1013.2,330.4 1005.3,329.8zM1012.7,403.7 1012.9,407 1013.4,407.6 1014.9,407.8 1016.8,405.5 1017,404.2 1016.1,403.2 1013.9,402.7zM1268.7,365.5 1267.8,366.7 1269,370.9 1269.8,371.8 1271.3,372.5 1272.6,372.4 1273.2,372 1274,370 1275.2,368.9 1276.6,368.5 1278.7,368.6 1279.8,367.7 1279.5,365.9 1278.2,364.2 1276.3,362.8zM1161.6,203.6 1164.3,204.4 1165.7,204.1 1166.2,202.8 1166,200.9 1164.8,200.1 1161,201 1160.5,202.5zM945,191.9 944.7,193.3 945,193.9 947.4,195 948.5,196 948.9,198.9 949.3,199.6 950.7,200.5 952.2,199.9 954.6,196.1 954.3,195.2 949.9,189.5 948.5,188.9 947.5,189.2 946,190.4zM1251.7,387.8 1252,389.9 1253.3,390.5 1261.4,389.4 1261.9,388.7 1261.7,385.7 1262,383.8 1261.3,381.2 1259.8,380.8 1254.8,382.2 1254,382.8 1252.5,385.1zM1182.3,147.1 1181.6,148.5 1182.4,149.8 1187.8,149.4 1188.3,148.8 1188.4,146.7 1189.8,144.4 1189.6,142.9 1187.9,141 1186.6,141.1 1185.8,142.2 1185.5,144.2 1184,146.2zM1241,138.2 1241.7,139.2 1243.1,139.9 1244.2,140 1250.2,138.1 1251.2,137.2 1251.2,136.5 1248.1,131.4 1246.5,130.8 1241.1,135.5 1240.7,136.2zM1288.7,333.6 1287.6,334.5 1287.5,335.2 1287.8,336.9 1288.2,337.4 1293.8,341.1 1295.7,341 1296.2,340.6 1296.5,340 1296.2,337.5 1297.1,335.2 1296,332.7 1294.7,332.4zM1156.5,313.2 1156.6,309.1 1155.4,308.2 1148.2,307.9 1147.3,309.2 1147.5,314.9 1150,317.1 1155.7,314.4zM1018.7,348.5 1017.7,349.4 1017.6,350.1 1019.7,353.5 1019.7,356 1020.1,356.6 1020.7,357 1021.9,357 1024.5,355.5 1025.6,353.9 1025.9,351.9 1024.9,349.4 1022.5,347.6zM952.6,245.1 948.8,245.8 948.2,246.4 948.1,247.3 948.5,248.6 949.3,249 957.1,251.1 958.5,250.8 958.9,250.2 959.2,248.7 957.9,243.9 956.8,242.9 956,242.9zM1041,510.5 1039.4,510.4 1038.6,510.8 1038.2,511.7 1037.4,518.3 1038.3,519.3 1042.2,520.7 1044.9,520.8 1045.8,519.8 1045.9,519.1 1044.7,513.3 1044,512.4zM981.7,367.7 980.7,370.4 981,371.2 981.8,371.6 983.9,372.8 989.5,374.4 990.8,374.1 995.1,370.5 995.1,369.6 994.6,368.8 991.7,366.4 991,366.4 987.8,368.3 985.7,368 984.4,367 983.1,366.6zM1230.7,279.5 1231.8,280.2 1236.8,280.9 1239.7,280 1241,278.5 1241.8,275.9 1241.4,273.1 1240.9,272.3 1240,272 1232.3,271.3 1231.2,271.6 1229.8,273 1228.8,275.4 1229.1,276.8zM1028.2,493.6 1023.6,496.6 1023.7,498.2 1026.9,502 1033,500.8 1034.2,497.6 1034.2,496.9 1033.4,495.8zM1114.1,446.1 1112.9,445.3 1112.2,445.4 1107.9,449.9 1108.4,455 1109.5,456.2 1115.2,454.8 1115.7,454.5 1116.6,452.9 1117,451.3 1116.8,450.7zM1161.2,186.4 1159.6,186.5 1159.1,187.2 1158.9,188 1159.7,189.2 1160.7,189.3 1162.1,188.5 1161.9,186.9zM1055.4,165.4 1053.5,167.7 1053.9,169.1 1058.8,173.8 1064.2,172 1065.1,170.7 1063.9,167.6 1062.8,166.8 1056.2,165.4zM1027.8,84.8 1021.7,86.3 1021.4,87.7 1024.1,91.1 1025.7,92.5 1027.2,92.8 1028.2,91.7 1029.1,85.7zM950,363.9 950.4,364.9 954.4,368.9 955.4,369.3 960.2,369.4 961.4,368.7 962.2,362.5 961.8,361.4 960.7,360.4 951.2,362.2 950.1,363zM1198.4,122.8 1199.9,122.8 1201.8,121.6 1201.5,114.6 1201.2,113.8 1200.4,113.3 1195.3,112.2 1194.1,113.3 1193.5,114.4 1193.6,119.7zM902.5,386.3 896.9,381.8 895.4,382.5 893,386.6 893.4,387.8 896.3,390.4 901.9,388.9 903,387.8zM950,415.4 944.2,415.9 943.5,417.2 944.5,419.4 944.2,427 947.5,428.9 950.1,429 951.1,428.6 951.7,427.6 953.2,417.4 950.9,415.6zM897.3,407.5 898,408.6 901.6,410.7 907.8,407.6 908.6,406.2 906.5,402.4 905.1,402.1 897.5,404.1 897,405.4zM1002.7,487.2 994.5,483.5 993.3,484.5 994.6,491.6 996.1,492.1 1003.4,490.1 1003.7,488.5zM1095.4,499.3 1094.7,500.3 1094.3,501.9 1094.4,503 1095.1,504.3 1099.6,505.1 1100.5,504.9 1101.1,504.3 1101.2,502 1101.9,500 1101.6,499.2 1098,498zM1057.8,82.5 1056.5,84.1 1056.6,84.9 1058.1,86.2 1063.8,83.3 1064.5,82.5 1064.6,81.7 1063.8,80.6 1061.5,80.4 1059.9,79.6 1058.7,80.1zM968.5,490.5 962.5,488.9 961.5,489.8 961.8,493.5 962.1,494.4 967.5,495.7 968.8,495.3 969.7,492.9zM891.7,345.5 892.8,344.5 892.6,343.1 888.3,337.8 881.5,339.5 881.2,341 883.4,346.7 884.7,347.1zM1047.1,106.6 1047.1,108.1 1049.7,112.6 1051,113.3 1051.8,113.1 1054.6,108.5 1054.6,107 1054,106.4 1049,105.4 1048.1,105.4zM1266.5,310.2 1266.8,311.4 1267.9,312.5 1273.1,314.1 1274.2,313.3 1276.6,308.8 1276.6,307.5 1275.2,304.8 1273.4,304.4 1267.2,307.1zM895.7,395.4 896.2,396.7 897.6,397 906.4,394.4 906.8,393 905.9,389.3 904.8,388.3 904.1,388.4 897.2,390.4 896.2,391.7zM1317.7,319.4 1318.7,319.4 1320.5,318.6 1321.3,316.9 1320.1,309.8 1318.9,309.2 1311.4,309.2 1310,311.7 1312.5,316.9 1313.2,317.5zM1043.1,376.9 1043.6,378.4 1048.5,382.7 1049.8,382.5 1052.5,381 1053.6,379.4 1053.2,378.1 1046.3,371.5 1044.9,371.9 1044.5,372.5zM936.7,344.5 935.8,345.7 937.2,349.4 942.1,350.8 942.9,350.7 944.4,349.3 944.7,348 943.2,343 941.7,342.6zM1044,440.4 1044.2,441.8 1045.5,442.9 1048.5,442.2 1051.5,442.4 1052.5,441.3 1052,439.9 1048.6,437 1044.4,438.4zM991.7,162.1 993,161.3 993.2,160.5 992.7,154.4 992.4,153.6 991.7,153.1 990.3,153 988.8,153.5 987.8,154.5 986.1,160.8 987.2,162.1zM1118.8,488.5 1119.2,493.2 1120.3,494.3 1124.7,495.2 1127.6,492.5 1127.5,491.2 1126.7,490.3 1126.3,487 1124.9,486.1 1120.7,486.4 1119.9,486.9zM955.4,123.2 955.9,124.5 957.6,125 959.2,126.6 960.9,126.8 962.2,126.1 962.3,124.6 961.4,122.8 961.4,119.8 959.9,118.7 958.4,118.6 955.8,120.3zM1166.2,117 1165.3,118.1 1165.3,118.8 1165.9,120.2 1166.6,120.6 1174.2,122.2 1175.7,121.7 1175.8,120 1172.9,115.2 1171.5,115zM1026.1,458.2 1024.9,459.3 1025,460.1 1026.5,465 1027.6,466 1028.9,466 1033.9,460.3 1034.1,458.7 1033.5,458.1 1031.8,457.9 1029.1,456.8zM1145.7,105.6 1142.6,109.7 1142.8,110.6 1145.9,115.9 1150.4,116.5 1152.9,115.6 1153.8,114.8 1154.1,110.8 1147.8,105.4 1146.3,105.2zM883.2,327.9 883,329.5 883.6,330.1 888.4,332.7 889.2,332.3 889.7,331.6 891.5,325.4 891.2,324.7 889.6,323.8 887.3,323.6zM1091.9,207.3 1093.2,207.2 1099.2,204 1100.1,202.7 1099.8,199.3 1099.2,197.5 1093.1,195.1 1092.2,195.1 1091.5,195.5 1091.1,196.4 1090.1,205.4 1090.3,206.3zM1157.4,285.8 1156.1,286.7 1156,287.5 1156.8,293.1 1157.4,294.1 1161.8,297.6 1162.6,297.9 1164.6,297.1 1165.4,296.1 1165.7,293.7 1163.1,285.9 1161.8,285.4zM1060.5,130.7 1061.1,133.2 1062.3,133.8 1068.3,133.7 1069.4,133.1 1070,129.9 1067.4,124.8 1064.7,124.2 1063.6,124.9 1060.7,129.6zM955.1,166 955.1,167.4 956.2,168.2 957,168.1 960.8,166.6 961.4,166.2 961.7,164.9 958.7,160.7 957.2,160.2 956.1,161.2 955.9,164.6zM1033.4,468.8 1032,469.4 1031.7,470.1 1031,476.2 1031.3,477.4 1033,478.9 1033.8,478.9 1038.8,477.6 1039.4,476.3 1039.1,475.6 1034.8,469.4zM950.7,414.3 951.4,415.8 953.1,416.9 954.2,417.1 958.4,416.1 958.9,414.6 957.1,406 955.7,405.5 952.1,406.4 951.7,407.2zM1066.3,509.7 1067.6,509 1067.8,508.2 1067,506.4 1062.6,500.8 1061.3,500.3 1060.2,500.7 1057.9,507.7 1057.9,508.6 1058.5,509.3 1059.3,509.6zM976.3,433 977.4,433.8 978.7,433.3 983.1,428.3 982.4,426.8 975.1,422.2 973.8,422.9 972.4,425.5zM1027.5,502.2 1026.5,503 1024.9,506.8 1027.3,510.7 1028.4,511.4 1029,511.3 1034,509.3 1034.7,505.4 1033.2,501.7 1031.9,501.3zM1193.3,248.5 1191,250.3 1190.8,251.2 1192.5,253.3 1200.2,254.7 1201.6,254.1 1203,250.3 1202.4,248.9 1197.8,248.3 1194.7,248.8zM957.6,131.3 957.4,132.8 957.9,133.5 959.9,135.6 961.3,135.5 962.6,134.2 963.9,128 963.4,127.3 962.6,127 960.2,127.1 959.4,128 958.9,129.9zM1101.3,173.1 1101.5,174 1102.2,174.6 1104.4,175.4 1105.2,175 1109.7,170.5 1109.6,169.2 1106.1,163.8 1104,163.5 1102.5,164zM1048.3,115.5 1042.2,114.7 1041.5,115.4 1039.2,120.2 1040.1,121.5 1045.5,123.6 1046.6,122.8 1049.4,117.6 1049.4,116.3zM1038.8,473.5 1038.8,475.1 1040.4,476.8 1041.3,476.9 1042.5,475.9 1042.8,475.3 1042.4,473.9 1040.9,473 1039.7,472.8 1040,471.6 1039.6,468.1 1038.3,467.1 1036,468 1035.2,469.4 1037.3,472.9zM984.8,377.5 983.2,380.6 984.3,381.9 989.1,381.7 989.8,380.5 990,375.2 989,374.3 986.9,373.7 985.5,374 985.1,374.6zM950.1,359.9 950.4,361.4 951.8,361.9 959.7,360.3 960.5,359.9 960.9,359 961,354.8 955.4,351.6 953.8,351.7zM1168.5,87.4 1167.7,88.1 1167.5,89 1169.2,91.9 1177.9,93.1 1178.8,92.9 1179.5,92.2 1181,88.4 1181.1,87.5 1180.2,83.8 1179.7,83 1178.9,82.7zM1153.2,278.8 1151.8,279 1147.9,282 1147.3,283 1147.2,284.5 1148.1,286.1 1154.7,286.4 1156.1,285.6 1155.5,279.8zM993.2,386.2 991.6,386.3 991.1,386.9 989.2,391.6 989.2,392.9 990.8,394.2 991.9,394.5 998.7,393.2 999.1,391.6 998.7,390.9 997.4,389.7 996.3,388zM973.4,494.3 972.8,495.9 974,497 981.6,498.6 982.8,497.9 983.1,492.6 982.3,491.2 980.7,491.1 976.3,492.2zM1056.5,514.1 1054.8,514.3 1054.4,515 1053,519.8 1053.1,520.7 1053.5,521.4 1054.4,521.7 1063.3,522.2 1064.2,520.8 1063.8,517.7zM1098.5,496.4 1098.8,497.8 1102.2,499 1103,499 1104.1,497.9 1103.5,496.2 1103.1,493.2 1102.1,492.2 1099.7,492.8zM978.6,85.1 979.8,86.7 984.2,86.4 986.4,87 987.6,86.5 988,85.7 986.7,82.1 980.8,79.9 979.7,80.7 978.6,82.4zM945.5,336.1 943.5,335.4 942.6,335.7 941.3,338.2 942.5,341.2 943.7,342.1 948.6,340.2 949.3,339.6 949.5,338.7 949.4,337 948.6,335.7 947.9,335.5zM1131.7,507.2 1129,510 1129.1,510.7 1130.7,512.3 1131.4,512.5 1132.6,511.8 1135,509.2 1134.6,507.9 1132.7,507.2zM956.7,404 957.5,405.4 958.3,405.6 963.3,405.1 964,403.9 963.9,400 959.9,397.3 958,398 957.2,399.2zM1112.4,205 1115.3,209.1 1116.6,209.2 1121.5,206.9 1122.4,205.8 1121.9,204.5 1120.2,203 1119.3,199.1 1118.5,198.1 1117.1,198.2 1113.5,200.3 1112.5,201.7zM1100.4,75.8 1101.7,76.8 1105.6,76.8 1107.8,72.5 1107.7,71.1 1106.6,70.4 1099.8,69.9 1099.2,70.4 1099,71.8zM1016.6,169 1015.6,168.2 1010.2,166.7 1009.5,166.7 1008.4,167.6 1009,177.6 1009.7,178.8 1012.2,179.5 1013.3,178.7 1017.1,171.6 1017.2,170.2zM976.8,307 976.4,305.5 975.7,305.1 967.2,302.9 966.3,302.9 965.6,303.5 963.5,307.2 964.6,311 965.4,312 966.4,312.3 974.2,312.1 975.1,311.8zM1050.8,146.8 1050.6,148.3 1051.1,149 1053.1,150.6 1055,153.1 1056.5,153.1 1057.6,151.5 1057.8,150.5 1056.6,146 1053.5,144.2 1052.3,144.8zM996.8,318.8 996.6,320.2 1000.2,330.3 1000.7,331 1002.3,331.1 1004.4,329.8 1004.9,328.8 1005.2,319.9 1004.1,319.1 998.7,317.8 997.8,317.9zM953.9,341.6 953.3,342.9 953.7,345.9 954.8,347.2 963.6,344.6 964.6,343.4 964.4,342.2 963.1,340.6 958.8,338.1zM1139.1,254.5 1138.8,260.2 1139.9,261.1 1145.3,262 1146.9,261.6 1149.5,260 1149.7,259 1149.1,254.1 1148,253.4 1144.5,254 1140.5,253.1 1139.8,253.3zM1065.8,179.7 1066,180.9 1068.1,183.6 1073.8,183 1074.7,182.6 1075.3,181.6 1073,173.4 1071.6,172.1 1068.2,172.7zM920.2,148.3 922.3,148.7 923.4,148.4 926.7,145.9 927.3,144.9 927.5,142 926.6,141.1 917.9,138.2 916.8,138.9 916.6,140.1 918.3,146.9 918.6,147.5zM1235.4,293.2 1236.3,291.9 1235.5,290.5 1228.2,286.8 1224.4,289.3 1223.7,295.9 1224,296.8 1224.8,297.7 1226.1,297.7zM1217.1,238.7 1210.6,236 1209.4,236.7 1209.3,242.4 1211.9,244.3 1215.5,243.5 1216.5,242.2 1217.3,239.5zM878.7,200.4 877.6,199.4 876.1,199.8 875.1,205.3 875.9,206.3 879.3,207.5 881.3,206.1 881.9,204.8 881.2,203.7 879.5,202.5zM896.3,302.5 896,304.1 896.8,305.6 900.3,306.1 901,305.8 901.4,305.3 901.6,302.7 902.8,299.4 902.8,298.7 901.6,297.7 899.8,297.6zM1282.6,250.7 1283.9,249.8 1284.1,249 1283.2,240.9 1282.5,239.8 1281.8,239.6 1279.2,240.5 1278.4,241.2 1276.8,244.9 1279.9,250.4zM1281.7,392.8 1278,393.4 1277.4,394.6 1277.4,395.3 1278.3,396.3 1283.9,398 1285.5,396.4 1285.7,394.8 1284,392.4 1283.1,392.1zM1148.4,74.8 1147.3,74 1145.9,74.5 1144.2,83.6 1145.2,84.6 1149.3,85.6 1150,85.1 1152.1,82.1zM1240.7,279.5 1241.1,281 1241.8,281.4 1249,283.4 1250.6,282.9 1251.3,281.5 1251.4,278.8 1250.9,277.6 1250.2,277.3 1246.6,277.4 1243.5,275.6 1242.1,276zM979.3,297.2 978,296.8 977,297.7 977.4,304.7 978.7,305.4 986.1,304.9 986.8,303.7 986.9,298.2 985.7,297.4 981.5,298.2 980.2,297.9zM1142.1,127.1 1142.1,129.2 1143.2,130 1144.5,129.6 1145.4,128.4 1145.4,127.7 1144.6,126.6 1143.3,126.2zM1099.4,477.7 1097.1,482.9 1097.9,484.2 1099.2,484.8 1100.2,484.5 1104,479.7 1104.2,478.4 1102.9,477.2zM1243,381.1 1240.4,379.8 1239,380.1 1238.5,381.3 1239,388.3 1241.3,389.2 1242.9,388.3 1245.1,385.6 1245.3,382.6 1244.5,381.3zM1003.1,423.4 1000.6,424.1 1000.1,425.5 1001.7,433.5 1004,434.4 1006.7,433.5 1007.6,432.2 1007.9,427.7 1003.9,423.8zM1317.1,387.7 1316.6,391.1 1316.7,393.5 1318,394.3 1318.8,394.1 1322.2,388.4 1321.2,387.1 1318.1,386.7zM1080.3,146.7 1074.1,149.2 1073.8,150.1 1074,150.9 1077.5,156.7 1078.7,157.4 1079.4,157.3 1082.9,153.3 1082,147.1 1081.2,146.7zM920.9,262.6 923.5,268.7 925.9,269.6 928.8,269.2 929.9,268.5 930.4,263.4 927.6,260.1 922.1,260.5 921,261.2zM1160.1,256.3 1158.6,260 1159.5,261.3 1165.3,263.3 1166.5,262.3 1166.5,261.5 1165.6,259.6 1166.9,257.1 1167,256.3 1165.8,255.1 1163.3,255.5 1161.1,255.4zM1228.2,141.9 1226.6,142.2 1226.2,143.7 1228.9,153.1 1230.3,153.5 1236.3,151.6 1236.7,150.1 1235,144.5zM1017.7,420.3 1016.8,419.9 1014.7,420.9 1013.6,424.6 1017.1,430.7 1018.6,431.4 1020.5,431.2 1021.7,430.1 1023,425.3zM1098.3,464.5 1096.7,467.4 1097.6,468.6 1099.4,469.3 1102.4,468.4 1105.6,461.4 1105.2,459.5 1099.1,457.1 1097.6,457.4 1097.1,458.9 1098.2,461zM1066.2,193.2 1065.7,195.3 1066.7,196.3 1074.7,199 1075.5,199.1 1076.7,198 1075.4,192.9 1074.4,191.9 1067,192.7zM1255,225.9 1252.7,226.9 1252.1,227.6 1252,228.6 1254,236.4 1254.4,237.1 1255.8,237.5 1261.5,232.3 1261.9,230.8 1260.4,226.7zM1016.4,500 1017.7,499.4 1019.6,496.7 1017.7,491.6 1016.4,491.2 1007.6,492.4 1006.5,493.2 1006.5,495.8 1008.9,499.5zM1148.6,493.8 1148.4,494.8 1148.7,495.6 1153.9,501.3 1154.6,501.8 1155.5,501.7 1159.1,500.2 1159.5,498.9 1158.1,493.6 1157.3,493.2 1150.9,492.5 1150,492.7zM1039.1,101.6 1039.2,103.3 1041.8,106.9 1045.6,107.3 1047,106.5 1047.3,104.9 1045.3,102.2 1045.2,100.2 1044.4,99 1041.1,98.9zM889.7,252.1 890.2,253.3 891.6,253.6 896,252.5 896.6,252.2 897.1,251 896,248.2 894.6,247.9 890.6,248.8 889.8,250zM1134.2,518.3 1133.6,521.1 1134.1,521.9 1135.7,523 1136.5,523 1145.8,519.3 1146.7,518.2 1146.6,517.5 1145,515.5 1144.2,515.1 1143.4,515.1 1142,516.6 1139.6,518.2 1137.8,518.5 1134.9,517.8zM1024.6,111.2 1031.3,110.2 1031.8,109.4 1032.8,104.3 1028.8,100.8 1027.9,100.4 1027,100.7 1023.3,103.4 1023.1,110.5zM949.7,205.7 950.9,210.4 953.5,211.7 955.1,211.5 956.3,207.8 955.9,206.4 951.9,202.6 950.4,203.1zM1193.2,95.4 1192.7,96.1 1193.1,97.7 1198.4,102.6 1199.7,102.9 1200.4,102.6 1202.4,98.3 1202.3,96.9 1201.8,96.4 1196.3,93.3zM1139.8,232.4 1140,233.4 1140.7,234 1143.3,235.2 1144.7,235.1 1147.8,230.8 1146.7,226.7 1145.5,226.2 1141.2,226.5 1140.4,227.6zM1131.2,145.8 1129.5,149.3 1130.1,150.4 1132.8,152.4 1134.1,152 1135.6,150.7 1138.3,149.9 1139,148.7 1138.5,147.4 1132.4,145.5zM1202.1,120.7 1202.4,121.5 1203.1,122 1206.5,122.9 1207.7,122 1208.6,119.4 1208.4,118 1206,115.7 1205.2,113.2 1204,112.5 1201.8,113.7zM951.3,470.3 951.9,471.8 953.5,471.8 959.2,468.4 959.3,467.5 958.6,464.2 954.2,460.2 953.4,460.2 952.4,461.4zM977,265.3 976.1,266.7 976.4,267.5 979.9,272.4 981.3,272.4 986,270 986.7,269.1 986.9,267.2 985.8,266.3 978.6,264.8zM937.5,392.2 939,392.3 942.6,390.4 943.4,389.2 942.9,387.8 938.2,384.3 936.8,384.8 933.9,389 934.6,390.5zM995.1,178.1 994.6,179.4 995,181.8 996.6,183 1000.5,184 1005,183.1 1005.8,182.6 1007,180.4 1007.4,178.4 1006.7,177 1001.1,173.4 999.9,173.7zM876.8,306.5 879.5,308.9 882.1,308.8 884.5,307.9 887,307.9 887.8,306.8 887.7,305.9 882.8,301.9 881.7,301.6 877.7,302.1 877,302.4 876.3,303.5 876.3,305.5zM1069.7,406.6 1068.9,407.6 1067.8,413.3 1069,414.3 1073.3,415 1074.2,414.2 1077,408.2 1077,406.9 1076.1,405.2 1074.9,404.3zM1172.4,110.4 1167.4,109.3 1166.4,110.6 1167,112.8 1167.1,115 1168.2,116 1172.6,114.4 1173.4,111.5zM1256.9,253.5 1256.1,254.4 1254.7,259.6 1255,260.8 1258.6,262.7 1264.2,262.1 1264.8,260.6 1262.8,252 1261.5,251.5 1260.5,251.6zM995.4,142.4 990.3,144.2 989.9,145.5 990.7,151.8 991.7,153 993.2,153.3 994.3,152.4 994.6,149.9 995.4,148.1 998,145.5 998.1,144.7 997.4,143.5zM938.7,369.1 944.6,370.7 945.3,370.2 949.6,364.9 949.9,363.9 949.6,362 947.2,360.6 946,360.5 938.4,363.7 937.5,364.8zM1266.7,191 1265.4,191.2 1265,191.7 1262.5,195.9 1262.4,197.3 1263.4,198.1 1268.9,199.1 1272.3,195.7 1272.7,194 1272.4,193 1271.7,192.5zM1246.3,159.7 1245.4,160.1 1244.9,160.9 1244.6,162.5 1247.8,167.2 1248.7,167.8 1252.2,168.8 1253.7,168.3 1254.2,165.9 1251.5,159.9z"/></g>
<g fill="#dedede" stroke="#8f8f8f" stroke-width="0.9" stroke-linejoin="round"><path d="M1224.2,431.8 1225.4,429.7 1225.2,428.1 1222.8,425 1219.7,422.9 1216.9,421.9 1214.7,421.4 1213.5,421.4 1212.9,421.8 1212.7,422.8 1213.6,424.9 1215.7,427.7 1218.6,430.3 1222.4,432.1zM1270.8,410.1 1271.2,407.4 1270.9,405.3 1269.2,403.2 1266.7,402.2 1264.6,402.3 1262.9,402.5 1261.8,403.6 1261.7,404.2 1262.2,406.2 1264.4,408.6 1268.4,410.8 1270.1,410.9zM1179,497.8 1179.5,497.5 1180.1,496.2 1179.2,493.9 1177,491.4 1174.6,489.8 1172.2,488.8 1170.1,488.3 1168.3,488.6 1167.8,490.3 1168.8,492.5 1170.8,494.6 1175.1,497 1177.2,497.8zM1165.6,431.5 1166.2,431.1 1166.4,429.8 1165.1,427.1 1162.7,424.1 1157.7,420.3 1155.1,418.8 1152.7,418.4 1152.1,419.8 1153.7,422.7 1156.4,425.6 1161.3,429.6 1163.9,431.2zM1228.2,460 1228.7,459.8 1229.1,458.3 1228.3,455.4 1226.7,452.3 1222.7,446.6 1220.4,444.6 1219,444.4 1218.6,444.9 1218.6,446.4 1219.4,449.2 1220.7,452.3 1222.5,455.2 1224.8,457.9 1227,459.8zM1175.5,391.9 1175.8,391.4 1175,389.8 1172.7,388 1169.8,386.5 1167.2,385.7 1164.6,385.3 1162.4,385.2 1160.9,385.4 1160.4,385.8 1160.4,386.9 1162,388.4 1165.2,390.1 1171.4,392.1 1174.4,392.4zM1122,383 1126.2,386.1 1130.9,387.2 1133.7,386.5 1134.2,386 1134.2,384.4 1133.1,382.7 1131,380.8 1127.9,379.2 1124.2,378.5 1120.8,378.4 1118.2,379.1 1117.9,380 1118.1,380.7 1119.9,382zM1143.4,461 1143.4,460.2 1141.8,458.6 1138.6,457.1 1135.1,456.3 1128.5,455.7 1124.8,456 1123.1,457.3 1123.3,458 1124.9,459.4 1134.3,462.2 1138.7,462.9 1142.6,462.2zM1160.4,479.9 1160.6,477.8 1159.3,476 1156.2,474.5 1153,474.5 1150.7,475.3 1149.3,476.2 1148.5,477.4 1148.8,478.8 1149.9,480.1 1151.7,481.5 1154.1,482.5 1157.5,482.4 1159.4,481.4zM1214.3,411.3 1214.9,409.5 1214.4,407.4 1212.9,404.9 1210.7,403.1 1208.2,402.1 1206.4,402.6 1206,403.8 1206,406.5 1206.6,408.4 1208.1,410.3 1211,411.8 1213,412zM1120.5,426.1 1120.3,424.5 1119.4,422.6 1116.9,420 1114,418.1 1110.9,416.7 1108.2,415.8 1107.1,415.8 1106.5,416.1 1106.6,417.5 1108.4,419.7 1113.9,424.5 1117.6,426.5 1120,426.8zM1196.9,468.8 1197.6,468.4 1197.8,467.4 1196.1,464.9 1193,462 1189.9,459.9 1186.7,458.3 1184.4,457.7 1183,458.2 1183,459.6 1184.4,461.7 1187.1,464 1194.8,468.2zM1177.1,402.7 1177.5,402.1 1177.6,401.1 1176.4,398.7 1173.9,395.8 1170.7,393.3 1166.5,391.3 1163.3,390.7 1162.2,391.4 1162,392.1 1162.6,394 1164.7,396.6 1167.4,399 1170.1,400.8 1173,402.3 1175.7,403zM1219.8,454.9 1220.1,454.3 1219.7,452.9 1217.8,451.8 1213.5,450.8 1210.9,450.8 1208.4,451.8 1207.3,453.6 1208.3,455.5 1210.6,456.8 1212.9,457.1 1218.3,455.8zM1109.2,408 1109.5,407.4 1109.3,405.6 1108.2,401.6 1107.2,399.1 1104.8,396.4 1103.1,395.7 1102.6,395.8 1101.7,396.6 1101.5,398 1101.8,399.9 1102.7,402.3 1104.1,404.7 1106.1,407 1108.1,408.2zM1235.3,395 1235.7,396.9 1237.3,399.4 1241.1,401.8 1245.6,402.8 1248.3,402.1 1248.7,401.7 1249.1,400.3 1247.8,398.3 1241,392.3 1237.2,390.8 1234.8,391.2 1234.4,391.6 1234.5,393.2zM1190.7,457.7 1191.5,457.3 1191.7,456.6 1190.9,454.8 1188.6,452.2 1182.9,447.8 1180.4,446.9 1179.7,447.1 1179.2,447.8 1179.9,449.8 1182.7,454.2 1185.2,456.3 1187.7,457.4zM1094.5,389.4 1094.6,388.2 1093.7,386.7 1091.5,385.4 1089.3,385 1087,385.4 1085.5,386.4 1084.7,387.7 1084.8,389 1085.6,390.3 1088.1,391.6 1090.4,391.9 1092.6,391.4 1094,390.4zM1237.7,463 1237.9,462.4 1237.4,460.9 1235.5,459.1 1233.1,457.7 1230.9,457 1228.7,456.9 1227.2,457.4 1226.3,458.3 1226.4,459.5 1227.3,460.8 1228.9,462.2 1230.9,463.4 1234.1,464.2 1236.5,464zM1281.9,400.1 1280.2,397.9 1276.6,395.5 1274.6,394.6 1271.8,394.5 1270.5,395.1 1269.8,396.3 1269.9,397.8 1270.7,399.3 1272.6,401 1275.2,402.3 1279.1,402.7 1281.6,401.7zM1124.6,453.4 1125.1,450.8 1125.8,449 1126.1,446 1124.9,441.9 1122.5,439.2 1119.6,437.9 1118.5,437.9 1118,438.3 1117.4,440.5 1117.7,444.3 1118.8,448.6 1121.1,453.2 1123.3,454.7 1123.9,454.5zM1260.9,404.2 1261,403.5 1260.6,402.6 1258.5,401 1255.7,399.8 1252.6,399.1 1248.9,398.8 1245.6,399.3 1244.5,400.7 1244.7,401.2 1246.5,402.6 1254.3,405.1 1257.5,405.5 1259.9,405zM1244,470.3 1244.4,469.8 1244.3,468.7 1242.6,467 1239.8,465.6 1234.8,464.6 1232.7,464.7 1231.1,465.4 1231,466.2 1232.2,467.9 1235.1,469.6 1237.8,470.4 1240.4,470.7 1242.6,470.7zM1106.9,429.9 1107.5,428.2 1106.8,426.3 1104.1,424.1 1101,423.3 1096.8,423 1095.1,423.7 1095.3,425.1 1096.8,426.8 1100.7,429.8 1103.6,430.9 1105.7,430.7zM1249.7,458.3 1250,456.9 1249.5,455.1 1248,453.1 1246.3,451.9 1244.2,451.4 1242.5,452 1241.7,453.6 1241.4,454.9 1242.3,457.3 1244.2,459 1246.9,459.7 1248.7,459.2zM1166.3,492.4 1167.1,491.1 1167.3,489 1165.7,485.7 1162.9,483.3 1159.7,481.9 1157,481.4 1155,481.9 1154.8,484 1156.4,486.6 1160.4,490.6 1162.9,492.4 1165,492.9zM1210.9,446.9 1211.3,446.4 1211.4,445.2 1210.3,443 1207.4,440.1 1204.4,438.3 1201.6,437.2 1199.2,436.6 1197.9,436.7 1197.4,437.1 1197.2,438.1 1198.3,440.3 1200.8,442.9 1203.8,445.2 1207.3,446.9 1209.7,447.3zM1273.4,444.4 1271.5,442.4 1265.7,438.6 1262.4,437.6 1259.9,438 1259.2,438.9 1259.7,440.6 1261.1,442.5 1263.6,444.3 1266.7,445.7 1270.8,446.3 1273.2,445.6zM1236.1,400 1236.8,399.8 1237.3,398.6 1236.1,395.8 1233.7,392.9 1228.8,388.1 1225.8,386.2 1223.9,386 1223.4,386.2 1223.2,388.3 1225.1,391.7 1227.7,394.5 1233.9,399.1zM1228.2,414.6 1228.3,414 1227.6,412.6 1225.4,410.5 1219.9,407.1 1216.5,405.9 1213.7,405.6 1212.2,406.4 1212.3,408 1213.4,409.9 1216.5,412.7 1220.5,414.7 1224.6,415.7 1227.5,415.4zM1173.3,469.4 1176,467.5 1175.9,466.1 1174.1,463.9 1169.5,461.4 1167.1,461 1166,461.8 1166.4,463.5 1167.5,465.4 1168.8,467.3 1170.7,468.8zM1206,427.4 1206,426.5 1204.2,425.2 1195,420.9 1190.4,420 1187.3,420.5 1186.5,421.7 1187.5,423.3 1190.3,425 1194,426.3 1201.4,427.9 1205.1,428.1zM1152,395.9 1152.2,395.3 1152,394.1 1151,391.9 1148.6,389.1 1145.4,386.8 1141.9,385.4 1139.1,385 1137.3,385.4 1137.3,387 1139.3,389.5 1142.2,391.9 1148.3,395.7 1150.9,396.5zM1184.4,488.1 1184.5,487.4 1183.6,485.7 1181.7,483.8 1177.2,480.5 1173.9,479.2 1171.4,478.9 1170.1,479.6 1170.4,481.3 1172.2,483.4 1177.1,487 1180.6,488.5 1183.6,488.8zM1182.9,389.9 1183.5,388.8 1182.4,386.7 1180.2,384.4 1177.3,382.4 1173.8,381.4 1171.9,381.9 1170.4,383.8 1170.9,386 1173.7,388.5 1177.3,389.9 1181.7,390.1zM1239.2,417.9 1239.3,417.2 1238.3,415.5 1236.5,413.4 1234.4,411.6 1231.9,410.1 1228.8,408.7 1225.3,407.8 1222.8,407.9 1222.3,408.2 1222.5,410.3 1225.6,413.2 1234.9,418.3 1238.1,418.8zM1167.9,419.8 1168.1,418.2 1167.8,416.4 1165.7,413.8 1163,412.4 1158.7,411.5 1156.5,411.3 1155.7,412.2 1155.6,412.8 1156.5,415 1158.7,417.8 1161.4,420.1 1165.3,421.7 1167.4,421.2zM1220.8,475.9 1221.2,475.5 1220.9,474.2 1218.9,472.1 1216.3,469.9 1212.8,467.9 1208.1,466.8 1205.5,467.5 1204.8,468.6 1205,470.6 1206.6,472.6 1210.2,474.6 1216.6,476.1 1219.4,476.3zM1111.1,326.5 1110,327.8 1109.7,329.9 1111.1,332.6 1113.2,334.1 1115,334.5 1116.3,334.6 1117.5,334 1118.1,332 1117.9,329.3 1116.9,326.2 1114.7,323.8 1112.9,323.7 1112.4,324zM1066.2,282.9 1066.1,281.2 1065.1,279.4 1062,277 1058.7,275.6 1055.3,274.7 1052.1,274.3 1050.9,274.7 1050.5,275.2 1051,276.8 1053,279 1055.8,281.2 1059.1,283.2 1063.3,284.5 1065.6,284zM1066,371.9 1067,371.1 1067.1,370.5 1066.3,368.6 1064.2,366.8 1060.1,365 1058,364.4 1056.2,364.7 1055.9,366.3 1056.9,368.2 1058.7,370.2 1060.7,371.4 1062.8,372zM1168.2,379.2 1168.6,378.6 1168.6,377.6 1167.8,375.2 1166.1,372.6 1163.6,370.3 1160.3,368.3 1157.9,367.7 1156.1,368.1 1155.7,369.9 1156.8,372.3 1159.4,375.3 1162,377.3 1164.7,378.8 1167,379.5zM1071.6,226 1071.9,224.8 1071.2,222.9 1069.7,220.8 1067.5,218.6 1064.2,216.6 1061.7,215.9 1060.2,216.4 1060.1,218.1 1061.5,220.5 1064,223.1 1066.5,224.8 1068.9,226 1070.7,226.3zM1044.7,289.3 1045.3,288.8 1045.4,287 1043.8,284.2 1041.6,281.8 1039.3,280 1036.9,278.8 1035.1,278.5 1033.8,279.1 1033.6,280.6 1034.2,282.4 1035.6,284.5 1037.4,286.3 1039.9,288.2 1042.8,289.4zM1148.6,313.5 1149.1,313 1149.1,311.5 1147.7,309.2 1145.2,306.7 1142.2,305.1 1138.9,304.3 1136.6,304.4 1135.1,305.4 1135.3,307.3 1137,309.3 1139.4,311 1144.1,313.3 1146.9,313.9zM1080.2,363.1 1080.8,362.7 1080.9,361.5 1078.7,359.3 1074.9,356.9 1071.1,355.2 1067.6,354.4 1065.6,354.6 1064.4,355.5 1064.2,356.3 1065.6,358.1 1068.9,360.2 1077.6,362.8zM1039.6,221.3 1039.8,220.7 1039.5,219.4 1038.1,217.5 1035.4,215.6 1032.7,214.5 1030.2,214.1 1028.2,214.2 1026.6,214.8 1026.3,215.6 1027.5,217.6 1030,219.6 1032.8,221 1036.2,222 1038.5,222z"/></g>
<g stroke="#1d1d2b" stroke-width="0.95" stroke-linejoin="round"><path fill="#d6dce4" d="M989.8,78 989.7,78.6 990.3,79.7 995,82.3 996.2,81.7 998.7,77.9 998.6,77.2 997.8,76.4 995,74.5 993.1,74 991.7,74.7z"/><path fill="#f6bda2" d="M990.4,87 991.9,87 993.6,86.4 995.1,85.2 995.3,83.8 994.7,82.6 990,79.9 989,79.7 988.1,80.1 987.5,81 987.5,82.9 988.8,85.6z"/><path fill="#dfdbd9" d="M998.8,79 995.9,82.6 995.6,84.9 996,85.8 996.6,86.3 1001.9,88.5 1003.6,88.3 1004.4,87.5 1005,85.7 1004.2,80.3 1003.6,78.7 1002.3,77.8 1001.2,77.7z"/><path fill="#aac7fd" d="M976.7,89.6 973.1,86.5 970.5,85.3 969.4,85.4 967.6,86.3 966.6,89.3 967.1,94.3 967.8,97.2 973.8,99.7 977.9,99.8 979.6,99.1 979.9,98.4 980.6,92.9 980.1,91.8 978.9,90.8z"/><path fill="#dfdbd9" d="M982.2,92.1 983.4,92.6 986.7,92 987.1,91.6 987.2,90.4 987,89.1 986.3,87.8 985.6,87.2 984.2,86.8 981.7,86.9 980.4,87.3 979.9,88.2 980.1,89.3z"/><path fill="#a9c6fd" d="M988.8,94.6 984.9,92.7 981.9,93.4 981.3,94.9 981.3,95.9 981.7,97 982.6,97.9 984.2,98.5 985.3,98.3 988.8,95.9z"/><path fill="#3e51c5" d="M974.8,104.5 975.2,101.8 975,101 974.3,100.4 967.6,97.7 966.5,98.4 965.9,99.5 963.9,103.5 963.6,105 966.5,109.2 971,109.3 971.6,109.2 972.6,108.2 973.8,106.5z"/><path fill="#f4c5ad" d="M980.1,105.3 979.3,103 978.4,102.3 975.9,102.3 975.4,103.1 975.2,106 976.3,106.5 979.3,106.1z"/><path fill="#ee8468" d="M957.1,107.2 956.6,108.2 956.6,111.1 957.1,112.1 957.9,112.7 959.9,113.2 963.6,113.4 964.2,112.9 965.7,110.2 965.9,109.5 965.6,108.8 962,103.6 961.4,103.4 959.8,104z"/><path fill="#a1c0ff" d="M993.1,103.6 994.1,99.5 993.4,97.9 991.8,97 989.1,96.7 988.2,96.8 984.3,99.5 984.1,100.5 985.2,105.5 986.6,107.2 988.4,108.3 990.4,108.8 991.3,108.7 992.7,107.8 993.3,105.9z"/><path fill="#a9c6fd" d="M995.4,98.9 994.8,99.4 994.5,100.2 994.3,104.8 994.5,105.6 995,106.1 996,106.5 1001.8,107.1 1004.6,106.6 1005.1,106 1005.1,105.2 1003.3,98.9 1000.9,97.8 998.8,97.9z"/><path fill="#f18d6f" d="M1004.2,98.3 1003.9,99.5 1005.2,104.2 1005.5,104.8 1006.6,105.2 1011.7,102 1012.9,100.5 1013.2,99.3 1012.9,98.1 1009.6,96.7 1005.5,97z"/><path fill="#5b7ae5" d="M1006.6,93.8 1008.9,96.1 1011.6,97.1 1013.3,96.8 1014.7,95.3 1015.5,93.7 1015.9,92.1 1015.6,90.7 1014,89.2 1012.3,88.4 1010.4,88.3 1009.1,88.7 1007.3,90.2 1006.2,92.4z"/><path fill="#f7b99e" d="M965.4,115.8 966.5,116.5 971.1,117 972,116.9 973.8,113.9 973,110.6 972.4,109.9 971.6,109.6 966.5,109.8 964.5,113.4z"/><path fill="#d4dbe6" d="M980.4,106.8 979.1,106.4 975.5,106.9 974.6,107.4 973.4,108.9 973.1,109.5 973.5,111.3 975.4,113.9 981.3,113.5 982.1,113.2 982.8,111.6 982.7,109.9 981.9,108.2z"/><path fill="#d4dbe6" d="M983.3,116.9 981.3,114 980.5,113.9 975.1,114.5 974,115.2 973.1,116.9 972.9,117.9 974,121.3 977.4,123.9 979.5,124.9 981.9,124.8 982.6,124.5 984.1,122.9z"/><path fill="#9abbff" d="M964,125.6 966.6,126.2 968.7,125.7 973.1,123.7 973.7,123 973.7,122.2 972.8,118.4 972.3,117.7 971.6,117.4 967.3,116.9 966.2,117.2 962.9,119.5 961.9,120.9 961.8,122.8 962.7,124.4z"/><path fill="#c43032" d="M984.1,119.5 985.8,121.7 987.4,122.9 989.4,123.1 990.7,122.5 994.8,116.1 992.7,111.8 991.3,110 990.5,109.5 988,109.4 985.9,110.6 983.5,113.3 983.2,114.4z"/><path fill="#b40426" d="M994.8,118.1 993.8,118.4 992.2,120.8 992.1,121.7 993,122.8 994.1,122.6 996.3,121.7 996.9,121.1 996.9,119.7z"/><path fill="#ee8669" d="M985.9,131.2 986.8,131.8 988.1,131.7 991.3,129.2 992,128.2 992.2,127.4 991.9,126.2 990.3,123.6 986.8,123.3 985.2,125.2 984.8,126.4 984.7,127.8 985.2,130.2z"/><path fill="#a2c1ff" d="M946.6,109.9 947.2,108.9 947.4,107 946.8,105.7 941.9,104.6 940.5,105.1 939.7,106.1 939.1,108.2 939.1,109.2 939.5,110 941.1,111.3 945.3,110.6z"/><path fill="#aac7fd" d="M955.9,110.1 956.3,109 956.2,106.4 953.9,104.5 952.3,104 951,104.5 949.9,105.4 948,108 947.6,109.6 948.1,111.4 952.4,113.3 953.5,112.7z"/><path fill="#96b7ff" d="M936.1,114.7 936.8,115.4 937.3,115.4 940.5,114.6 940.9,113.7 940.6,112.1 940.1,111 938.7,110.3 935.6,111.2 935.2,111.8 935.1,112.5z"/><path fill="#5d7ce6" d="M942.2,111.6 941.4,112.2 941.5,113.1 942.4,114.1 944,114.7 946.6,112.2 946.6,111.7 946,111z"/><path fill="#4a63d3" d="M944.9,115.9 948.1,121.9 949.4,122.1 951.1,120.7 952.6,118.3 953.1,115.1 952.9,114.3 952.2,113.7 948.3,112.1 946.8,112.6 944.8,115z"/><path fill="#98b9ff" d="M944.6,115.9 943,114.8 942.1,114.7 935.2,116.2 934.5,116.6 932.3,122.9 932.8,125.8 934.5,127.9 935.5,128.6 936.6,128.9 943.9,127.6 944.8,127 947.7,122.4z"/><path fill="#9dbdff" d="M957.3,125.4 951.3,124.3 949.3,124.4 947.4,125.6 946.1,127.4 945.9,128.4 946.1,131.9 946.9,133.2 950.5,135.6 951.7,136 952.9,135.8 955.5,133.9 956.8,131.6 958.5,129.6 959.1,127.6 958.1,126z"/><path fill="#d6dce4" d="M945.3,131.5 944.3,128.5 943,128 938.7,128.8 937.9,129.2 937.3,129.9 937.1,131 937.6,132.1 939,133.3 941.1,134.5 943,134.7 944.3,134.1 945.2,132.9z"/><path fill="#9dbdff" d="M929.4,139.3 930.9,139.2 931.9,137.8 931.7,133.4 931,131.8 930,130.9 928,130.1 927.2,130.1 926.4,130.5 925.8,131.6 925.3,136.8 925.6,137.7 926.7,138.8z"/><path fill="#f6a385" d="M954,135.3 953.7,136 953.9,136.7 955.2,137.8 957.2,137.9 958.2,137.6 958.7,136.9 958.6,134.6 957.5,133.7 956,133.9z"/><path fill="#9ebeff" d="M977.8,145.6 979.7,140.5 981.3,138.3 982.2,136.1 981.7,133.1 981.2,132.3 978.6,130.8 975.8,130.6 971.1,131.9 968.7,133.7 967.5,135.9 967.1,138.4 968,141.9 968.6,142.5 975.5,146.4 976.3,146.6z"/><path fill="#abc8fd" d="M973,145.3 968.1,142.9 967,143.6 966.9,148.3 967.6,150 968.1,150.5 969.7,151 971.5,149.9 973.6,147 973.7,146.3z"/><path fill="#5f7fe8" d="M1028.7,79.1 1026.1,76 1024.3,75.8 1020.3,74.5 1018.2,74.7 1017.5,75.1 1016.9,77.1 1019.5,80.9 1019.9,82.9 1020.5,84 1021.2,84.7 1023.1,85.3 1026.6,84.7 1027.6,84.1z"/><path fill="#a7c5fe" d="M1025.8,74.2 1026,75.2 1029.1,78.6 1030.5,78.1 1032.3,75.2 1032.3,74.2 1031.9,73.3 1031.1,72.7 1029,72.1 1027.9,72 1026.8,72.4z"/><path fill="#df634e" d="M1028.3,82.7 1028.8,83.8 1029.6,84.4 1033.1,84.9 1034.1,84.1 1034.4,83.5 1034.8,80.4 1033.1,78.6 1029.9,78.8 1029,79.7z"/><path fill="#f5c4ac" d="M1036.3,79.9 1037.5,80.3 1038.1,80 1041.1,74.4 1041.2,73.6 1040.9,72.8 1039.9,71.7 1038.1,70.6 1036.2,70.6 1035,71.2 1033.1,72.4 1032.6,73.5 1032.7,76.9z"/><path fill="#d85646" d="M1041.5,74.3 1037.8,82 1038.6,83.2 1040.1,83.3 1040.8,83 1043.9,81.1 1046.3,80.8 1048,80 1049.1,78.4 1049,77.1 1048.1,75.9 1045.6,74.1 1044.2,73.5 1042.4,73.6z"/><path fill="#ee8669" d="M1057.5,82.2 1057.9,80.6 1057.3,79.7 1055.9,78.9 1053.9,78.2 1052.2,78.8 1050.7,80.3 1049.9,81.7 1050.2,82.8 1050.9,83.6 1052.7,84.9 1053.8,85.1 1055.1,84.7z"/><path fill="#cdd9ec" d="M1061.6,80 1063.6,79.9 1064.5,79 1064.9,77.8 1063.8,73.7 1063.1,72.8 1061.8,72.4 1060.2,73.3 1058.5,75 1057.9,76.4 1058.7,78.1z"/><path fill="#96b7ff" d="M1066,72.1 1065,73 1064.9,73.7 1065.3,77 1066.1,78.3 1068,79.2 1072.6,78.8 1073.6,78.2 1074,77 1073.4,73.5 1072.7,72.6 1071.2,71.8 1070,71.7z"/><path fill="#b8122a" d="M1076.8,70.4 1073.7,72.5 1073.6,73.2 1073.9,74.6 1075.8,77 1077,77.5 1078.6,77.6 1080.1,77.2 1080.7,76.5 1080.6,74.9 1079.6,73.1 1079.3,71.5 1078.6,70.6z"/><path fill="#f6bfa6" d="M1064.5,88.2 1065.3,89.2 1070.5,91.6 1071.9,91.5 1074.1,90.5 1076.1,88.6 1076.8,86.7 1076.4,84 1073.2,79.2 1072.5,79.1 1066.5,79.8 1065.3,81.5 1064.5,83.8 1064.2,86.2z"/><path fill="#3e51c5" d="M1066.1,89.9 1064.9,89.9 1063.3,90.7 1061.6,92.3 1060.7,94.3 1061.2,95.5 1066.2,99.2 1067.4,99.4 1068.4,99.2 1069.8,98.1 1070.8,96.3 1070.8,94.9 1069.8,91.7z"/><path fill="#f6bfa6" d="M1053.1,105.9 1054.9,105.7 1055.6,105.4 1056,104.7 1059.2,95.1 1059.2,94.2 1058.7,93.5 1057,92.4 1055.2,91.9 1052.5,91.9 1050.2,92.7 1048.2,94.3 1046.8,96.2 1045.6,99.1 1045.7,102 1047.1,104 1049.1,104.9z"/><path fill="#f6a586" d="M1061.2,95.8 1060,95.6 1059.1,96.5 1056.4,104.5 1056.7,106.1 1057.9,107.8 1059.9,108.6 1060.9,108.5 1062.8,107.2 1066.9,101.3 1066.9,100.4 1066.4,99.7z"/><path fill="#e1dad6" d="M1088,90.8 1087.4,88.9 1085.6,87.1 1084.1,86.4 1082,86.1 1079.9,86.7 1078.4,88.1 1077.5,90.1 1077.4,93.2 1077.8,95.3 1078.8,96.9 1080.3,98 1081.2,98.3 1083.4,97.9 1085,96.5 1086.9,93.7 1087.7,92.5z"/><path fill="#f5c4ac" d="M1069.4,101.9 1068.8,102.4 1068.6,103.2 1068.9,104 1072.5,108.3 1075,109.3 1077.1,108 1079.4,105.1 1080.4,103.7 1080.9,101.5 1080,99.1 1079.1,98.1 1078.3,97.7 1077.5,97.8z"/><path fill="#dc5d4a" d="M1071.1,99.5 1071.5,100.1 1072.2,100.1 1075,98.6 1075,97.7 1074.1,97.2 1071.7,97.1 1071.1,98z"/><path fill="#dfdbd9" d="M1073.8,114.1 1072,109.2 1071.3,108.6 1070.4,108.3 1068.8,109.1 1067.7,111 1067.1,112.9 1067.2,114.5 1067.9,115.8 1069.2,116.3 1070.3,116.1 1073.2,115.1z"/><path fill="#4e68d8" d="M1092.3,113.7 1094.9,114.8 1100.3,114.2 1101.4,113.6 1102,112.6 1102.2,109.8 1097.3,104.4 1095.5,104.4 1093.3,105.5 1091.1,108 1090.5,109.9 1090.8,112.1z"/><path fill="#f2cbb7" d="M1083.6,127.7 1087.6,126.1 1092.5,121.2 1092.9,120.1 1092.6,115.6 1090.8,112.6 1090.1,112.1 1084.4,110 1080.6,109.9 1079.8,110.2 1077.4,111.9 1076.9,112.7 1075.8,118.1 1074.8,120.9 1074.6,123.3 1074.9,124.2 1076.9,126.6 1080.2,127.8z"/><path fill="#f6bda2" d="M1093.5,116 1092.3,117.4 1091.9,118.2 1092,119.9 1093.3,121.2 1096.5,122.2 1099.2,122.5 1101.2,120.3 1101.4,118.9 1100.2,115.6 1099.3,114.7 1095,115.1z"/><path fill="#d65244" d="M1095.4,131.7 1096.6,131.7 1098,130.8 1099.7,127.8 1100.4,124.7 1099.6,123.5 1098.7,122.9 1095.1,122.4 1092.3,124.1 1091.5,125.2 1091.3,126.3 1091.9,127.6 1094.2,130.8z"/><path fill="#5f7fe8" d="M1109.7,106.5 1109.9,105.5 1109.2,103 1106.4,100.4 1105.5,98.8 1104.1,97.5 1103.1,97.2 1101.3,97.5 1099.7,98.7 1098.6,100.3 1097.8,102.5 1097.8,104 1098.2,104.7 1101.9,108.8 1102.6,109.2 1103.4,109.2 1109,107.1z"/><path fill="#f59f80" d="M1102.3,112.5 1102.8,113.7 1104.6,115 1108.8,115.2 1110,114.5 1110.2,111 1109.8,110 1108.4,108.5 1107.7,108.2 1106.9,108.2 1102.8,110z"/><path fill="#f2cab5" d="M1110.6,110.4 1110.5,113.9 1110.8,114.8 1111.5,115.3 1112.5,115.4 1118.3,113.5 1120.2,111.8 1120.5,110.4 1119.9,109.3 1119.1,108.8 1116.9,108 1116.2,107.2 1114.9,106.6 1113.9,106.7 1112.4,107.5z"/><path fill="#f59c7d" d="M1103.3,118.7 1104.2,117.8 1104.2,115.5 1102.7,114 1101.8,113.8 1100.8,114.4 1100.5,114.9 1100.5,115.6 1101.7,118.5z"/><path fill="#e16751" d="M1107.9,117.7 1105.1,118.8 1104.4,119.6 1105,122.7 1106,123.4 1107.3,123.7 1109.2,123.6 1109.7,122.4 1108.9,118.2z"/><path fill="#7093f3" d="M1113.8,123.1 1114.7,122.6 1115,121.9 1114.9,119.4 1114.4,117.7 1113.5,116.6 1112.3,116 1111.2,116 1110.1,116.3 1109.4,117 1109.2,117.8 1110.1,122.1 1110.8,122.9 1111.6,123.1z"/><path fill="#f6a283" d="M1104,120 1103.2,119.2 1102.2,119.6 1100,122.3 1099.8,123.1 1100,123.6 1100.7,124 1101.8,124.2 1104.2,123.5 1104.5,122.5z"/><path fill="#f4987a" d="M1099.5,129.8 1099.6,130.7 1100.2,131.4 1101.5,132.2 1103.4,132.7 1105.3,132.6 1107.8,131.6 1108.4,131 1108.6,130.2 1108.2,126.7 1107.9,125.9 1105.2,124.7 1103.2,124.2 1101.6,124.6 1101,124.9 1100.6,125.6z"/><path fill="#f6a283" d="M1113.2,123.4 1109,124.6 1108.5,125.2 1108.7,128.9 1110.6,131.4 1111.6,131.9 1112.6,131.9 1116.6,129.8 1116.7,127.8 1115.3,124.3 1114.5,123.6z"/><path fill="#c83836" d="M1129.4,124.6 1129.8,123.4 1129.4,122.1 1127.6,119.6 1125.9,119.2 1124.6,120 1124,120.9 1123.8,122 1124.5,123.6 1125.5,125 1126.9,125.5 1128.7,125.1z"/><path fill="#be242e" d="M1130.2,123.7 1130.9,124.4 1131.8,124.2 1133.7,122.6 1134.5,121.4 1134.7,119.8 1134.2,118.7 1131.6,117.2 1130.5,117.4 1130.1,118.1 1129.7,122.1z"/><path fill="#d8dce2" d="M1135.6,119.1 1135,120 1134.7,122.2 1135.2,123.3 1138.7,124 1140.9,123.7 1142.2,122.7 1142.4,120.9 1141.1,119.7 1137.7,118.6z"/><path fill="#6a8bef" d="M1118.5,130.8 1118.9,131.5 1122,134 1123.4,134.1 1124.3,133.2 1124.6,132.4 1124.3,130.5 1124.7,129.2 1124.6,128.2 1123.3,127.3 1119.9,127.6 1118.8,128.3 1118.4,129.1z"/><path fill="#b40426" d="M1127.9,129.1 1125.8,128.5 1125.1,129.5 1125.1,132.7 1126.4,133.5 1128.7,133.8 1130.1,132.6 1131,130.8 1131,129.8 1130.3,129z"/><path fill="#f5c4ac" d="M1140.6,125.2 1139.6,124.4 1135,123.8 1133.6,124.3 1133,125.6 1133.3,128.8 1133.9,130.8 1134.8,131.3 1138.1,132.1 1140.1,131.6 1140.7,131.1 1141.4,129.6 1141.5,127.9z"/><path fill="#d44e41" d="M1122.5,139.7 1123,140.9 1123.8,141.4 1126.3,141.9 1127.3,141.8 1127.9,140.7 1127.7,136.6 1125.5,135.6 1123.8,135.8 1123,136.8z"/><path fill="#cdd9ec" d="M1113.7,131.7 1108.6,134.2 1108.5,135.6 1109.7,137.8 1112.7,141.1 1120.4,142.1 1121.7,141.6 1122.7,136.9 1122.5,135.8 1120.8,133.4 1118.6,131.6 1116.6,131.2z"/><path fill="#6e90f2" d="M1142,135.1 1141.8,134 1140.7,133 1134.4,131.5 1133.4,131.7 1131,132.8 1129.2,134.2 1128.2,135.9 1128.4,143.6 1129.8,144.5 1133,145.2 1135.8,146.3 1138.4,146.8 1139.5,146.5 1141.1,145.1 1140.9,142.2 1140.1,139.7 1141.2,137.6z"/><path fill="#cdd9ec" d="M1146.9,135.7 1148.2,135.9 1149.5,135.6 1150.9,134.7 1152,133.6 1152.5,132.7 1152.6,131.1 1152.1,129.7 1151,128.8 1149.3,128.2 1147.2,128.5 1145.6,129.1 1144.4,130.3 1144.1,131.8 1144.4,133.3 1145.2,134.4z"/><path fill="#f6bea4" d="M1112.7,141.5 1111.8,141.7 1111.3,142.4 1109.9,144.9 1109.6,146.5 1109.9,147.6 1111.3,148.9 1118,150.5 1118.8,149.9 1120.3,147.6 1120,146.1 1120.3,143.5 1120.1,142.9 1119,142.2z"/><path fill="#f29274" d="M1153.7,143.7 1154.8,142.2 1154.7,140.7 1153.7,138.9 1152.7,138.3 1152.2,138.4 1151.5,139.2 1150.7,141.5 1150.7,143.2 1151.3,144 1152.1,144.3z"/><path fill="#485fd1" d="M1158.2,148.6 1159.5,148.8 1160.1,148.5 1161.6,146.8 1163,145.8 1164.3,144.2 1164.5,143.2 1164,141.4 1162.3,140 1159.9,139.5 1158.5,139.7 1157.1,140.3 1156,141.5 1155.5,143.3 1155.8,146.1 1156.3,147z"/><path fill="#f6a586" d="M1122.9,155.1 1123.8,155.2 1124.5,154.7 1127.8,150.6 1128.2,149.5 1127.8,148.1 1126.1,146.5 1124.5,146.2 1122.9,146.5 1121.5,147.3 1120.1,149.4 1119.7,151.3 1120.1,152.9 1121,154.2z"/><path fill="#e46e56" d="M1124.9,154.8 1124.6,156 1126.4,158 1130,158.2 1130.8,157.9 1131.3,157.2 1132.4,153.8 1132.4,152.9 1129.7,150.7 1128.4,150.6z"/><path fill="#be242e" d="M1123.7,158.9 1121.9,156.6 1119.5,155.6 1118.3,155.6 1117.1,156 1116.5,156.5 1115.9,157.7 1115.9,159.1 1116.9,161.6 1118.1,163 1119.4,163.7 1121.5,163.4 1122.4,162.7 1123.7,160.2z"/><path fill="#5a78e4" d="M1135.8,151.1 1132.5,154.3 1131.5,158.3 1134,161.7 1136.2,162.5 1138.8,162.2 1142.3,161.2 1143.4,160 1143.7,158.9 1143.4,157.7 1142.4,154.8 1138.7,150.9 1138.1,150.5 1137.3,150.6z"/><path fill="#f39778" d="M1139.8,150.4 1139.7,151.1 1140,151.7 1141.9,153.6 1143,153.9 1143.8,153.2 1145.6,149 1145.5,147.9 1145.1,147.5 1144,147.5 1140.4,149.5z"/><path fill="#d65244" d="M1146.2,149.3 1145.5,150.1 1143.5,154.7 1143.4,155.7 1144.3,158.2 1145.5,158.6 1151.1,158.2 1151.8,157.9 1153.7,155.9 1154.9,153.8 1155.1,152.7 1154.9,152.1 1152.1,148.2 1151.4,147.7 1150,147.8z"/><path fill="#f5c1a9" d="M1126.4,168.3 1128.6,169.2 1130.7,169.6 1133.1,168.8 1133.8,168 1134.4,166 1134.4,163.3 1134.1,162.4 1131,158.7 1126.5,158.5 1125.5,158.9 1124.2,160.3 1121.4,165.3 1121.4,166.5 1121.9,167.3 1124,168.1z"/><path fill="#d8dce2" d="M1157.1,150.3 1156.9,148.6 1155,146.9 1154.1,146.9 1153.7,147.7 1153.5,148.9 1154,150.4 1155.1,151.3 1156,151.5 1156.5,151.2z"/><path fill="#f4c6af" d="M1170.4,134.9 1170.5,137.1 1171.1,137.6 1171.8,137.7 1181.7,136.6 1183.3,135.4 1183.9,133.4 1183.1,131.8 1181.5,130.8 1177.6,130 1175.1,130 1173,130.8 1171.8,132.1z"/><path fill="#d7dce3" d="M1171.7,138.1 1171,138.4 1170.5,139 1170,140.4 1170.3,142.3 1175.4,148.7 1179,148.5 1183.7,145.9 1185.2,144 1185.5,141 1184.7,138.6 1183.4,136.9z"/><path fill="#d8dce2" d="M1166.9,144.7 1165.3,145.5 1164.2,147.4 1164.2,148.9 1165.3,150.7 1169.2,152.9 1170.2,153.1 1173.3,152.4 1173.8,151.6 1174.4,148.4 1171.6,144.6 1170.9,144.1 1170.1,144.1z"/><path fill="#ee8468" d="M1194.6,151.2 1195.4,150.9 1196.2,149.9 1196.3,148.7 1195.7,146.7 1194.1,145.8 1190.6,145.1 1189.6,145.4 1188.9,146.8 1189,149.2 1189.5,150.7 1190.6,151.3z"/><path fill="#cfdaea" d="M1181.5,149.7 1180.7,148.9 1180.1,148.8 1176,149.4 1174.7,151.8 1174.3,153.2 1176.1,155.8 1178.2,156.8 1181.9,155.9 1182.3,154.6z"/><path fill="#f59f80" d="M1178.8,164.3 1183.4,163.6 1184.5,162.5 1184.7,161.6 1184.3,160.4 1182.3,157.4 1181.5,156.7 1177.9,157.3 1176.9,158.3 1176.7,159.5 1177.2,163 1178.2,164.2z"/><path fill="#cdd9ec" d="M1170.2,153.4 1169.3,153.9 1167.5,156.2 1167.1,157.3 1167.4,158 1170.5,162.4 1173.7,162.5 1174.9,162.1 1175.7,161.2 1176.6,158.4 1176.4,157.1 1174.4,154.1 1173.3,153z"/><path fill="#4961d2" d="M1157.4,168 1158.1,169.1 1159.3,169.9 1160.2,170.1 1162.2,169.8 1170.1,165 1170.6,164.5 1170.5,163.1 1166.7,157.6 1165.3,156.8 1163.2,156.5 1161,157.2 1160.4,157.7 1159.2,159.6 1157.3,164.8z"/><path fill="#f7b79b" d="M1144.9,163.7 1145.2,164.9 1150,170.9 1150.7,171.4 1152.4,171.1 1153.2,170.5 1154.4,168.3 1154.8,163.8 1155.8,161 1155.6,158.9 1155,158.3 1154.3,158.2 1147,158.8 1146.2,159.1 1145.8,159.8z"/><path fill="#de614d" d="M1179.7,170.7 1180,169.7 1179.8,168.5 1178.4,166.9 1176.3,166.1 1175.2,166.3 1174.3,167 1173.9,168.9 1174.4,170.6 1175,171.4 1176,171.9 1177.3,171.9 1179,171.4z"/><path fill="#d4dbe6" d="M1183.7,164.3 1183.6,165.7 1184.1,166.2 1192,171.5 1193.1,171.8 1193.9,171.6 1195.1,170.9 1195.8,170.2 1196.4,168.1 1196.2,165.9 1195.4,163.7 1193.8,162 1192,161.3 1188.5,161.1 1186.6,161.3 1185.3,162.1z"/><path fill="#cdd9ec" d="M1183.8,166.4 1183,166.1 1182.3,166.3 1181.2,167.4 1180.2,171 1180.6,172.6 1182.4,174.6 1187.9,178.5 1190.7,178.6 1191.8,177.4 1192,176.4 1191.1,171.5z"/><path fill="#94b6ff" d="M1135.1,168.1 1133.4,173 1134.3,174 1143.7,177.2 1144.5,177.2 1149.3,172.5 1149.7,171.2 1144.3,164.2 1141.6,162.8 1140.5,162.7 1137.1,163.8 1136.4,164.3 1135.7,165.5z"/><path fill="#a9c6fd" d="M1131.7,188.4 1134.5,190.2 1135.4,190.3 1138.9,189.5 1141.3,187.3 1143.4,184.7 1144.6,179.1 1144.3,177.8 1135.1,174.6 1133.9,174.8 1132.5,176.7 1130.3,181.3 1130,183.8 1130.4,185.9z"/><path fill="#d1493f" d="M1156.1,190 1158.5,187.6 1158.8,186.6 1158.8,183.9 1158.5,183 1156.7,180.8 1154.5,179.2 1151.7,175.1 1151,174.6 1149.8,174.8 1145.7,177.5 1145.1,178.4 1143.4,186.1 1143.5,187.1 1144.7,189.7 1145.9,191 1146.5,191.2 1152.6,191.2z"/><path fill="#d1493f" d="M1160.8,185.6 1161.5,186 1162.3,186 1170.5,182.8 1172.7,175.1 1172.7,172.6 1172.3,171.7 1170.7,170.2 1167.4,170.2 1165.1,171 1162.6,172.2 1160.3,174.1 1158.9,176.6 1158.6,179.3 1158.8,181.6 1159.6,183.9z"/><path fill="#cdd9ec" d="M1180.6,184.3 1181.6,181.2 1181.1,178.3 1179.8,176.3 1179,175.9 1177.3,176 1175.6,177.1 1174,179.1 1173.7,180.7 1174,182.7 1175.4,185.4 1176.5,186.4 1177.4,186.7 1178.9,186.4z"/><path fill="#d2dbe8" d="M1164.9,185.4 1164.2,185.9 1164,186.7 1164,189.7 1164.5,190.7 1169.2,194.7 1172.6,193.9 1173.5,191.9 1173.7,189.9 1174.7,186.3 1174.5,185.2 1173.1,183.4 1172.1,182.9 1171.5,183z"/><path fill="#aac7fd" d="M1107.7,163.1 1109.4,162.7 1110.7,161.4 1111,160.5 1110.6,158.6 1108.4,155.9 1105.9,154.1 1103.7,153.7 1102,154.2 1100.7,155.3 1100,157 1100,158.8 1100.6,160.7 1101.3,161.8 1102.8,162.8 1104.6,163.1z"/><path fill="#6180e9" d="M1120.6,202.8 1121.4,203.7 1123.1,203.8 1125.8,201.8 1126.8,200.5 1127.4,199 1127.2,197.5 1126.4,196.4 1125.4,195.8 1123.1,195.3 1121.4,195.6 1120.1,196.6 1119.6,198.1z"/><path fill="#e46e56" d="M1142,206.7 1144.4,205.2 1145,199.2 1142.2,195.6 1140.4,194.9 1139.2,195 1137.2,196 1135.7,197.5 1135,199.7 1135,200.5 1135.8,202.3 1138.3,206.3 1139.8,207.1z"/><path fill="#f2c9b4" d="M1146.1,192.9 1146,197.6 1146.9,198.4 1152.1,199.8 1153.1,199.1 1155.3,195.8 1155.3,194 1155.1,193.4 1153.7,192.5 1150.6,191.5 1146.8,191.7z"/><path fill="#dc5d4a" d="M1145.1,202.9 1145.3,203.8 1146.6,206.2 1148.2,207.2 1149.8,206.7 1152.6,204.1 1153.2,202.3 1152.6,200.7 1151.8,200.1 1146.4,198.8 1145.7,199.3 1145.4,200z"/><path fill="#f5c2aa" d="M1168,194.6 1167.6,193.8 1162.8,189.8 1160.4,189.8 1158.8,191 1158.5,191.9 1159,197.8 1159.4,199 1161,200.3 1163.2,200.1 1166.7,198.5 1168.1,196.5z"/><path fill="#dd5f4b" d="M1171.7,204.5 1173.3,204.2 1174.7,203.3 1175.4,201.7 1176,199.1 1175.9,197 1174.8,195.7 1173.8,195.3 1171.8,195.4 1170.1,196.4 1166.6,201.1 1166.7,202.6 1167.3,203.5 1168.6,204.1z"/><path fill="#f5c0a7" d="M1182.3,207.9 1184.3,208.4 1185.4,208.1 1187,206.8 1188.8,203.1 1189.5,200.3 1189.2,199 1188.6,198.2 1187.4,197.5 1181,196.6 1178.7,197.1 1177.3,198.1 1176.6,203.3 1177.6,204.5 1179.7,205.5z"/><path fill="#97b8ff" d="M1201.3,201 1202.3,201.2 1204.8,200.6 1205.8,199.7 1207.8,194.1 1207.5,193.3 1206,191.9 1203.7,191.4 1202.8,191.7 1201.7,192.5 1200.6,194.2 1198.3,195.6 1197.6,196.5 1197.5,197.4 1198.3,198.8z"/><path fill="#abc8fd" d="M1206.4,200.6 1208.8,201.8 1210.2,201.1 1211.5,200.1 1212.3,198.8 1212.5,197.9 1212.3,196.5 1210.7,195 1209.2,194.8 1208.1,195.2 1206.3,199.3z"/><path fill="#6180e9" d="M1201.2,206.4 1201.8,205.3 1201.4,202.4 1200.7,201.3 1199.8,201 1199,201.4 1198.1,202.5 1196.4,203.7 1196.2,205.4 1197,206.7 1198.1,207.5 1199.2,207.5z"/><path fill="#98b9ff" d="M1205.1,200.8 1202.2,201.7 1201.8,202.9 1202.1,205.1 1202.8,206.1 1206.4,207.3 1208,207.1 1209.4,206.4 1209.9,204.6 1209.1,203.1 1208,201.9 1206,200.9z"/><path fill="#4358cb" d="M1160.3,213.5 1161,213.8 1161.8,213.6 1162.4,213.1 1165.4,207 1165.4,205.7 1164.5,204.9 1161.5,204.1 1160.7,204.1 1159.6,204.9 1159.2,205.7 1158.7,210.5 1159.2,212z"/><path fill="#f08a6c" d="M1149.7,211.1 1147.7,209.3 1146.4,208.8 1145.1,208.8 1144,209.4 1143.4,210.1 1142.5,211.9 1142.3,213 1142.6,213.8 1143.6,214.6 1148.6,214.9 1149.4,214.4 1149.7,213.9 1150.1,212.5z"/><path fill="#f59d7e" d="M1153.7,216.7 1154.6,216.2 1155.1,215.4 1155.3,213.6 1154.1,211.4 1152.9,210.7 1151.7,211.7 1151.1,213.2 1151.1,214.4 1152.3,216.2z"/><path fill="#d75445" d="M1163.3,213.8 1163.4,214.7 1163.9,215.3 1168.6,218.4 1169.8,218.6 1171.6,217.9 1173,216.1 1173.3,214.4 1173.7,210.6 1173.4,206.9 1172.6,206.2 1168.9,205.3 1167.9,205.5 1166.5,206.2 1165.8,207 1164.2,210z"/><path fill="#d75445" d="M1175.2,209.5 1174.1,210.1 1174,213.7 1174.6,214.8 1176.3,214.8 1176.8,214.7 1177.4,213.9 1178,210.2 1177.2,209.4z"/><path fill="#d1493f" d="M1178.7,209.8 1177.6,215 1178.4,215.8 1180.6,216.3 1181.8,215.9 1183.1,213 1182.9,211.4 1182.4,210.3 1180.8,209.4z"/><path fill="#dfdbd9" d="M1195.6,219.4 1199.6,213.6 1199.8,212.7 1199.2,209.8 1196.5,208.7 1192.9,209.2 1187.6,209 1186.8,209.3 1184.2,211.4 1182.9,214.2 1182.4,217.5 1182.5,220.4 1183.3,222.3 1193.8,224.4 1194.3,224.1 1195.1,222.6z"/><path fill="#3b4cc0" d="M1203.6,222.3 1204.9,224.3 1205.6,224.5 1206.5,224.3 1207.3,223.5 1208.8,221.4 1209.4,219.9 1209.2,218.7 1208.5,217.9 1207,217 1205.9,216.9 1203.5,217.9 1202.6,218.8 1202.1,220 1202.3,220.9z"/><path fill="#f18d6f" d="M1152.7,223.6 1152.6,219.2 1151.1,218.4 1148.2,218.6 1145.6,219.3 1144.4,220.3 1143.7,221.8 1143.8,222.7 1144.5,224.1 1147.9,226.7 1149.2,227.3 1150.8,227.1 1151.5,226.4z"/><path fill="#d85646" d="M1154.4,219.9 1153.5,219.9 1153.1,220.7 1153.4,224.2 1154.4,224.7 1157.4,224.4 1157.8,223.3 1157.2,222.2 1155.8,220.8z"/><path fill="#e0654f" d="M1164,215.7 1162.7,215.5 1159.7,217.3 1158.6,218.5 1158.4,219.5 1158.9,221.3 1160.3,222.7 1164.8,224.3 1166.7,223.7 1167.5,223.1 1167.9,222.1 1167.9,220.5 1167.3,218.2 1166.7,217.5z"/><path fill="#abc8fd" d="M1159.2,225.5 1158.1,224.9 1156.5,225.5 1155.8,226.2 1154.8,229 1155,230.7 1155.7,232.2 1156.6,233.4 1158,234 1158.9,233.8 1160,232.6 1161.4,231.9 1162,230.7 1161.9,228.1 1160.4,227z"/><path fill="#a6c4fe" d="M1162.3,230.5 1163.9,233.9 1165.1,234.9 1166.4,234.9 1167.9,233.9 1168.6,232.9 1171.1,231.6 1171.4,231.1 1170.8,226.2 1169.4,225.1 1167.7,224.5 1166.2,224.6 1164.9,225.1 1163.3,226 1162.4,227z"/><path fill="#c43032" d="M1174.1,232.8 1176.1,233.4 1176.7,233.1 1177.3,232.1 1177.4,229.5 1177.8,228.2 1177.6,224.7 1176.9,224 1175.9,223.8 1174.7,224.1 1172,225.9 1171.4,227.3 1171.7,230.3 1172.1,231z"/><path fill="#a7c5fe" d="M1178.1,231.4 1178.3,232.2 1179,232.7 1179.8,232.7 1184,231.8 1184.8,231.3 1185.3,230.6 1185.2,229.7 1183,224.4 1182.4,224.1 1180.9,224.4 1179.5,225.4 1178.4,226.7 1178.1,227.6z"/><path fill="#cedaeb" d="M1185.4,223.2 1184,223.6 1183.8,225 1186.1,230.5 1187.6,230.7 1193.5,228.8 1194.2,226.3 1193.7,225z"/><path fill="#f7b89c" d="M1187.3,231.1 1186.3,232.3 1186.2,233.6 1187.3,234.7 1188.9,235 1191.2,234.9 1192.2,234.4 1193.4,233.4 1194.1,231.7 1193.9,230.6 1193.1,229.6z"/><path fill="#dcdddd" d="M1194.3,230.7 1194.8,231.6 1198.6,234.2 1202.6,234.4 1203.3,233.8 1204,232.7 1203.5,230.5 1201.7,228.1 1200.8,226.3 1199.8,225.6 1198,225.7 1195.1,227.1 1194.1,228.7z"/><path fill="#f4c5ad" d="M1167.1,234.9 1166.4,235.8 1166.3,237 1167.2,239.3 1167.8,239.9 1168.6,240 1175.4,239.4 1176.5,238.5 1176.3,237.1 1173.9,233.7 1172.3,232.8 1170.6,232.9z"/><path fill="#b40426" d="M1171.1,253.8 1171.9,253.5 1174,251.9 1175.7,249.3 1179.6,245.3 1179.8,241 1179.6,240.3 1178.9,239.6 1178,239.4 1170.8,240.2 1167.7,241.6 1165.5,243.5 1164.5,246.1 1164.9,248.1 1166.6,251.7 1168.1,253.4 1169.1,253.8z"/><path fill="#c32e31" d="M1166.4,260.4 1167.7,261.3 1169.2,261.7 1171.5,261.6 1172.6,261.2 1173.5,260.3 1174,258.9 1174,257 1173.5,256 1172.4,255.2 1171.7,255.1 1170.3,255.5 1166.7,258.1 1166.1,259.6z"/><path fill="#f18f71" d="M1182.7,242.7 1183.9,243 1185.7,241.8 1185.9,240.6 1185.3,239.6 1183.9,239.4 1182.7,240.1 1182.4,242z"/><path fill="#f6bea4" d="M1188.5,240.5 1181.5,245 1181.3,245.7 1181.6,246.4 1182.2,246.9 1189.1,250 1189.8,250.1 1191.6,249.2 1192.5,247.8 1192.6,246.6 1190.5,241.2 1190,240.6 1189.3,240.3z"/><path fill="#a5c3fe" d="M1206.1,244.4 1205.2,241.1 1204.2,238.6 1203.2,236.4 1202,235.1 1201.1,234.7 1195.4,234.2 1194.4,234.5 1192.2,236.6 1191,241 1191.1,241.8 1193.6,248 1194.6,248.4 1197.6,247.8 1203.1,248.3 1205.3,247z"/><path fill="#d6dce4" d="M1175.7,256.9 1176.3,258.1 1180.8,260.8 1181.7,261 1186.7,260.2 1188.5,259.2 1189.1,258.6 1190,256.3 1190.1,255.5 1189.1,250.5 1182.9,247.6 1182.1,247.5 1179.1,249.4 1176.8,251.6 1175.8,254z"/><path fill="#3d50c3" d="M1202.3,253.3 1202.7,254.5 1208,259.8 1208.4,260.1 1209.9,260.1 1212,259 1213.3,257.3 1216.4,254.9 1217.4,253.2 1217.6,252.5 1216.6,250.8 1215.7,250.3 1213.3,249.9 1210.5,250.2 1206.4,249.8 1204.2,250.3 1203.5,250.7 1202.7,251.7z"/><path fill="#c0282f" d="M1202.3,266.5 1204.1,266.6 1206.1,266.1 1206.9,265.5 1207.9,263.4 1207.5,260 1207.1,259.3 1203,255.5 1201.6,255.8 1197.9,259.1 1197.1,260.4 1199,266.6 1200.2,267z"/><path fill="#e2dad5" d="M1175.7,269.4 1178.3,269.3 1180.2,267.8 1181,262.2 1180.8,261.4 1179.3,260.3 1176.9,260.3 1173.6,261.4 1172,262.6 1170.9,264.2 1170.6,265.7 1171.3,267.3 1172.9,268.3z"/><path fill="#f5a081" d="M1182.1,262.5 1181.4,262.9 1181.1,263.7 1180.8,267.1 1181.3,268.3 1185.8,270.2 1187,270.3 1188.9,269.2 1189.7,267.9 1189.8,267.1 1188.6,262.1 1188.1,261.7 1186.8,261.5z"/><path fill="#f39778" d="M1190.3,268.1 1191.2,269.2 1192.7,269.4 1194.3,268.8 1197.5,266.1 1197.9,265.4 1197.9,264.6 1196.4,260.1 1195.8,259.7 1193.4,259.9 1191.5,259.6 1190,260 1189.6,260.4 1189,262z"/><path fill="#f29072" d="M1199.3,286.9 1200,288 1201.4,289 1203.3,288.9 1205.3,288.1 1207.7,285.8 1208.1,285.1 1208,284.3 1207.1,283 1206.3,282.7 1200.9,282 1199.6,282.9z"/><path fill="#ee8669" d="M1195.9,295.5 1197.1,295.9 1200.9,295.2 1202.1,292.5 1202.2,290 1199.4,288.2 1198.3,288.7 1197.3,290.2 1195.3,292.1 1194.9,292.8 1195,294.4z"/><path fill="#f59d7e" d="M1201.1,295.6 1197,296.4 1196.4,297.5 1196.6,298.8 1197.3,300.3 1199.3,302.1 1200.5,302.4 1201.6,302 1202.3,301 1203,298.9 1203,297.6 1202.5,296.4 1201.7,295.7z"/><path fill="#a5c3fe" d="M1203.6,290.4 1204.1,294.7 1204.7,295.2 1209.5,296.3 1211.6,296.4 1213.6,295.5 1214.2,294.7 1214.8,293 1214.9,288.4 1214.7,287.5 1213.7,286.4 1211.7,286.1 1205.6,288.5z"/><path fill="#f6a283" d="M1174.4,300 1174.5,302.7 1174.9,303.5 1176.3,304.9 1177.1,305.3 1179.4,305.6 1184.8,304.4 1187.2,303.2 1187.8,302.5 1188.5,300.7 1188.5,299.8 1187.7,297.3 1186.5,295.4 1184.2,290.6 1182.4,289 1179.4,288.3 1178.5,288.5 1176.5,289.6 1174.9,292.4 1174.9,297.8z"/><path fill="#f49a7b" d="M1225.7,317.6 1226.1,318.5 1228.2,320 1228.7,320.2 1229.6,319.9 1229.8,318.9 1228.7,316 1228.1,315.7 1226.8,316.3 1225.8,317.1z"/><path fill="#6687ed" d="M898.3,152 898.9,152.5 899.7,152.5 904.1,151.5 905.9,148.9 906.4,147.5 906.4,146.6 905.7,145.2 904.5,144.4 901.9,143.4 900.4,143.6 899.7,144.1 898.8,145.3 897.5,149.1 897.5,150.7z"/><path fill="#ee8669" d="M900.4,159.6 901.7,160.3 906.1,160.3 906.9,160.1 907.4,159.4 908,157.2 907.5,154.2 906.3,151.9 905.1,151.7 898.7,153.3 898.3,154.2 898.3,155z"/><path fill="#f29072" d="M900.9,160.6 899.8,161.2 899.1,163.7 899.5,165.2 900.4,166.2 900.8,166.5 902.5,166.7 906.4,166.3 907.4,165.7 908,163.9 907.8,162.6 906.8,160.9 906,160.6z"/><path fill="#6485ec" d="M915,159.6 914.4,158 912.9,156.1 911.1,155.3 910,155.7 908.3,157.8 907.7,160.2 908.8,161.1 912.6,162.3 914.1,161.6 914.7,160.7z"/><path fill="#cdd9ec" d="M886.9,169.9 888.3,170.6 890.7,170.2 892.5,168.9 894.6,165.2 894.7,164.4 894.5,163.7 892.8,162.7 890.1,160.4 888.3,160.3 887.2,160.9 885.7,162.5 884.6,164.5 884.5,165.7 885,167.5z"/><path fill="#f39577" d="M897.4,164 896.7,163.7 895.9,163.8 895.3,164.4 893.2,168.2 893,170.2 893.4,172.1 894.3,173.2 897.4,174.8 898.3,174.9 899.4,174.5 900.3,173.2 900.4,170.7 899,166z"/><path fill="#445acc" d="M919.5,161.7 921.1,162.9 923.1,163.1 925,162.3 925.5,161.7 926.5,158.6 927.5,157.3 927.8,156.3 927.7,153.7 926.9,152.5 921.7,152.8 920.2,153.5 919.6,154.2 919.1,155.7 918.8,158.7 918.8,160.1z"/><path fill="#f4987a" d="M932.3,153.7 928.7,154.3 928.1,155.4 928.2,158.1 928.6,158.9 930.9,160 933.8,159.5 934.2,158.3 934.1,156.2 933.4,154.1z"/><path fill="#f49a7b" d="M939.4,156.6 939.4,154.5 938.8,153.5 936.9,152.1 935.8,151.9 935.1,152.4 934.5,153.6 934.9,155.7 934.6,157.2 935,158 936.1,158.2 938.7,157.2z"/><path fill="#c43032" d="M933.1,160.2 929.7,160.4 929.1,160.7 928.9,161.2 929,162.1 929.4,162.9 931.9,164.6 932.7,164.7 933.7,163.8 934.1,161.5 933.9,160.7z"/><path fill="#d9dce1" d="M935,162.2 934.9,164.7 935.5,165.3 936.3,165.4 942.6,164.8 943.6,164.3 943.9,163.5 944,161.6 941.6,157.2 940.3,157 937,158.2 936.2,158.9z"/><path fill="#dadce0" d="M955.5,164.5 955.6,162.2 954.1,159.7 950,156.9 948.5,156.5 947.3,157.1 946.4,158.6 946.2,162.7 945.7,165.1 946.1,166.3 952.1,168 954.4,166.3z"/><path fill="#f59f80" d="M924.2,168.5 922.9,165.7 921.5,164.1 919.2,163 916.4,163.1 913.6,164.5 911.7,166 910.1,168.2 909.3,170.8 910.1,176.1 911.1,178.5 911.8,179.3 913.3,179.2 922.9,173.2 924.1,171.4z"/><path fill="#e26952" d="M935,168.8 933.1,167.4 931,166.6 928.4,166.7 927.1,167.5 925,169.5 924.5,171.6 926,173.8 929.8,175.6 930.9,176.5 932.2,176.8 934.2,176.2 935.2,175.2 936.2,171.4 936.1,170.4z"/><path fill="#f3c7b1" d="M936.7,165.7 936,166 935.5,166.6 935.5,167.4 935.9,169.3 936.8,170.4 937.6,170.6 942.8,169.9 943.9,169.2 943.9,167.9 943,165.8 942.5,165.3z"/><path fill="#dfdbd9" d="M951.4,168.2 945.9,166.8 945,167.3 944.3,169.3 944.5,170.4 945.7,171.8 951.3,170.9 952.3,170 952,168.6z"/><path fill="#f6a283" d="M935.6,175.8 938.1,179.2 939.5,179.3 945.1,176.3 945.6,174.9 945.4,172.8 945,171.7 943.9,170.3 937.6,170.9 936.8,171.2 935.6,174.9z"/><path fill="#f39778" d="M945.9,174.1 946.2,176 947.9,177.3 948.7,177.6 951.6,176.2 952.9,172.5 951.9,171.3 947.1,172 946.4,172.4z"/><path fill="#97b8ff" d="M953.1,173.2 952.7,177.4 953.2,178.1 957.3,181.4 958.5,181.6 959.3,181.2 960.4,179.5 960.6,174.4 960.2,172.5 959.2,171.3 957.7,170.4 956.5,170.1 954.5,170.7 953.8,171.3z"/><path fill="#d65244" d="M921.5,179.3 921.5,180.3 922.7,182.3 923.9,182.7 925.1,182.5 926.2,181.7 926.9,180.6 927.5,177 926.1,175.5 923.5,176 922.6,176.7z"/><path fill="#f18d6f" d="M917.7,176.8 917.2,177.5 917.6,178.8 918.5,179.6 920.1,180 921.1,179.4 922.7,175.4 922.5,175 921.6,174.5z"/><path fill="#4b64d5" d="M933.3,183.3 935,182.3 936.8,179.8 936.7,178.6 934.9,176.5 934.2,176.5 931.8,177.4 929.7,181.1 929.8,182.1 930.4,182.7 932.1,183.3z"/><path fill="#f7bca1" d="M940.8,179 940.1,179.8 938.9,182.9 939.1,185.2 939.6,186 941.5,187.2 943.2,187.4 945.1,187.3 946.5,186.7 947.7,185.3 948.5,182.7 948.5,178.3 945.9,176.6z"/><path fill="#9dbdff" d="M951.1,177.6 949.8,177.9 949.2,178.4 949,179.2 949,184.4 949.2,185.2 949.8,185.7 952,185.6 956,183.7 956.9,182.9 957.1,182.3 956.5,181.2 952.6,178z"/><path fill="#4055c8" d="M882.1,183.8 885.1,185 888.3,183.9 888.6,183.3 888.6,181.1 889.1,179.4 888.8,178.3 888,177.7 886.1,177.6 883.5,178.2 882.2,179 881.4,180.3 881.1,181.5 881.2,182.7z"/><path fill="#f7b497" d="M886.8,184.9 883.7,187.4 883,188.4 882.7,190.4 883.5,192.2 884.8,193.5 886.4,194.3 887.5,194.5 889.6,193.9 890.4,192.9 892,187.7 892,186.3 891.6,184.8 890.6,183.8z"/><path fill="#3c4ec2" d="M896.5,198.1 897.8,198.4 899.2,197.9 900.9,196.6 902.6,192.6 902.9,190.3 902.7,188 901.2,186 900.5,185.5 898.1,185.1 896.1,185.5 893.1,186.6 892.4,187.5 890.8,192.7 890.8,193.6 891.3,194.3z"/><path fill="#6e90f2" d="M910.6,194.4 911.8,195 913.4,194.5 915.4,192 915.3,191.2 913.3,187.6 910.5,187.2 909.3,187.5 908.6,188.2 908.3,189.5 908.4,191.2z"/><path fill="#d1dae9" d="M918.6,192.2 919.7,191.8 920.9,190.3 921.4,189.3 921.4,187.9 920.5,186.5 918.2,184.7 917.1,184.1 915.7,184 914.9,184.5 914.3,185.5 913.8,186.6 913.9,187.7 916.1,191.7z"/><path fill="#dbdcde" d="M909.2,197.9 910.3,196.3 910.5,195.1 908.1,191.5 906.8,190.9 903.5,192 902.9,192.7 901.7,196.6 902.7,199.1 904.2,199.9 905.7,199.8 908.2,198.8z"/><path fill="#f5a081" d="M913.6,194.7 913.4,195.8 913.8,196.2 917.9,196.8 918.4,196.7 919.2,195.6 919.5,193.7 918.9,192.7 916,192.3z"/><path fill="#7396f5" d="M887.1,201 886.9,195.1 886.3,194.6 884.3,193.9 883.3,194.2 880.8,196 879.7,197.2 879.2,198.6 879.2,200.4 879.9,202.3 881.4,203.3 882.3,203.3 885.5,202.5 886.8,201.8z"/><path fill="#a6c4fe" d="M887.7,196.4 887.4,197.3 887.4,200.3 887.6,201.1 888.2,201.6 894.3,201.1 895.3,200.5 895.7,198.2 895.2,197.6 891.1,194.5 889.8,194.3z"/><path fill="#96b7ff" d="M929.2,203.9 930.1,204.1 932.8,203.5 937.3,199.8 937.9,199.2 938,198.4 937.1,192.1 936.7,191.7 935.2,191.5 933.7,189.8 931.4,188.2 928.7,188.5 927.9,188.9 926.1,190.9 924.8,193.8 924.2,196.4 924.5,198.8 925.8,200.9 927.3,202.6z"/><path fill="#485fd1" d="M938.1,196.8 938.6,197.6 940.2,197.6 942.5,194 942.5,192.9 942.1,192.6 940.9,192.5 938.1,193.5 937.9,194.4z"/><path fill="#6384eb" d="M942.4,194.8 940.1,198.9 940.8,200.1 944.1,200.6 948,199.3 948.5,197.7 948.1,196.3 947.2,195.4 943.8,194.2 943,194.3z"/><path fill="#f7b497" d="M914.2,196.7 913.1,197.1 910.1,200.4 909.1,202.6 909.4,204.8 909.9,205.6 911.8,206.8 917.1,207.9 918,207.8 919.5,205.8 921.5,201.6 921.7,199.5 921.4,198.6 920.5,197.6 919.9,197.4z"/><path fill="#f7bca1" d="M942.7,201.4 941.9,201.8 941.6,203.4 942.1,206 943,207.1 948.3,206.4 949.3,205.7 950,201.6 949.8,200.6 948.9,199.8 948.1,199.8z"/><path fill="#a2c1ff" d="M886.7,202.9 886.3,203.8 886.5,210.2 887.9,212.7 889.7,213.2 890.5,213.1 897.4,209.9 898.7,204.8 897.4,203.1 896,201.7 894.9,201.4 887.8,202.1z"/><path fill="#f39475" d="M898.1,209 898.3,210.2 898.8,210.6 904.3,213.6 905.6,213.7 906.7,212.6 907,211.8 906.7,208.8 906.9,205.6 906.4,204.6 905.3,203.7 904.7,203.7 903,204.1 901.6,205 899.7,205.4 898.8,206.4z"/><path fill="#7396f5" d="M917.2,213.8 918,213 918.1,211.6 916.2,208.2 912.3,207.4 910.4,208.7 909.9,210.1 909.9,211.5 910.4,213 911.5,214.3 913,214.7z"/><path fill="#f3c7b1" d="M945.1,207.2 944.1,208 943.7,211.4 943.9,212.1 945.3,213.5 946.7,213.7 948,213.2 949.8,211.6 950.2,210.7 949.9,207.5 949.6,207 948.4,206.7z"/><path fill="#dfdbd9" d="M922,215.8 926.6,218.8 927.4,218.6 930.2,216.9 931.1,211.6 930.8,209.9 930.5,209.4 929.2,208.7 927,208.8 923.9,207.8 921.8,208.1 920.9,208.9 920.4,210.4 920.8,213.4z"/><path fill="#e2dad5" d="M931.1,216.5 931.5,217.8 934.1,220.4 934.9,220.8 936.3,220.3 938.5,218.4 939.4,216.5 939.5,213.6 938.7,211.4 937.8,210.7 935.8,211 932.2,213.9 931.5,214.9z"/><path fill="#6f92f3" d="M950.3,211.5 949,213 949.1,214.3 949.9,215.9 950.9,217.1 952,217.2 954.1,216 954.5,213.4 954.2,212.5 951.1,211.2z"/><path fill="#a3c2fe" d="M956.2,211.5 955.1,212.1 954.7,215 955.1,216.1 955.6,216.5 961.5,218.2 963.9,216 964.3,215.2 964.2,213.8 962.8,212.5 957.8,211.4z"/><path fill="#97b8ff" d="M889.1,217.4 889.5,218.6 898.5,226.4 903,224.7 905.4,222.3 906.4,217.5 906,216.3 903.2,213.4 897.6,210.5 890.5,213.4 889.4,214.8z"/><path fill="#6687ed" d="M889.4,218.9 887.5,218.4 884.4,219.5 882.2,221.6 880.8,224.5 880.4,227.3 881,230.1 882.4,233 884.6,235.6 886,236.4 887,236.5 893,235.1 894.3,233.8 895.6,231.4 898.1,229.8 899,228.6 899,227.8 898.6,227.2z"/><path fill="#6384eb" d="M913.1,226.7 913.9,226.5 914.5,226 917.3,221.4 916.7,217.5 916,216.5 915.4,216.3 909.7,216.1 908.5,216.7 907.1,218.3 906.9,220.5 907.3,222.8 907.8,223.6 910.7,226.2z"/><path fill="#f59f80" d="M920.9,215.3 919.6,215.1 919.1,215.5 917.4,219.8 918.1,222.3 920.8,223.1 924.8,220.3 925.3,219.2 924.7,218.1z"/><path fill="#a1c0ff" d="M927.9,219.1 927.2,220.1 927.3,220.7 930.8,223.2 931.3,223.4 932.7,223 934.1,221.7 933.8,220.5 930.9,217.9z"/><path fill="#94b6ff" d="M933.6,226.2 933,225 926.4,220.6 925.6,220.4 924.8,220.7 920.9,223.8 920,226.8 920.1,229.3 921.2,231.7 923.2,233.4 926.5,233.7 930.6,232.1 932.3,230.7 933.5,228.5z"/><path fill="#c73635" d="M944.2,222.4 943.8,219.4 943.2,218.4 942.5,218 941.4,218.1 939.2,219.3 938.4,220.5 938.4,221.3 939.4,222.9 940.1,223.7 941.2,224.2 943.2,223.9 943.9,223.3z"/><path fill="#c73635" d="M907.8,224 906.5,223.8 904.3,224.4 902.9,225.7 902.5,226.7 902.5,227.6 903.3,229.2 905.8,230.9 908.1,231 908.9,230.7 910.4,227.5 910.5,226.7 910.1,226z"/><path fill="#485fd1" d="M911.6,226.8 910.9,227.2 909.9,229.7 909.9,230.9 910.5,231.4 911.3,231.3 912.2,230.5 912.9,229.1 912.8,227.4 912.4,227z"/><path fill="#d3dbe7" d="M952.1,228 956.4,231 957.1,230.9 960.2,229.4 961,228.6 961.4,227.1 961.8,219.9 961.4,218.9 960.8,218.5 954.4,216.5 951.4,217.9 950.7,218.6 950.1,220.2 949.7,223 950.4,226z"/><path fill="#3e51c5" d="M962.3,228.9 963.3,230 964.9,230.6 965.8,230.6 969.3,227.9 969.7,226.7 969.4,225.2 967.7,222.9 966.7,222.1 965.3,221.8 964.4,222 963.3,223 962.2,226.4z"/><path fill="#c53334" d="M936.9,232 939.7,233.6 941.5,233.3 941.9,232.7 942.9,229.2 942.7,228.3 942.4,228 941.3,227.9 940,228.4 938.1,228.5 937.1,229 936.4,230 936.4,231.1z"/><path fill="#4257c9" d="M933.6,238 934.8,236.7 935.8,234.9 936,234.1 935.3,233.2 933.3,231.9 932.5,231.7 931.6,232.1 930.8,232.9 930.1,234.1 929.9,235.4 930.3,236.4 931.6,237.7 932.8,238.3z"/><path fill="#96b7ff" d="M934.1,239.7 934.5,240.8 935.7,241.6 940.5,242.8 942.6,242.4 943.2,241.5 943.3,240.6 942.6,235.7 942.1,235 940.5,234.2 938.1,233.9 936.8,234.2 934.2,238.5z"/><path fill="#f6a385" d="M966.9,238.9 967.6,236.6 967.3,234.9 965.2,231.3 961.9,229.8 960.7,229.9 960,230.5 956.4,235.2 956.6,237.2 957.4,238.3 960.3,240.9 961.9,241.8 962.8,242 964.7,241.5z"/><path fill="#a5c3fe" d="M908,238.7 908.8,238.2 910.6,236.1 910.9,235.2 910.2,232.1 909.7,231.5 908.9,231.3 906.3,231.5 903.4,233.2 902.5,234.6 902.6,235.9 904.1,237.9 905.6,238.7z"/><path fill="#a9c6fd" d="M911.3,235.6 908.8,239 909.2,240.3 910.9,242.2 911.8,242.7 912.8,242.4 915,239.9 914.2,236.9 913.8,236 912.8,235.3 912.3,235.2z"/><path fill="#f18d6f" d="M920.5,243.4 921.7,243.9 923.5,243.1 924.7,239.6 924.7,238.9 923.2,236.1 922.2,235.3 920.9,235 919.7,235.3 919,235.8 918.3,237.3 919,241z"/><path fill="#dedcdb" d="M926.1,237.6 925.3,238.5 923.9,243.8 924.5,244.9 926.1,246.3 927.9,247 929.6,246.7 931.9,244.6 933.3,244.1 934.1,243.3 934.4,242 933.8,240.1 932.7,238.9 928.9,237.4 927.3,237.3z"/><path fill="#dddcdc" d="M917,239.9 916.1,239.8 915.4,240.1 913.2,242.7 915.2,247.6 916.4,248.7 917.5,249 918.4,248.7 919.1,247.5 920,243.5 918,240.6z"/><path fill="#4a63d3" d="M889,247.8 889.8,248.2 892.4,248.1 896.3,246.8 897.2,246.1 898.7,242.6 898.8,241.6 896.7,236.5 895.4,236.2 891.9,237.4 889,237.1 886.3,237.4 885.3,237.9 884.4,239.1 884.1,240.4 884.9,242.5 887.2,246.3z"/><path fill="#3c4ec2" d="M898.2,236.7 897.7,237.6 897.8,238.1 899.2,241.3 900.5,241.4 902.6,239.9 902.5,237.1 901.8,235.6 901,235.3 900.1,235.4z"/><path fill="#3f53c6" d="M975.7,197.5 973.3,195.9 971.9,195.6 970.5,196.5 969.8,198.7 970.6,199.8 972.1,200 975.5,198.7 975.9,198z"/><path fill="#5e7de7" d="M976.3,199 975.4,199.3 974.6,200 974.2,201.6 974.9,204.6 975.4,205.2 976.4,205.5 977.6,205 978.8,203.8 980.2,201.5 979.3,200.3z"/><path fill="#3b4cc0" d="M977.9,207.2 978.9,208 980.2,208.1 982.5,207.5 983.4,206.5 984.3,204.8 984.5,203.7 984,202.8 982.4,202.2 980.8,202.7 978.1,205.5 977.7,206.3z"/><path fill="#de614d" d="M896.9,247.5 896.8,248.6 897.4,250.1 899,252.9 901,254.5 904,255.1 905.1,254.7 911.5,248.2 911.9,246.6 911,242.9 908.1,240 905.7,239.2 904.7,239.3 899.5,242.3 898.9,242.9z"/><path fill="#ee8669" d="M906.4,253.8 906,255 907.7,257.9 908.8,259 909.6,259.4 910.5,259.2 912.9,257.7 915.5,253.4 916,251.4 915.3,249.3 913.8,248 912.6,247.8z"/><path fill="#f29274" d="M917.9,256.4 918.8,257.1 920.2,257.1 924.9,254.5 926.1,252.7 926.1,251.4 925.5,250.1 924.4,249.2 923,249 921.7,249.3 919.1,250.7 918.1,251.8 917.6,253 917.4,255.3z"/><path fill="#4257c9" d="M894.4,263.4 896,262.3 896.9,260.5 896.6,259.1 895,257.6 888,255.9 885.6,256.4 884.3,257.8 883.5,260.9 883.9,263.3 886.4,266.5 888.4,267.9 890.7,268.4 891.8,268 892.8,267.1 893.5,264.6z"/><path fill="#f29072" d="M919.3,264.3 919.6,260.7 919.1,258.9 917.9,257.7 916.5,257.1 914.1,257.3 911.6,258.8 910.7,260 910.6,260.9 911.2,262.7 912.4,263.7 914.8,265 918.4,265.4z"/><path fill="#b40426" d="M909.5,273.6 910.1,272.5 910.7,267.3 910.6,265.2 909.9,263.7 908.8,262.2 906.8,261.4 905.5,262.2 905,262.9 904.1,266.4 902.9,268 902.6,269.3 903,270 907,273.9 908.1,274.3z"/><path fill="#f08a6c" d="M912.1,265.9 911.6,266.9 911.9,269.4 912.5,270.7 913.7,271.8 914.5,271.8 915.2,271.4 917.9,268.3 918.1,266.4 917.1,265.7 913.6,265.2z"/><path fill="#f29072" d="M905.9,273.6 901.4,268.8 900.6,268.4 898.6,269 896.9,270.9 895.5,275.9 895.4,277.4 895.7,278.4 896.6,279.1 899.4,279.7 905.6,278.5 906.8,277.4 906.9,276.8 906.8,275.1z"/><path fill="#e16751" d="M927.6,279.4 926.1,275.2 926.4,273.2 925.8,270.8 925.5,270.2 924.1,269.4 922.8,269.5 921.5,270.2 920,271.6 918.4,272.5 917.3,274.1 917.2,275.9 917.8,277.7 918.7,279.7 919.9,281 926.7,281.4 927.3,280.9z"/><path fill="#92b4fe" d="M908.5,280 912.9,282.2 914.6,282.4 916.5,281.8 917.4,280.7 917.6,279.8 917.2,277.7 915.5,274.1 914.6,273.3 913.4,273.1 911.4,273.9 908.8,276.3 908,277.7 908,279.1z"/><path fill="#f59c7d" d="M933.7,273.2 930.3,271.6 928.4,271.8 927.9,273 928.1,275.2 928.8,277.1 929.8,278.2 932.4,279.3 933.5,279.4 934.3,279.2 935.3,278.3 935.8,276.6z"/><path fill="#98b9ff" d="M938.1,267.5 937,266.8 935.5,267.3 934.1,268.7 933.2,270.7 933.4,272.2 935.6,275.5 936.6,276.1 940.3,275.4 941.8,273.9 941.6,272.7z"/><path fill="#9abbff" d="M939.1,266.3 938.7,266.8 938.9,268 941.4,271.8 942,272.3 943.5,272.2 945.3,271 946,270 946.4,268.8 946.4,267.3 945.8,265.9 944.7,264.8 942.5,264.6z"/><path fill="#f18d6f" d="M905.4,285.1 904.8,282.9 902.8,281.2 900.2,280.3 897.7,280.1 896.2,280.5 894.5,281.9 892.1,285.1 891.3,287.4 892,289.5 893.4,290.6 896.1,291.3 898.4,291.2 900.8,290.4 903.6,288.3 904.8,286.9z"/><path fill="#f6bda2" d="M885.6,291.3 886.8,290.8 887.1,289.9 886.5,286.4 885.4,284.9 884.5,284.3 883.5,284.3 882.6,285.2 882.4,287.6 881.9,289.4 882.2,290.1 883,290.7z"/><path fill="#7396f5" d="M911.1,292.9 911.3,289.4 910.6,288.5 909.7,288.2 907.7,288.2 906.2,288.8 905.9,290.1 906.2,292 906.4,292.9 907.2,293.7 908.6,294 910.4,293.6z"/><path fill="#e1dad6" d="M914.6,294.8 915.2,295.4 923.9,300.1 924.8,300.3 925.6,299.9 927.6,297.7 928.8,294.2 928.9,290.9 927.7,282.5 926.7,281.9 919.1,281.4 917.9,281.9 914.7,285.8 913.2,288.7 913.3,292.1z"/><path fill="#f39778" d="M935.5,279 935.3,280.3 936.2,282.4 936.8,286.1 937.5,287.1 941.4,289.2 943.1,289.1 945.1,288.6 946.2,287.8 946.7,286.5 945.5,279 944.9,278.1 942.4,276.2 941.2,275.7 937,277.2z"/><path fill="#f6bea4" d="M959.7,280.7 955.5,276.5 953.8,273.9 951.9,272.4 951.1,272.1 948.4,272.1 946.1,273.3 945.2,274.6 946.8,284.5 947.6,285.8 949.9,287.7 952.3,288.2 955.5,287.7 960.3,284.8 960.9,283.7z"/><path fill="#9bbcff" d="M937.4,287.4 935.5,287.1 934.1,287.5 933.1,288.5 932.6,290.9 932.9,292 933.4,292.5 937.2,294.2 937.9,294 939.7,292 940.6,290.1 940,288.9z"/><path fill="#6384eb" d="M933,292.6 932,292.6 931.5,293.4 932.2,294.9 932.1,296.3 932.6,297.1 934.3,297.3 936.7,296 937.1,295.1 936.9,294.7z"/><path fill="#f39475" d="M966.4,257.3 965,257.8 964.4,258.5 964.3,259.4 964.5,260 968.2,264.7 968.9,265.1 969.8,265.1 971.9,264.3 972.3,263 971.3,258.4 969.3,257.6z"/><path fill="#f59c7d" d="M971.8,258.5 972.9,263.7 976.1,265.2 977.2,264.7 977.7,263.5 977.7,260.4 977.4,258.9 976.3,257.2 974.3,256.1 973.1,256.2 971.9,257.7z"/><path fill="#f5c0a7" d="M962.5,261.1 959.9,264.2 960.3,265.5 963.2,268.1 967.1,267.8 967.9,267.5 968.3,266.8 968.5,265.7 968.2,265.1 964.5,260.7 963.8,260.5z"/><path fill="#d65244" d="M961.3,266.9 959.1,266 957.9,266.2 957,267.3 956.8,268.8 957,270.1 957.7,271.1 960.2,272.4 961.2,271.7 962.6,268.5z"/><path fill="#d6dce4" d="M961.3,272.2 961.2,273 961.5,273.8 964.3,277.2 966.5,278.2 967.8,277.7 968.5,276.9 969.2,273.6 970.3,271.3 970.4,270.5 970,269.8 968.1,268.1 963.9,268.5 962.8,269.3z"/><path fill="#f39778" d="M968.6,267.7 970.2,269.6 971.2,269.8 973.4,267.9 973.9,267 973.9,266.3 973,265 971.9,264.7 969,265.8 968.6,266.9z"/><path fill="#f5c0a7" d="M956.8,296.4 958.4,297.6 959.8,297.7 962.9,296.7 964.4,295.3 964.8,294.5 964.9,292.4 962.4,288.2 960.9,287.7 959.7,287.9 956.5,288.9 954.7,290 953.9,292 954.1,293z"/><path fill="#3e51c5" d="M977.3,292.2 978.3,292.6 978.8,292.5 981.2,290.8 982.1,288.4 981.7,287.2 981.2,286.7 977.7,285.7 976.5,286.1 975.6,287 975.2,288.6 975.4,289.8z"/><path fill="#e36c55" d="M985.3,296.8 985.5,296.3 985.2,295.2 983.1,291.1 981.8,291 978.5,293.1 978.3,294.1 978.9,296.2 980.4,297.5 981.6,297.7 983.8,297.5z"/><path fill="#6687ed" d="M904.9,310.9 906.9,312 909.2,312.3 911.5,311.6 912.5,310.5 913.3,306.2 912.3,301.4 910.3,297.8 909,296.9 906.4,297.2 904.3,298.6 902.8,300.5 902,302.8 902,305.2 902.5,307.4 903.4,309.2z"/><path fill="#4a63d3" d="M913.2,308.2 913.7,309.5 914.8,310.2 917,310.6 918.1,310.4 919,309.3 919.6,304.6 919.1,304 918.3,303.8 914.6,304 913.9,304.9z"/><path fill="#465ecf" d="M919.5,308.3 919.9,309.3 921.9,309.7 922.8,309.5 923.2,308.6 922.6,305.1 921.3,304.5 920.2,304.8z"/><path fill="#ee8669" d="M923.6,303.1 923.1,303.6 923,304.4 923.6,309.7 924.2,311.1 924.8,311.7 927.9,312.9 931.9,310.6 934.1,309 934.3,308.1 934.2,307.4 930.6,301.1 930,300.6 928.6,300.6z"/><path fill="#6b8df0" d="M932.4,298.6 930.9,300.5 931.1,301.4 934.6,307.6 935.7,308.3 937.2,308 938.5,306.3 938.7,303.5 938,301.7 936.4,299 935.1,298.3 933.3,298.3z"/><path fill="#abc8fd" d="M921.5,299.3 914.2,295.4 913.1,295.9 911.7,298.6 911.8,299.8 913.7,302.8 914.9,303.5 919,303.5 919.9,303.2 920.9,302.3 921.5,301.2 921.7,300.5z"/><path fill="#3b4cc0" d="M886.2,314.1 886.7,309.8 886.3,308.8 885.4,308.3 884.6,308.4 882.5,309.3 880.3,309.4 879.4,310.3 879.3,311.1 879.9,312.9 881,314.2 882.1,314.6 885.3,314.8z"/><path fill="#d8dce2" d="M896.9,319.3 901.8,320.2 902.8,320.1 904,318.9 904.6,317.1 904.2,314.1 902.8,309.5 901.6,307.7 899.5,306.5 897.4,306.3 895.2,306.9 893.3,308.3 892.1,310.5 891.8,313 892.4,315.4 893.7,317.4z"/><path fill="#a1c0ff" d="M928.2,323.9 928.8,319.9 927.9,314.2 927.1,313.1 924,311.7 921.7,311.7 918.4,312.7 916.4,314.5 916.1,315.3 915.8,317.5 916.5,323.1 917.1,325.6 918.9,327.7 919.8,328.1 921.8,328.3 924.5,327.5 926.6,326.1z"/><path fill="#e1dad6" d="M938.5,322.2 939.8,317.8 939.6,315.3 938.3,313.2 937.7,312.7 935.8,312 932.3,311.5 929,313 928.4,313.6 928.2,314.5 928.8,318.3 929.6,319.7 931.2,323.8 932.9,325.6 933.8,326 934.9,325.8 937.5,324z"/><path fill="#d3dbe7" d="M896.9,319.7 892.9,321.3 891.8,322.6 892.2,324.3 894,326.1 895.6,327 897.2,327 898.3,326.4 900.5,324.8 901.1,323.4 901,322.2 899.7,320.4z"/><path fill="#f59d7e" d="M943.3,332.9 945.1,326.9 944.2,325.9 943,325.5 941.2,324.2 940,323.8 939,323.9 937.5,325 936.9,326.1 936.4,328 936.3,329.8 937,331.3 939.4,333.3 941.1,333.9 942.3,333.8z"/><path fill="#b40426" d="M944.5,335.3 945.5,335.7 946.9,335.4 950.6,332 951.2,330.3 951,328.8 950,326.5 949.1,325.7 948.5,325.5 947.1,325.8 945.5,327.5 943.5,333.3 943.7,334.6z"/><path fill="#f7bca1" d="M983.7,339.8 984.8,339.4 988.4,336.6 989.3,334 989.2,333.1 988.3,331 985.9,326.7 984.3,325.2 983.1,324.9 981,325.7 979.4,327.6 976.7,331.3 975.9,334.4 976.2,336.9 977.1,338.9 977.9,339.2z"/><path fill="#f7b79b" d="M980.1,346.9 983.1,346.4 984.2,345.5 986,342 986,341.2 985.6,340.5 984.8,340.2 979.1,339.6 978,340.1 977,343.6 977,345.1 978.1,346.5z"/><path fill="#3b4cc0" d="M988.5,343.1 989.4,343.5 990.6,343.6 992.6,342.5 993.2,341.9 993.4,341.2 993.1,340.3 990.8,337.8 990.1,337.6 989,337.8 986.9,340.2 987.1,341.6z"/><path fill="#b40426" d="M986.9,343.2 985.9,343.5 984.8,345.1 984.5,346.4 984.6,348.1 985.2,348.7 985.8,348.8 987.2,348.1 988.8,346.3 989.1,345.6 988.7,344.4z"/><path fill="#dedcdb" d="M993.2,351.1 994,350.2 994.1,348.2 993.5,346.8 992.1,345.7 990.6,345.8 990,346.2 988.4,347.5 987.2,349.3 987.7,350.4 989.4,351.9z"/><path fill="#e36c55" d="M1001.1,352.8 1001.5,349.5 1000.6,347.8 999.9,347.4 998.5,347 996.7,347.6 995.9,348.6 995.5,349.7 995.3,351.3 995.6,352.2 998.7,356.5 999.7,357.2 1000.4,357.1 1001.5,356 1001.7,354.5z"/><path fill="#d5dbe5" d="M980.5,348.2 976.5,347.3 975.2,347.7 974.1,349 973,353.6 972.9,356.2 973.4,358.7 974.7,361.5 976.7,363.5 979,364.2 980,364 981.7,362.9 985,357.7 985.6,355 984.4,351.5 982.6,349.7z"/><path fill="#97b8ff" d="M986.9,354 988.8,359 992.9,361.7 993.6,361.9 994.3,361.7 995.7,360.9 997,359.2 997.9,356.2 994.6,351.5 993.3,351.3 987.9,352.7 987.2,353.1z"/><path fill="#96b7ff" d="M985.8,367.6 987.8,367.9 989.8,366.9 992.7,363.3 992.6,362.1 988.4,359.5 984.2,361.5 983.3,362.5 983.2,364.1 984.6,366.6z"/><path fill="#9fbfff" d="M997.7,368.8 998.5,368.7 999.1,368.2 1001,365.2 1001.2,363.3 1000.9,361.8 999.9,360.5 999.1,360.2 997.6,360.3 996.5,361.1 994.3,364.1 993.6,365.8 994.1,367.4 994.7,367.9z"/><path fill="#92b4fe" d="M1010,343 1010.4,342.2 1010.5,339.7 1009.5,337.4 1008,336.5 1005.3,335.9 1003.6,335.8 1002.9,336.3 1002.5,336.8 1002.5,338.5 1003.2,340.4 1003.2,343.4 1004,345.2 1005.6,346 1007,345.8z"/><path fill="#9abbff" d="M1010,343.4 1008.9,346.7 1008.8,348.3 1009.9,350.8 1011,351.5 1014.9,349.6 1016.1,346.4 1016.2,344.5 1015.6,343.1 1014.9,342.2 1013.2,341.1 1012,341.5z"/><path fill="#d1493f" d="M1012.6,351.3 1011.9,352.2 1012,352.8 1013.8,355.5 1014.9,355.9 1017.9,356 1019.2,355.3 1019.3,353.6 1016.7,350 1015.4,349.9z"/><path fill="#dddcdc" d="M1001.5,360.9 1002.6,362.8 1003.6,363.4 1011.5,364.5 1013.3,363.8 1014.4,361.1 1014.2,358.9 1012.8,354.9 1010.8,352.5 1008.4,351.4 1007.5,351.4 1006.4,352 1002.3,356.8 1001.4,359.1z"/><path fill="#5f7fe8" d="M1028.3,365.5 1028.7,363.1 1027.9,359.5 1026.7,357.3 1025.2,356.3 1023.7,356.5 1022.8,356.9 1018.2,363.5 1018.2,365.1 1018.7,365.7 1021.8,367.5 1027.3,366.3z"/><path fill="#f18f71" d="M1014.9,372.4 1015.6,373.5 1017.2,373.8 1019.2,373.4 1020,372.8 1021.9,369.6 1022,368.3 1019.5,366.5 1018.1,366.4 1016.9,367.6 1015.1,371.2z"/><path fill="#dddcdc" d="M1018.9,375.1 1018.6,375.9 1019,376.7 1023.2,381.6 1026,383.5 1028.8,383.9 1031.2,383 1033,381.2 1034,378.8 1034.4,376 1034.3,372.1 1032.8,368.3 1030.8,366.5 1029.5,366.1 1023.7,367.6z"/><path fill="#d44e41" d="M998.1,370.2 997.8,372.5 998.3,373 1005,377.5 1006.3,377.6 1010.2,376.6 1013.1,375.6 1014.4,374.3 1014.7,373.3 1014.3,367 1013.9,366.1 1012.3,364.9 1004.8,364 1002.4,364.9 1001.1,365.8z"/><path fill="#97b8ff" d="M1001.6,384.2 1002.5,383.9 1006.1,380.7 1006.5,380.2 1006.4,379 999.1,373.9 997.9,373.7 996.9,374.5 995.9,376.4 995.5,378.3 995.9,380.2 997.2,382 999.4,383.9z"/><path fill="#be242e" d="M1004.3,388.8 1004.9,389.5 1006.7,390.4 1008.6,390.6 1009.2,390.3 1011,388.5 1011.5,387.6 1011.9,383.2 1011.4,381.9 1010.2,381.6 1008.5,381.7 1006.5,381.1 1003.1,383.7 1002.7,384.5 1002.8,385.3z"/><path fill="#abc8fd" d="M1016.7,391.3 1018,391.4 1020.3,390.3 1021.5,388.9 1022.1,387 1022.1,384.7 1021.5,382.6 1020.6,381.4 1018.7,380.4 1016.5,380.6 1014.7,381.7 1013.4,383.2 1012,385.7 1012,387.9z"/><path fill="#5f7fe8" d="M999.3,390.9 1001,391.2 1003.2,390.9 1003.8,390.6 1004.2,389.9 1002.6,385.7 1001.8,385.1 999,385.7 998,386.3 997.4,387.2 997.3,388.4 997.7,389.4z"/><path fill="#d24b40" d="M1006.6,396.2 1008.2,392.6 1006.5,390.7 1004.7,390.4 1003.7,391.1 1003.1,392.4 1003,394.5 1003.8,396 1004.6,396.6 1005.8,396.7z"/><path fill="#93b5fe" d="M1009.7,390.2 1009.3,391 1009.4,391.8 1009.9,392.4 1014,394.8 1015.3,394.9 1017.3,393.7 1017.4,392.3 1016.9,391.8 1012.6,388.9 1011.4,388.7z"/><path fill="#d6dce4" d="M1007.5,399.3 1007.8,400 1009.1,400.6 1010.6,400.5 1012.2,399.9 1012.8,399.2 1013.7,397.1 1013.8,395.3 1013.2,394.7 1010.2,392.9 1009.5,392.7 1008.8,392.9 1007.9,394.4z"/><path fill="#f7bca1" d="M1013.2,399.1 1013.4,400.8 1014.9,402.4 1016.5,402.9 1017.5,402.9 1018.7,402.3 1019.3,401 1018.7,395.8 1018.3,395 1017.6,394.6 1016.7,394.6 1015.2,395.3 1014.5,395.9z"/><path fill="#d1493f" d="M1019.7,402.7 1020.6,403.9 1022.2,404.4 1024.6,404.2 1026.9,403.4 1030.5,396.6 1030.6,394.4 1030.2,392.5 1029.6,391.5 1027.8,390.8 1024.9,391.4 1020.3,393.5 1019.3,394.4 1019,395.5z"/><path fill="#d1493f" d="M1027.5,403.3 1027.3,404.1 1027.7,404.8 1028.4,405.3 1032.4,406.1 1036.2,402 1036.5,401.1 1036.4,399.9 1032.4,397 1031.6,396.8 1030.9,397z"/><path fill="#96b7ff" d="M1031.8,394.7 1031.6,396 1032.1,396.5 1035.8,398.9 1036.9,399.1 1038.1,397.9 1038.4,396.8 1038.1,394.6 1037.7,393.6 1036.7,392.8 1035.3,392.6 1034.1,392.9 1032.8,393.6z"/><path fill="#7295f4" d="M1037.8,399 1037.6,401.9 1038.1,402.4 1041.3,404.3 1044.5,403.4 1045.4,402.2 1045.3,401 1044,398.7 1042.8,397.6 1041.4,397.1 1039.9,397.2 1038.5,397.9z"/><path fill="#4a63d3" d="M1034.7,404.2 1033.7,407.3 1033.8,408.7 1035.2,410.9 1036.9,411.5 1037.7,411.1 1041.2,407.6 1041.6,406.9 1041.5,406 1040.1,404.1 1037.1,402.3 1035.9,402.8z"/><path fill="#c32e31" d="M1043.7,412.3 1044.4,411.5 1045,409.5 1044.9,408.7 1044.4,407.8 1043.3,407.3 1041.7,407.6 1038.6,410.9 1039,412.3 1040.3,413.3 1041.3,413.3z"/><path fill="#f6a586" d="M1028.6,405.6 1027.2,406 1025.5,407.7 1024.4,409.3 1023.9,411.1 1024.2,413 1024.9,414.2 1026.3,415.4 1028,415.9 1030.1,415.6 1032.5,414.1 1033.4,412.7 1033.7,410.8 1033.3,408.7 1032.3,406.8z"/><path fill="#5b7ae5" d="M1005.4,411.6 1007.3,411.6 1009.1,410.9 1010.7,409.9 1012,408.2 1012.5,405.6 1012.1,403.7 1011,402.4 1009.7,401.9 1005.6,401.7 1003.6,402.2 1002.8,402.8 1002.1,404.1 1001.9,405.1 1002.2,406.5 1003.4,408.3 1004.4,410.6z"/><path fill="#f5a081" d="M1051,403 1052.4,402.8 1055.6,400.7 1055.5,396.7 1055.3,396.1 1054.1,395.1 1052.4,395.2 1050.8,396.1 1049.7,397 1048.4,399.3 1048,401 1048.3,402.2 1049.1,402.8z"/><path fill="#a1c0ff" d="M1052.7,403 1052,404.1 1051.8,406.1 1054.1,409.1 1056.6,410.4 1058.1,410.3 1059,409.9 1059.9,408.9 1060.2,407.5 1060.1,405.9 1059.4,404.5 1056.4,401.6 1055.1,401.7z"/><path fill="#a1c0ff" d="M1047.5,412.4 1048.7,412.7 1053.2,411.5 1054.1,410.5 1053.8,409.3 1051.1,406.2 1049.9,406.3 1046.5,408.6 1046.1,409.9 1046.2,410.8z"/><path fill="#f59f80" d="M1045.2,412 1039.7,414.5 1039.4,415.8 1041,419.6 1042.2,421.2 1043.5,421.8 1046.1,421.8 1048.1,420.6 1048.5,419.4 1047.9,413.7 1046.7,412.2 1046,411.9z"/><path fill="#d3dbe7" d="M1048.3,414.4 1049,418.9 1049.6,419.4 1050.4,419.4 1056.6,418.2 1057.3,417.9 1057.9,416.5 1057.6,414.6 1056.2,413.1 1053.3,412.1 1052.3,412 1049.3,412.9 1048.7,413.2z"/><path fill="#f2c9b4" d="M1051,419.6 1050.2,420.2 1050.4,421.7 1051,422.4 1052.5,423.3 1054.1,423.1 1056.2,420.3 1056.1,419.5 1055.4,418.8z"/><path fill="#4c66d6" d="M1044.1,433.4 1044.9,433.7 1045.7,433.5 1047.4,432.3 1049.2,431.7 1051.1,430.6 1051.8,429.7 1052.1,427.9 1050.7,425.6 1047.2,423.5 1045.6,422.8 1043.6,422.4 1041.4,422.6 1039.5,423.7 1039,424.4 1038.4,426.5 1038.7,428.2 1039.6,429.8z"/><path fill="#6b8df0" d="M1041.5,442.9 1042.8,442.5 1043.6,440.3 1043.4,437.4 1044,434 1043.5,433.3 1039,429.7 1037.3,429.5 1034.6,430 1032.8,431.8 1032.3,433.6 1032.6,436.2 1033.5,438.5 1036.1,441.8z"/><path fill="#b8122a" d="M1066.2,431.8 1070.9,428.7 1071.6,427 1071.1,425.6 1070.4,424.8 1067.4,423.8 1065,422.3 1064.2,422.2 1062.4,422.7 1061.2,424 1060.4,425.8 1060.3,427.7 1061.3,430.1 1062.1,430.8 1065.7,431.7z"/><path fill="#e57058" d="M1068.1,437 1068.5,437.7 1069.2,438.1 1070.1,437.9 1073.6,436.2 1074.3,435.2 1074.4,433.2 1074,432.6 1072.4,432.2 1070.6,431.1 1069.8,430.8 1069,431 1067.3,432.4 1067.2,433.2z"/><path fill="#f7b89c" d="M1066.2,441.5 1067.4,439.1 1067.9,437.4 1066.5,432.5 1063.1,431.4 1061.2,431.7 1059,432.7 1057.6,434.3 1056,437.8 1056.2,439.6 1056.8,440.4 1058.2,441.3 1062.2,442.7 1064,442.7z"/><path fill="#aac7fd" d="M1074.9,435.7 1075.1,436.8 1079.3,443.2 1080,443.7 1080.9,443.7 1086.6,442.1 1087.8,440.8 1088.3,437.3 1088.7,431.3 1087.6,427.9 1085.7,427 1084.6,427 1082.2,427.9 1077.7,430.3 1075.7,432.7z"/><path fill="#445acc" d="M1069,438.9 1068.2,439.6 1067.2,442.4 1070.7,446.7 1074.1,448 1076.8,448 1077.7,447.3 1079.4,444.2 1079.1,443.4 1075,437.2 1073.8,436.6 1073.2,436.7z"/><path fill="#e26952" d="M1097.3,419.8 1098.2,420 1099.6,419.8 1101.1,419.1 1101.8,418.5 1103.8,414.3 1103.9,413.3 1103.4,411.7 1102.5,410.7 1100.8,410.2 1099,410.8 1097.4,412 1096.3,413.3 1095.8,414.8 1095.8,417.4 1096.2,418.7z"/><path fill="#f29072" d="M1105.1,422.3 1108.2,420 1108.7,419.3 1108.9,417.9 1107.6,414.1 1106.8,413.2 1105.6,412.9 1104.5,413.7 1101.8,419.4 1102.6,421.4 1104,422.4z"/><path fill="#6384eb" d="M1037.2,442.9 1033.1,444.5 1032.8,445.6 1033.6,446.4 1039,448.2 1039.6,448.3 1040.5,447.4 1040.2,445.8 1039.3,444 1038.6,443.2z"/><path fill="#9dbdff" d="M1033.5,457.4 1039.6,455.1 1041.2,454.1 1042.5,452.1 1042.6,451.1 1042.1,449.8 1032.3,446.3 1031.6,446.3 1030.7,446.8 1029.7,449.4 1029.2,453.3 1029.5,455.4 1031,457.1 1031.9,457.4z"/><path fill="#dadce0" d="M1046.7,454.5 1047.7,454.4 1053.1,451.7 1053.8,450.8 1053.9,449.3 1052.9,444.9 1052.3,443.9 1050.6,442.9 1048.5,442.7 1046.4,443.4 1044.7,445.8 1044.1,450.8 1044.3,452.4 1045.5,453.9z"/><path fill="#97b8ff" d="M1054.2,443.1 1053.2,444.1 1054,448 1055.7,451.2 1056.4,451.7 1057.9,451.7 1058.8,450.8 1059.9,447.1 1059.8,446.2 1058.8,444.2 1057.8,443.2 1056.4,442.8z"/><path fill="#6180e9" d="M1065.6,443.1 1061.4,443.9 1059.4,449.9 1059.4,450.8 1060.9,452.9 1062.4,454 1068.4,454.6 1069.2,454.4 1071.1,451.2 1071.1,447.8 1067.8,443.9z"/><path fill="#4e68d8" d="M1070.1,454 1069.9,454.8 1070.3,455.6 1074.7,458.8 1075.9,459.2 1076.9,459.2 1078,458.6 1078.5,456.5 1077.5,452.3 1076.9,450.9 1075.5,449.9 1073.9,449.5 1072.3,449.8z"/><path fill="#a3c2fe" d="M1088.9,455.2 1089.6,454.4 1092.3,445.3 1092.1,443.6 1090.9,442.1 1090.3,441.6 1089.4,441.6 1081.3,443.9 1079.8,444.8 1077.3,448.9 1079.7,454.5 1080.2,455.1 1083.5,455.9 1085.9,455.9z"/><path fill="#6f92f3" d="M1089.7,455.1 1089.9,456.3 1091.4,457.1 1093.5,457.1 1095.6,456.4 1097.3,455.1 1099.5,452.3 1099.9,450.6 1099.4,448.9 1094.8,445.8 1093,445.7 1092.2,446.6z"/><path fill="#4961d2" d="M1093.4,463.8 1095.9,465.6 1097.1,465.7 1097.8,464.5 1097.7,461.1 1097.2,459.9 1096.2,459 1092.8,458.4 1091.8,458.5 1091,458.9 1090.6,459.6 1090.9,460.8 1093,463z"/><path fill="#6a8bef" d="M1092.1,463.8 1089.9,463.7 1089.3,464.1 1089,464.9 1089.2,466.2 1090.2,468.2 1090.9,468.9 1092,469.2 1093,468.9 1094.5,467.8 1095.3,466.8 1095.4,466.1 1094.9,465.4z"/><path fill="#d55042" d="M1055.3,453.5 1053.4,452.2 1052.6,452.3 1048.4,454.4 1047.9,454.9 1047.6,456.6 1047.9,457.7 1050.4,462.2 1052.6,463.4 1054.9,463.8 1056.6,463.3 1058.1,462.4 1058.5,461.5 1058.9,456.5 1058.4,455.3 1057.4,454.4z"/><path fill="#94b6ff" d="M1059.7,461.4 1061.3,463.5 1062.1,463.6 1067.6,463 1068.3,462.7 1070.4,457.6 1069.2,455.2 1060.8,454.1 1059.5,454.7 1059.1,459.3z"/><path fill="#5b7ae5" d="M1040.3,462 1039.9,464 1040.4,464.6 1041.1,464.9 1047.4,465.7 1048.8,465.1 1049.9,462.8 1049.7,461.7 1047.2,457.2 1046.1,456.5 1045.3,456.7 1043.8,458.1z"/><path fill="#688aef" d="M1041.1,472.6 1042,473.1 1043.4,473.2 1047.7,471.8 1048.8,470.6 1049.1,469.7 1048.4,466.7 1047.4,466 1043.3,465.5 1041.5,466.3 1040.3,467.7 1040,469.1 1040.4,471.5z"/><path fill="#a5c3fe" d="M1062.8,463.9 1062.1,464.2 1061.6,464.8 1061.5,466.9 1062.4,469.2 1063.8,470.2 1064.5,470.3 1065.6,470 1068.6,467.9 1069.3,467 1069.6,465.1 1069.1,463.7 1068.6,463.4z"/><path fill="#6282ea" d="M1072.5,465.2 1071.6,467.6 1071.9,468.3 1074.2,470.9 1075.2,471.4 1076.5,471.5 1079,470.8 1081.7,468.4 1082.4,467.2 1082.7,465.9 1082.1,464.2 1079.4,462.2 1078.1,460.1 1076.4,459.3 1074.4,460.1 1073.7,460.8 1072.8,462.8z"/><path fill="#da5a49" d="M1071.2,467.9 1070,467.5 1069.4,467.7 1066.6,469.7 1066,470.7 1065.9,473.4 1066.4,475.2 1067.5,476.7 1069,477.5 1070,477.4 1070.7,477 1074,472.7 1073.5,470.6z"/><path fill="#a3c2fe" d="M1077.1,482.2 1078.2,482 1079.4,480.9 1079.9,479.5 1079.9,477.9 1078.3,474.2 1077.2,473.3 1075.3,472.7 1074.3,473.2 1071.1,476.9 1070.8,478.3 1071.4,479.4 1072.1,479.9 1074.6,480.8 1075.7,481.7z"/><path fill="#e1dad6" d="M1078.4,472.3 1078.3,473.6 1080.3,478.2 1080.8,478.8 1081.6,479 1088.2,475.5 1089,474.4 1089.2,473.2 1088.5,471.1 1087.3,469.3 1085.1,467.8 1083,467.9 1081.8,468.7 1079.2,471.1z"/><path fill="#d44e41" d="M1081.4,479.9 1081.1,480.5 1081.2,481.3 1081.6,481.9 1084,483.9 1084.9,484.2 1087.6,484 1089.3,483.5 1090.1,482.9 1090.2,482 1089.5,477.3 1088.8,476.2 1087.5,476.3z"/><path fill="#c53334" d="M1090,474.5 1089.6,475.7 1090.7,483.1 1091.4,484.1 1092.1,484.3 1095.9,482.4 1097.3,481.2 1098.2,479.7 1098.3,478.8 1097.9,478.1 1095,475.2 1092.2,473.8 1090.9,473.8z"/><path fill="#d24b40" d="M1095,473.1 1094.6,474.1 1094.9,474.6 1097.1,476.9 1097.5,477.1 1098.4,477 1099.2,475.8 1097.9,472.8 1096.8,472.2z"/><path fill="#6b8df0" d="M1100.1,476.5 1101.1,477.2 1102.1,476.8 1103.8,472.6 1104.1,471.7 1103.9,470.3 1103.4,469.7 1102.3,469.1 1101.1,469.2 1100,469.7 1098.5,471 1098,472z"/><path fill="#df634e" d="M1104.6,473.9 1103.6,476.5 1103.9,477.3 1106,479.2 1110.7,478.1 1111.3,477.7 1111.7,476.4 1111.6,475.1 1110.9,473.9 1109.8,473.1 1108.4,472.8 1105.3,473.3z"/><path fill="#f7b89c" d="M1104.9,484.3 1105.8,485.5 1106.6,485.5 1113.8,484.2 1114.4,483 1113.9,480.3 1112.9,478.9 1111.9,478.3 1110.9,478.3 1105.9,479.7 1105.2,480.2 1104.9,480.9z"/><path fill="#f7b89c" d="M1105.7,486 1105,486.3 1104.5,487 1104.6,487.9 1105.4,489.5 1106.5,490.1 1114.1,488.1 1114.9,487.6 1115.2,486.8 1114.9,485.6 1114,484.7z"/><path fill="#dddcdc" d="M1117.3,488.2 1116,487.9 1105.8,490.9 1103.9,493.1 1103.6,494.1 1103.9,496.1 1106.1,497.6 1108.9,498.3 1110.7,499.7 1114.6,501.3 1116.4,501.1 1117.8,498.9 1117.8,495.9 1118.9,492 1118.6,489.6z"/><path fill="#f7b497" d="M1071.1,484.4 1070.9,483.4 1069.5,481.4 1066,477.2 1063.7,475.6 1062.7,475.5 1060,476.2 1056.6,479.2 1054.5,480.4 1052.9,483 1053.5,485.5 1055.5,488 1057.8,489.7 1060.5,490.5 1063.3,490 1068.3,488.1 1070.6,486.5z"/><path fill="#6b8df0" d="M1081.8,494.2 1082.6,493.9 1083,493.3 1085.3,486.4 1085.3,485.6 1083.5,483.8 1082.5,483.5 1079.5,483.9 1077.2,483.4 1075.2,483.7 1074.1,484.9 1073.8,485.7 1073.7,487.7 1074.8,491.6 1076.9,493.7 1078.9,494.2z"/><path fill="#7396f5" d="M1085,488.3 1083.1,494.7 1083.9,495.7 1087.4,495.8 1089.5,496.2 1091.4,495.6 1092.8,494 1093.3,492 1092.7,488.3 1091.6,486.1 1090,485.3 1088.1,485.4 1086.6,486.3z"/><path fill="#5e7de7" d="M1079.4,495.7 1076.1,496.1 1075.7,496.7 1075.2,498.7 1075.9,500.8 1077.3,503 1077.8,507.6 1079.7,510.5 1082,510.7 1083.8,509 1085.5,505.5 1086,501.7 1085.6,499.3 1084.3,497.2 1082.3,496.1z"/><path fill="#b40426" d="M1103,508.8 1103.8,509.4 1105.9,509.7 1112.3,508.5 1114.6,506.8 1114.9,505.1 1114.7,504.2 1111.6,500.4 1106.9,498.5 1104.8,498.7 1102.7,500.1 1101.6,502.1 1102,507.2z"/><path fill="#da5a49" d="M1112.1,512.8 1111.3,511.2 1110.1,510.6 1109.2,510.5 1105.7,511.4 1104.9,512 1104.5,513.2 1104.9,514.5 1106,515.8 1107.1,516.4 1109.4,516.7 1111,516.2 1112,515.1 1112.3,514.3z"/><path fill="#a7c5fe" d="M1096.9,515.3 1100.8,516.8 1101.4,516.8 1102.6,516.1 1103.2,514.7 1103.2,512.4 1102.8,511.3 1101.9,510.4 1100.5,509.8 1099.1,509.7 1098,510.3 1097.3,511.1 1096.4,513 1096.3,514.1z"/><path fill="#3b4cc0" d="M1112,524.7 1114.3,524.9 1116.5,524.5 1119.7,522.8 1121.5,520.9 1121.7,519.7 1121.4,519.1 1116.9,514.1 1116.2,513.6 1114.4,513.4 1113,514.4 1112.2,515.4 1111.2,518.5 1109.8,520.4 1109.4,521.6 1109.5,522.7 1110.7,524.2z"/><path fill="#f59d7e" d="M1127.7,484.2 1128.5,484.6 1130.4,484.8 1132,484.1 1132.4,483.5 1131.2,481.9 1130.1,481.6 1127.8,483 1127.6,483.5z"/><path fill="#9bbcff" d="M1133.9,484.7 1131.6,484.6 1128.1,487.1 1126.9,488.7 1127.1,490.2 1128.9,491.4 1133.4,492.1 1135.5,492 1136.5,491.4 1136.8,490.7 1137,486.9z"/><path fill="#4961d2" d="M1146.1,493.7 1146.4,492.4 1146.1,491 1144.7,488.9 1143.6,486.1 1142.6,484.9 1141.7,484.5 1140.5,484.6 1137.9,485.8 1137.5,486.6 1137.1,489.9 1137.6,491.4 1138.4,492.1 1141.9,493.1 1143.7,494.1 1145.3,494.3z"/><path fill="#4a63d3" d="M1132.2,501.6 1135.1,499.5 1135.3,498.7 1134.6,494.2 1133.5,493.6 1129.8,492.9 1127.5,493.4 1126.1,494.6 1125.5,495.8 1125.4,497.7 1126.1,499.3 1129,501.6 1130.5,502z"/><path fill="#9abbff" d="M1135.5,498.4 1135.9,499.2 1136.6,499.6 1140.9,500.7 1141.9,500.5 1143.1,499.5 1143.4,498.3 1143.1,495.8 1142.5,494.4 1141.6,493.6 1137.7,492.1 1136.4,492.3 1135.6,493.5 1135.2,494.9z"/><path fill="#f6a283" d="M1133.1,502.1 1132.6,503.4 1133.1,504.9 1135.8,507.1 1137.1,507.6 1138.1,507.4 1139.3,506.5 1140.8,504.1 1141.2,502.9 1140.8,501.2 1136.4,499.9 1135.1,500.2z"/><path fill="#f59d7e" d="M1120.4,506.5 1121.4,507.4 1127.5,508.8 1129.6,508.4 1130.4,507.9 1131.2,506.6 1130.9,504.9 1130.4,504.2 1125.2,500.1 1123.5,499.8 1121.8,500.3 1120.2,502.2 1119.9,503.9z"/><path fill="#f6bfa6" d="M1120.5,517.6 1121.7,518.1 1126.2,517.3 1130.4,514.6 1130.6,513.9 1129.9,512.2 1126.1,508.8 1121.2,507.7 1120.2,507.9 1117.7,509.6 1116.8,511 1116.5,512.7 1116.9,513.6z"/><path fill="#d4dbe6" d="M1126.8,517.3 1123.2,519.7 1123,521.3 1123.6,522.8 1124.7,524.1 1129,526.8 1131,526.9 1132,526.2 1132.8,524.4 1132.7,521.3 1133.3,519.9 1133.4,519 1132.9,517.8 1131.6,517.1 1127.7,517.1z"/><path fill="#6c8ff1" d="M1132.9,513.7 1133.9,515.5 1135.8,517.3 1137.9,518 1139.4,517.8 1141.8,516.2 1142.6,515 1142.8,513.5 1142.4,511.9 1141.5,510.7 1140.3,509.8 1138.6,509.5 1136.7,509.8 1134,510.9 1133,512z"/><path fill="#6a8bef" d="M1144.4,510.8 1149.3,511.7 1150.6,511 1151,510.3 1151.1,508.9 1149.6,506 1147.7,504.9 1146.4,505 1145.2,505.7 1144.5,506.7 1143.9,508.9 1143.9,509.9z"/><path fill="#f2cab5" d="M1230,312.7 1229.2,313.1 1228.8,313.7 1228.8,314.5 1230,318.7 1230.4,319.3 1231.5,319.7 1234.7,317.7 1235.4,316.9 1235.5,315.9 1235,314.7 1232.9,313.2 1231.6,312.7z"/><path fill="#f39577" d="M1223.9,317.8 1223,318.3 1220.8,321 1218.9,322.3 1217.8,324 1218.3,326 1223.6,328.5 1228.9,325.4 1229.5,324.3 1229.2,322.5 1228.4,321 1225,318.1z"/><path fill="#6485ec" d="M1229.8,323.4 1231.7,325.8 1233.2,326.7 1234.8,326.9 1235.7,326.6 1237.3,325.2 1238.1,323.1 1236.8,321 1236.1,318.6 1234.9,318.2 1230.2,321.1 1229.7,321.7z"/><path fill="#4f69d9" d="M1238.6,325.5 1242,327.9 1243.1,327.4 1244.6,325.5 1245.2,324.1 1244.8,322.2 1243.5,321.2 1241.9,321.4 1238.9,323.2 1238.2,324.2 1238.2,324.9z"/><path fill="#b70d28" d="M1233.6,328.4 1231.7,326.2 1229.9,325.3 1229.2,325.5 1223.3,329.4 1223.2,330.6 1224.4,333.9 1224.9,334.6 1228,336.7 1228.9,337 1230,336.7 1234.8,332.9 1234.7,330.5z"/><path fill="#6a8bef" d="M1236.4,326.5 1236.2,329.2 1236.6,330.2 1237.3,330.7 1239.2,331.2 1241.1,330.4 1241.8,328.8 1241.4,328 1238,325.6 1237.1,325.8z"/><path fill="#da5a49" d="M1215.3,334 1215.5,333 1215.3,330.1 1214.9,328.5 1214.4,328 1213.8,327.8 1212.6,328.2 1211.3,329.5 1209.3,330.2 1208.2,331.3 1208,332.2 1208.4,333.8 1209.6,335.4 1210.4,335.7 1213.7,336z"/><path fill="#688aef" d="M1218.7,331.2 1218.6,332.3 1218.9,332.7 1222.2,336.1 1223.4,336.4 1224,336 1224.4,335.2 1224.3,334.6 1222.6,330.3 1222.1,330 1221.1,330z"/><path fill="#dd5f4b" d="M1215.3,339.8 1217.1,341.4 1218.8,341.7 1220,341.2 1222,339.6 1223,338.3 1223,337.6 1218.5,332.8 1217.8,332.4 1217,332.5 1216.4,333 1214.2,336.4z"/><path fill="#6282ea" d="M1210.2,343.3 1214.3,341.3 1215,340.4 1214.9,339.7 1213.6,336.6 1212,336.2 1211.1,336.5 1208.3,338 1206.9,339.2 1206.5,340.7 1207.4,342.4 1208.5,343.2z"/><path fill="#6f92f3" d="M1236.2,335.1 1234.4,334.1 1233.7,334.3 1231.6,336.1 1231.6,337.8 1231,340.1 1231.3,341 1232.2,341.6 1233.9,341.9 1234.9,341.6 1236.2,340.2 1236.7,336.3z"/><path fill="#6c8ff1" d="M1240.6,331.1 1238.4,332.1 1237.7,332.7 1237.6,333.6 1238.2,335 1240.3,337.1 1241.2,337.5 1245.1,335.5 1245.3,333.9 1244.3,332.6 1242.6,331.4z"/><path fill="#9bbcff" d="M1241.7,337.7 1241.2,338.2 1241,338.9 1241.3,339.5 1243.5,342.3 1244.2,342.7 1245.8,342.8 1246.8,342.2 1247.3,341.2 1247.3,339.1 1245.8,336.6 1244.7,336.4z"/><path fill="#a9c6fd" d="M1236.7,340.5 1236.4,341.8 1237.4,345.7 1238.1,346.7 1239.3,346.9 1242.2,344.3 1242.8,342.2 1240.9,339.5 1240.1,339 1238.3,338.9z"/><path fill="#e1dad6" d="M1247.1,344.3 1243.9,343.3 1243.2,343.7 1240.3,346.9 1239.8,349.6 1240.4,350.8 1240.9,351.2 1242.5,351.6 1246.3,350.9 1248.1,349.8 1248.8,349 1249.2,346.8 1248.5,345.2z"/><path fill="#3b4cc0" d="M1202.1,348.7 1203.6,345.1 1203.5,343.1 1203,342.3 1201.2,340.9 1199,340.6 1194,341.5 1192,342.9 1191.4,344.6 1191.5,346.5 1192.5,348.5 1194.2,349.9 1196.2,350.5 1198.1,350.7 1199.5,350.4z"/><path fill="#b50927" d="M1215.1,351.1 1216.3,348.2 1215.7,345.2 1214.9,344 1213.9,343.7 1211.4,344.5 1210.2,345.5 1209.3,346.7 1209,348.1 1209.3,349.4 1210.1,350.6 1211,351.1 1214.1,351.8z"/><path fill="#3e51c5" d="M1221.6,348.9 1220.6,348.1 1219.4,347.6 1218.1,347.4 1217.4,347.6 1215.1,351.6 1215.2,352.8 1215.8,353.4 1217,353.3 1221.2,350.5 1221.7,349.5z"/><path fill="#f7b89c" d="M1204.6,348.7 1203.8,348.4 1203,348.6 1200.1,350.4 1198.2,352.5 1197.3,354.2 1197.8,355.8 1198.6,356.7 1202.5,359 1203.3,359.1 1204,358.8 1207,355.5 1206.5,351.4 1206,350z"/><path fill="#5d7ce6" d="M1212.2,351.7 1208.6,352.5 1207.8,353.6 1207.9,355.3 1208.5,355.8 1213.4,358.3 1214.7,358.3 1215.4,357.2 1215.5,355.8 1215,353.4 1214.6,352.6 1213.9,352.2z"/><path fill="#96b7ff" d="M1203.5,359.7 1203.1,360.5 1203.2,361.3 1204.2,362.8 1210.1,365.1 1212,364.9 1212.8,364.4 1213.7,362.9 1214.1,359.9 1213.9,359.2 1213.3,358.6 1208.4,356.2 1207.6,356 1206.8,356.4z"/><path fill="#f3c8b2" d="M1225.4,351.5 1222.8,350.1 1222.1,350.3 1216.5,354 1215.8,355.1 1215.7,356.6 1216.2,357.8 1220.4,360.5 1221.9,361.1 1222.9,361.1 1226.8,359.4 1227.6,358.6 1227.9,357.7 1227.8,355.5 1227,353.6z"/><path fill="#f7b99e" d="M1217,359.8 1216.1,359.8 1215.2,360.6 1215,362.9 1216.6,367.6 1218.1,369 1218.8,369 1219.8,368.1 1221.8,362.1 1220.9,361.1z"/><path fill="#d24b40" d="M1232.1,366.3 1232.3,365.1 1231.7,363.1 1230.7,361.4 1228.9,359.9 1227.2,359.6 1223.1,361.3 1222.3,362.1 1220.8,366.1 1220.8,369.2 1221.5,372.1 1223.1,373.8 1225.3,374 1226.1,373.8z"/><path fill="#3b4cc0" d="M1227.1,373.3 1226.8,374 1227,374.8 1227.8,376.2 1230,378.1 1231.9,378.9 1234.2,379.3 1236.5,378.6 1238.2,377 1239.2,374.9 1239.6,370.8 1239.4,368.7 1235.6,365.1 1234.9,364.7 1233.9,364.9 1233.2,365.3z"/><path fill="#e36c55" d="M1236.2,365 1236.9,365.7 1239.4,366.7 1240.9,367.6 1242.6,367.8 1243.8,367.3 1245.9,365.2 1246.3,364.1 1246.2,362.8 1245.9,362.1 1243.1,359.6 1241.4,359.2 1239.5,360.1 1236.9,362.4 1235.9,364.1z"/><path fill="#688aef" d="M1242.8,370 1241.5,369.8 1240.7,370.8 1240,373.6 1240.2,377.6 1240.8,379.2 1241.3,379.9 1243.1,380.7 1244.4,380.6 1246.5,379.3 1249.1,375 1248.5,373.8z"/><path fill="#5977e3" d="M1243.5,369.3 1244.1,370.5 1249.5,374 1251.1,374.2 1252.3,373.7 1252.6,373.2 1252.8,371.7 1252.1,369.9 1247.9,365.5 1246.6,365.3 1245.9,365.6 1243.6,368.1z"/><path fill="#6282ea" d="M1247.2,364.3 1248,365.2 1250.6,366 1253.4,363.9 1254.2,362.9 1254.3,362.3 1253.7,361.4 1251.7,359.8 1248.7,360 1247.8,360.7 1247.3,361.8z"/><path fill="#a3c2fe" d="M1252.6,358.7 1252.9,355.9 1253.9,354 1254.2,352.2 1254,351.2 1252.9,349.7 1250.4,349.7 1246.5,351.3 1245.4,352.1 1244.7,353.8 1244.5,356.2 1244.9,357.6 1246.3,359.3 1247.8,359.8 1251.5,359.4z"/><path fill="#f7b99e" d="M1248.1,339.1 1248.3,340.4 1249.6,340.9 1250.2,340.7 1255.8,336.9 1256.5,335.9 1256.2,334.6 1252.6,331.5 1251.4,331.2 1250.4,332.1z"/><path fill="#f2cab5" d="M1250.9,340.6 1250.2,341.7 1250.4,342.4 1252.5,344.3 1253.9,344.7 1257.9,340.9 1258.3,340.2 1258.2,339.5 1257.4,337.7 1256.1,337.3z"/><path fill="#f6a385" d="M1247.1,337.2 1247.9,337.5 1248.5,336.9 1249.7,333.3 1249.6,332.6 1249.1,332.2 1248.4,332.2 1247.7,332.7 1246.2,335.5 1246.4,336.5z"/><path fill="#f39475" d="M1262.8,343.7 1259.1,341 1257.8,341.4 1253.3,346.2 1253.6,347.9 1254.7,349.3 1257.6,351 1259.1,351.5 1260.1,351.4 1262.2,350.3 1263,349.5 1263.2,348.7 1263.3,344.4z"/><path fill="#688aef" d="M1263.6,343.9 1264.9,344.2 1268.4,343.1 1270.4,342.2 1272.6,339.5 1273,336.9 1272,334.3 1269.9,332.7 1262.5,331 1261,331.1 1260,331.6 1258.6,333.7 1258.4,339 1259.1,340.5z"/><path fill="#abc8fd" d="M1272.5,328.4 1273,327.2 1272.8,326.6 1267.4,317.6 1266.8,317.1 1266.1,317 1265.1,317.3 1263.3,319.1 1259.8,325.3 1259.7,328.1 1259.9,328.9 1260.7,329.9 1261.5,330.5 1268.7,331.9 1270,331.5z"/><path fill="#5977e3" d="M1270.3,318.2 1269.3,319 1269.4,320.3 1272.8,326 1273.3,326.5 1274.6,326.6 1275.4,325.7 1275.8,323.9 1277.3,321.6 1277.6,320.7 1277.3,319.4 1275.3,318.1 1273.2,317.9z"/><path fill="#d2dbe8" d="M1259.7,354.4 1260,355.2 1260.3,355.5 1262.6,356.5 1264.4,356.6 1266.2,355.4 1266.5,353.5 1266,352.6 1263,351.5 1262,351.5 1261,352.2z"/><path fill="#f7b599" d="M1266.1,351.8 1268,351.9 1271.4,350 1271.4,348.8 1269.3,345.5 1268.1,345.4 1266.9,345.9 1265.9,346.9 1264.8,348.9 1264.7,350.2 1265.2,351.1z"/><path fill="#97b8ff" d="M1270.4,343.4 1269.6,344.6 1271.6,348.4 1272.3,349 1274.5,349.6 1276.6,349.1 1278.4,343.8 1278.3,343 1277.9,342.4 1276,341.5 1274.3,341.6z"/><path fill="#df634e" d="M1278.5,344.5 1277.2,349.5 1278.3,350.5 1280,350.9 1282.9,350.7 1283.5,350.5 1284.5,349.3 1284.6,347.6 1284.2,346.2 1283.1,344.6 1282,344 1279.5,343.5z"/><path fill="#a6c4fe" d="M1274.1,356.6 1274.5,352.5 1273.3,350.7 1272.3,350.4 1271.5,350.5 1267.5,352.8 1267.3,354 1267.9,356.7 1269.2,358.1 1270.2,358.4 1272.3,358.1 1273.5,357.4z"/><path fill="#5a78e4" d="M1281.7,351.6 1279.6,351.7 1276.3,351.2 1275.3,351.6 1275,352.4 1274.6,356 1275,357.2 1279,359.4 1280.8,358.5 1282.7,356.3 1283.7,354.3 1283.7,353.3 1283.2,352.2z"/><path fill="#5e7de7" d="M1286.2,356.5 1284.4,356 1283.5,356.1 1282.4,357.1 1282.2,358.4 1284.1,363.7 1287,364.3 1288,364 1289.5,362.7 1289.6,360.8 1289.3,359.3 1288.5,357.9z"/><path fill="#a5c3fe" d="M1282.2,364 1283.1,363.6 1283.3,362.7 1282.2,359.5 1281.3,358.8 1279.9,359.7 1279.9,362.5 1280.2,363.3 1280.8,363.8z"/><path fill="#f5c0a7" d="M1260.2,355.8 1259,355.8 1258.4,356.4 1257.8,358 1256,360.1 1255.6,360.8 1255.5,362.4 1256.5,363.6 1257.4,364.1 1263.6,363.9 1264.7,362.9 1265.1,362.1 1265.2,360.4 1264.7,358.7 1263.4,357.2z"/><path fill="#df634e" d="M1268.6,371.1 1267.1,366.8 1265.3,364.8 1264.3,364.3 1259.5,364.7 1256,366.8 1254.9,368.1 1254.6,369 1254.7,370.5 1256.1,374.9 1257.5,376.6 1258.3,377.1 1260.5,377.6 1261.4,377.4 1263.3,376.5 1265.1,374.9 1267,373.9 1268,373z"/><path fill="#d8dce2" d="M1299.2,353.3 1299.9,350.8 1300.1,348.2 1299.9,346.1 1299.1,343.8 1296.8,341.8 1294.5,341.6 1293,342.2 1291.1,343.9 1288.4,347.6 1287.5,350.3 1288.1,352.9 1289.4,354.2 1290.5,354.6 1297.6,354.6 1298.2,354.5z"/><path fill="#f6bda2" d="M1289.8,358.7 1290.6,360.4 1293,361.4 1294.6,361.7 1296.1,361.2 1297.3,359.3 1298,357 1297.9,355.6 1296.7,354.9 1292.8,355.1 1290,357.4z"/><path fill="#c12b30" d="M1297.9,367.2 1297,365.3 1295,364.2 1291.2,363.5 1289.6,363.7 1288.7,364.2 1287.7,365.7 1286.7,369.5 1286.8,370.1 1289.7,373.2 1291,373.6 1297.3,369 1297.7,368.5z"/><path fill="#b8122a" d="M1286.4,370.3 1285.3,369.9 1283.5,370.9 1282.1,372.9 1280.9,375.6 1281.6,376.8 1286.9,379.6 1287.9,379.3 1288.4,378.7 1289.2,377 1289.9,374.1 1289.5,373.4z"/><path fill="#f6a586" d="M1291.3,373.9 1290.8,375 1290.9,375.6 1292.5,378 1293.6,381.2 1294.7,382.1 1301.6,379.2 1302.9,377.9 1303.6,375.6 1303.5,374.8 1302.5,372.6 1300.8,371 1298.1,369.6 1296.8,369.8z"/><path fill="#f39577" d="M1294.7,383.2 1294.4,384 1294.5,384.9 1296,387.1 1300.4,387.8 1302.5,387.6 1304.3,386.6 1305.3,385.6 1305.9,383.8 1305.3,381.6 1303.8,379.7 1302.8,379.2 1296,382z"/><path fill="#f4987a" d="M1284.5,389.4 1284.3,391.3 1285.3,393.8 1286.9,394.8 1290.2,395.1 1291.4,394.7 1294.7,391.4 1295.7,389.9 1295.9,389 1295.6,387.3 1294.4,385.6 1292.7,384.2 1290.5,383.6 1288.5,384.2 1287.4,385.2z"/><path fill="#6b8df0" d="M1277.5,381.9 1283.2,384.8 1284.8,384.3 1286.1,383.1 1286.9,381.6 1286.8,380.3 1282.5,377.7 1280.8,377.5 1278.7,377.8 1277.3,379.2 1277.1,380.8z"/><path fill="#3b4cc0" d="M1275.4,391.2 1278.6,392.6 1281.6,392.3 1283.4,391.1 1284,390.1 1284.4,387 1284.3,386.1 1283.7,385.5 1279.2,383.2 1278,383.2 1276.5,383.9 1272.7,386.3 1271.5,387.4 1271,388.6 1271.3,389.7 1271.8,390.2 1273.5,390.9z"/><path fill="#5f7fe8" d="M1291.9,399.7 1291,396.3 1289.9,395.4 1288.5,395.3 1287.4,395.6 1286.5,396.5 1285.9,397.6 1285.8,399.1 1286,400.3 1286.7,401.3 1288.6,402.3 1289.9,402.7 1290.6,402.5z"/><path fill="#d6dce4" d="M1303.3,406.8 1305.3,404.3 1306.5,401.6 1306.1,399.3 1305.4,398.5 1302.2,396.7 1300.6,396.5 1297.4,394.1 1296.7,393.9 1295.9,394.2 1294,395.4 1293.5,396.1 1291.9,401.1 1292.3,403.8 1293.3,406.3 1295.8,410.5 1298,412.3 1299.9,412 1300.8,411.4z"/><path fill="#5977e3" d="M1306.3,395.4 1304.7,389.6 1303.5,389.1 1300.5,389.6 1299.3,390.4 1298.8,391.2 1298.7,392.7 1299.7,394.8 1303.3,397 1304.5,397.2 1305.9,396.8 1306.3,396.1z"/><path fill="#3b4cc0" d="M1309.8,397.6 1311.9,398.2 1314.2,397.8 1315.1,397.2 1316,395.8 1316.2,390.9 1316.6,388.9 1316.3,386.6 1315.8,385.7 1313.7,384.5 1311.4,384.6 1307.4,386 1305.7,387.3 1305,388.5 1307,396.3z"/><path fill="#9bbcff" d="M1300.1,340.5 1303.1,342.1 1304.8,341.7 1305.8,340.8 1307,338.6 1308.1,335.1 1308,333.5 1307.5,332.6 1306.1,331.9 1304.6,332 1300.1,333.9 1297.9,335.2 1296.9,336.6 1296.7,337.6 1297,339.1 1298.3,340.1z"/><path fill="#a7c5fe" d="M1307.8,360.2 1309,358.9 1309.7,357.6 1310,356 1309.6,354.2 1308.4,352.9 1307,352.3 1304.3,352.3 1303.1,352.8 1302,354.6 1301.3,358.8 1301.7,360.4 1302.4,361.2 1304,361.7 1305.5,361.4z"/><path fill="#abc8fd" d="M1314.8,367.5 1317.2,366.7 1319.5,365.4 1321.5,363.5 1322.1,361.5 1320.9,359.3 1318.1,357.5 1317,356.3 1315.1,355.4 1314.1,355.5 1311.9,356.5 1310.7,358.2 1309,362.3 1308.8,364.2 1309.4,366 1310.2,366.8z"/><path fill="#3f53c6" d="M1313.6,367.7 1312.6,368.1 1311,370.6 1311.5,372.3 1312.4,373 1313.3,373.3 1314.4,373 1316.8,371.5 1317.3,370.1 1317.2,369.4 1316.2,368.2z"/><path fill="#abc8fd" d="M1317.6,372 1318.5,372.8 1323.5,373.7 1324.4,372.9 1324.9,370.7 1324.3,369.5 1323.6,369 1321.6,368.9 1319,368.2 1318.1,368.6 1317.8,369.2 1317.5,371z"/><path fill="#9fbfff" d="M1327.7,378.4 1327.1,377.7 1324.5,376.2 1321.9,375.2 1319.7,373.5 1317.4,372.8 1316.4,373 1312.1,375.5 1311.4,376.6 1311.5,377.9 1312.7,380.1 1316,384.3 1317.9,386 1320.2,386.6 1321.2,386.3 1324.3,384.2 1327.1,383 1328.5,381.1z"/><path fill="#b8122a" d="M1021.6,306.5 1021.9,304.8 1021.6,303.3 1020.8,301.9 1019.2,300.8 1017.1,300.7 1014,301.6 1012.3,303 1012,304.2 1012.3,307.1 1012.7,308.2 1014.1,309.5 1015.1,309.7 1016.9,309.3 1020.7,307.5z"/></g>
<g stroke="#1d1d2b" stroke-width="0.95" stroke-linejoin="round"><path fill="#c6d6f1" d="M1028.3,194.8 1028.5,194 1026.3,189.9 1020.2,186.1 1013.7,183.8 1008.2,182.6 1002.4,182.4 998.2,183.7 996.6,186.3 998.1,189.4 1001.5,192 1005.8,194.2 1010.4,196 1017,197.6 1024.4,197.4z"/><path fill="#cbd8ee" d="M1031.2,182.7 1031.4,181.9 1030.8,180.8 1028.5,179.5 1023.3,177.9 1020,177.4 1017.2,177.8 1016.2,179.1 1017.2,180.6 1019.2,182.1 1022,183.3 1024.8,183.9 1027.8,183.9 1030.1,183.4z"/><path fill="#eb7d62" d="M1045.9,187.7 1045.4,187.3 1044.4,187.3 1043.3,188 1042.4,189.1 1041.2,191.3 1041,192.8 1041.5,193.7 1042.7,193.9 1044,193.2 1044.9,192.1 1046.1,189.7 1046.2,188.6z"/><path fill="#90b2fe" d="M1024.5,214.7 1024.8,214.1 1024.3,211.9 1022.7,208.8 1020.7,205.5 1017.8,202.1 1013.4,198.8 1009.9,197.7 1008.5,198.4 1008.2,199 1008.4,201.2 1010.1,204.4 1012.7,207.9 1015.7,210.9 1019.5,213.7 1023,215.3z"/><path fill="#aac7fd" d="M1059.6,205.5 1061.6,205.2 1062,203.1 1058,199.5 1053.1,197.3 1049.2,196.4 1046.5,196.2 1045.2,196.9 1045.4,198.5 1046.9,200.9 1049.5,203.7 1053.6,206.4 1057.7,207.3z"/><path fill="#81a4fb" d="M1070.2,208.1 1070.6,207.8 1070.6,206.3 1069.6,204 1068.1,201.5 1064.2,196.9 1062.2,195.5 1061.3,195.7 1060.9,196.3 1061.3,197.9 1063.2,202 1064.7,204.4 1067.2,206.9 1069.2,208.1z"/><path fill="#a7c5fe" d="M1080.6,212.6 1081.1,212.2 1081.3,211.1 1080.1,209.3 1077.9,207.4 1073,204.9 1069.9,204.2 1068,204.8 1068,206.6 1070.1,209 1072.9,210.7 1077.1,212.1 1079.1,212.6z"/><path fill="#b2ccfb" d="M1019.4,224.3 1019.9,223.5 1019.4,221.9 1016.6,219.2 1012.9,216.6 1009,214.7 1005.2,213.9 1003,214.3 1001.8,215.4 1001.4,216.5 1002.7,218.5 1006.2,221 1013.4,223.7 1017.3,224.6z"/><path fill="#bed2f6" d="M1027.6,223.8 1026.5,222 1025.1,220.7 1023.3,219.4 1021.5,218.6 1018.9,218.3 1017.5,218.6 1016.6,219.6 1016.8,220.9 1017.7,222.2 1019.4,223.7 1021.8,225 1025.2,225.6 1027.3,224.9z"/><path fill="#80a3fa" d="M1061,225.9 1061.8,224.5 1061.6,221.9 1059.7,218.3 1057.2,215.4 1054.4,213 1051.8,211.3 1050,211.2 1049.7,211.8 1049.8,213.6 1054.5,222.1 1057.3,225.1 1059.8,226.3z"/><path fill="#9bbcff" d="M1097.2,225.3 1097.6,224.1 1097.4,222.5 1095.7,219.9 1093.2,217.9 1090.5,217.1 1088.8,217.1 1087.5,217.4 1087.1,218.7 1088,220.5 1089.9,222.5 1092.1,224.2 1094.5,225.6 1096.6,225.9z"/><path fill="#bed2f6" d="M1023.4,231.3 1023.4,229.8 1022.4,228.4 1019.3,226.4 1015.9,225.5 1013.5,225.5 1011.9,226.4 1011.8,227.2 1013.1,229 1014.8,230.3 1017.2,231.6 1020.7,232.4 1022.6,232.1z"/><path fill="#5673e0" d="M1046.8,239.1 1047.7,238.5 1048.5,237.6 1048.7,235.8 1048.2,234.9 1047.1,234.1 1045.5,233.5 1044.6,233.6 1044,235 1044.5,237 1044.9,238 1045.7,238.9z"/><path fill="#a6c4fe" d="M1067.4,247.1 1067.6,246.4 1066.8,244.2 1064.9,241.4 1062.2,238.5 1058.6,235.9 1054.5,234.4 1051.4,234.6 1050.8,236.3 1052,238.5 1057.9,244.9 1062.2,247.4 1066.1,248.2z"/><path fill="#bed2f6" d="M1080.5,237.2 1080.6,233.9 1078.9,231.8 1076.4,230.6 1074.5,229.9 1072,229.5 1069.7,230.3 1068.4,232.4 1068.7,234.9 1070,236.9 1071.5,238.3 1073.2,239.2 1075.8,239.6 1078.4,239z"/><path fill="#a7c5fe" d="M1090.1,235.7 1091.4,234.8 1091.3,233 1088.8,230.1 1085.8,228.8 1083.2,228.7 1081.7,229.4 1080.6,230.7 1080.9,232.6 1082.7,234.4 1084.8,235.5 1087.1,236z"/><path fill="#b3cdfb" d="M1105.2,238.6 1105.5,237.9 1105.2,236.8 1102.8,234.8 1099.5,233.3 1094.4,231.4 1091.6,230.7 1090.5,231.3 1091.3,232.8 1095.2,235.9 1097.8,237.5 1101.4,238.8 1104,239z"/><path fill="#9fbfff" d="M1117.4,236.5 1118.7,235.7 1118.2,233.7 1115.5,231 1112.6,229.5 1110.1,228.7 1108.1,228.3 1106.8,228.6 1106.6,229.2 1107,230.3 1108.5,232.1 1111.7,235 1114,236.2z"/><path fill="#97b8ff" d="M1122.8,248.5 1123.3,248.4 1123.5,247.2 1122.3,245 1120.1,242.4 1117.3,240 1114.2,238.1 1111.6,237.2 1110.2,237.6 1110.1,238.1 1110.4,239.5 1112.3,242 1114.8,244.1 1118.8,246.8 1121.2,248.2z"/><path fill="#b1cbfc" d="M1037.4,251.8 1037.5,251.1 1036.5,249.7 1031.3,245.5 1028.5,244.2 1025.7,243.8 1024.4,244.6 1025.1,246.5 1027.2,248.3 1031.4,250.9 1034.3,252.2 1036.5,252.4z"/><path fill="#afcafc" d="M1049.2,257.4 1048.1,255.8 1046.3,254 1040.4,249.7 1035.1,247 1030.1,245.5 1028.6,246.4 1028.8,247.1 1030.7,249.3 1033.9,252 1037.4,254.9 1042,257.6 1047.2,259.1 1049,258.7z"/><path fill="#bed2f6" d="M1107.7,258 1108.1,257.6 1108.4,256.3 1106.4,253.8 1101.7,250.9 1096.2,249 1090.9,248.3 1087.8,248.8 1086.5,250.2 1087.1,252.2 1089.5,254.4 1093.9,256.8 1098.4,258.2 1102.6,258.8 1105.8,258.7z"/><path fill="#81a4fb" d="M1114.8,264.1 1115.8,263.7 1116.1,262.2 1115.2,259.8 1113.4,257.7 1111.3,256.4 1109.5,255.8 1108.1,255.4 1106.8,255.8 1106.9,258.3 1108.9,261.2 1111.2,262.9z"/><path fill="#a6c4fe" d="M995.6,246.5 995.7,245.8 995,244.3 991.8,241.1 990.1,239.9 987.8,238.7 985.3,238 983.3,238.1 982.7,238.4 982.3,239.6 984,242.1 986.9,244.2 992.2,246.7 994.8,247.1z"/><path fill="#aac7fd" d="M1011.9,266.8 1012.3,266.3 1011.8,264.6 1009.4,261.8 1005.8,258.8 1001.6,256.2 997,254.3 993.2,253.5 990.7,254.1 990.7,256 993.4,259 998,262.3 1002.4,264.6 1006.8,266.4 1010.5,267.2z"/><path fill="#bbd1f8" d="M1032.8,265.3 1032.8,264.6 1031.3,262.6 1028.5,260.2 1025.2,257.7 1020.6,255.2 1014.9,253.8 1012,254.6 1011.6,254.9 1011.7,256.8 1012.7,258.6 1014.5,260.8 1017.9,263.4 1022.6,265.4 1027.7,266.6 1031.6,266.5z"/><path fill="#b1cbfc" d="M1013.9,271.7 1014.1,271.1 1013.7,269.7 1012,267.8 1009.4,266.1 1006.9,265.1 1004.5,264.7 1002.6,264.7 1001.3,265.4 1001.2,266.4 1002.1,267.9 1004.2,269.8 1007,271.5 1010.6,272.5 1012.9,272.5z"/><path fill="#94b6ff" d="M1023.4,274.4 1023.7,273.9 1023.7,272.8 1022.9,271.1 1021.4,269.3 1017.7,266.7 1015.8,265.9 1014.2,266.1 1013.8,267.4 1014.5,269.3 1016.2,271.6 1018.3,273.3 1020.7,274.6 1022.5,274.9z"/><path fill="#81a4fb" d="M1034.5,285.3 1036.3,284 1035.6,280 1031.9,274.5 1027.9,271.1 1024.8,269.2 1022,267.7 1020,267.5 1019.5,269.1 1020.2,272 1021.9,275.8 1024.8,279.9 1028.9,283.6 1032.1,285z"/><path fill="#a5c3fe" d="M1063.4,274.8 1063.8,274.1 1063.4,272.5 1061.2,269.6 1057.4,266.3 1053.1,263.6 1048.7,261.7 1045.3,261 1043.3,261.5 1043.3,263.2 1045.5,266 1049.4,269.4 1053.7,272.1 1058.3,274.3 1062,275.2z"/><path fill="#aac7fd" d="M1078.9,277.8 1079.4,277.6 1080.2,276.5 1078.7,273.7 1074.6,270.4 1070.4,268.7 1067.6,268.6 1066,269 1064.2,269 1062.9,269.6 1062.8,270.3 1063.9,272.1 1067.4,274.5 1076.3,277.5z"/><path fill="#bbd1f8" d="M1086.2,277.7 1086.5,276.7 1085.3,274.9 1082.8,273.2 1079.7,271.9 1076.1,271.2 1073.9,271.3 1072.8,272.3 1073.3,273.8 1075.4,275.4 1078.2,276.8 1083.2,278.1 1085.2,278.1z"/><path fill="#9fbfff" d="M1113.2,275 1113.2,274.4 1112.5,272.9 1111.3,271 1109.8,269 1107.7,266.9 1104.4,265.2 1102.6,265.1 1102,265.4 1101.7,266.5 1102.8,269.5 1104.4,271.7 1106.7,273.8 1110.1,275.6 1112.5,275.8z"/><path fill="#a3c2fe" d="M1133,279.6 1133.1,277.8 1132.2,276 1129.6,273.6 1124.6,271.4 1122.2,270.9 1120.7,271.3 1120.6,272.6 1121.6,274.6 1123.6,276.9 1126.3,279.2 1130,280.6 1132.2,280.4z"/><path fill="#d4dbe6" d="M1138.3,275.2 1139.1,271.1 1138.8,268.6 1136.3,266.4 1133.2,266.8 1129.4,270.1 1128.1,272.3 1128.7,274.6 1130.4,276.1 1134.6,277.4 1137.1,276.7z"/><path fill="#a1c0ff" d="M1043.7,268.8 1044.3,268.2 1043.3,266.3 1036.5,259.9 1033.3,258.1 1030.8,257.6 1029,258 1028.7,259.3 1030.7,262 1038.7,267.1 1042.3,268.9z"/><path fill="#a1c0ff" d="M1020.3,284.5 1017,279.1 1014.3,276.7 1011.1,275.2 1009.3,275.2 1008.8,275.5 1008.5,276.1 1008.8,277.4 1010.1,279.1 1014.2,283 1017.7,285.1 1020,285.5z"/><path fill="#9dbdff" d="M1033.4,295.1 1033.5,294.3 1031.9,291.7 1024.3,283.4 1019.6,280 1015.1,278.3 1013.5,279.2 1013.5,279.8 1014.4,282.1 1017.1,285.6 1023.7,291.6 1028.3,294.5 1032,295.8z"/><path fill="#96b7ff" d="M1067.4,295.8 1068.4,294.4 1067.8,291.7 1065.3,288.2 1061.7,284.8 1057.1,282.2 1053.7,281.4 1051.6,282.1 1051.2,284.3 1052.7,287.6 1056.2,291.5 1059.9,294.2 1063.4,295.7 1065.9,296.1z"/><path fill="#c0d4f5" d="M1089.4,302.3 1089.5,301.5 1087.4,299.1 1083.1,296.5 1078.5,294.6 1074.4,293.3 1069.9,292.4 1065.3,292.2 1063.4,292.8 1063,293.3 1064,295.4 1067.9,297.8 1076.5,301.5 1082.4,303.3 1087.8,303.6z"/><path fill="#a9c6fd" d="M1095.9,302.7 1096.3,301.9 1095.7,300.4 1093.5,297.9 1090.6,295.6 1087.7,293.9 1084.5,292.7 1081.6,292.2 1079.5,292.1 1079,292.5 1078.6,293.2 1078.7,293.8 1080.9,296.3 1084.7,298.7 1090.8,301.7 1094.3,303z"/><path fill="#b9d0f9" d="M1102.9,286.2 1102.9,285.5 1102.1,284.3 1097.4,280.6 1094.2,279.6 1092.5,279.9 1092.1,280.3 1091.8,281.4 1092.2,282.6 1093.2,284.2 1095.2,285.7 1097.6,286.6 1100.1,287 1102.3,286.8z"/><path fill="#8badfd" d="M1101.2,276.3 1101.9,280.9 1103.7,283.2 1105.8,284.3 1107.6,284.6 1109.4,284.7 1110.4,284 1110,281.6 1108.2,279 1105.9,276.8 1103.6,275.3 1101.8,275.1z"/><path fill="#c6d6f1" d="M1109.8,279.6 1111.2,282.5 1112.4,283.7 1115.1,284.7 1118.1,284.7 1119.8,284.2 1120.7,283.2 1120.2,281.8 1118.7,280.5 1116.5,279.3 1113.8,278.3 1111.1,278.2 1109.9,278.8z"/><path fill="#97b8ff" d="M1123.5,292.3 1125.7,292.3 1126,291.1 1124.1,288.4 1117.5,283.2 1115.4,282.3 1114.4,282.7 1114.3,283.4 1116,286.6 1117.2,288.4 1118.8,290 1121.2,291.4z"/><path fill="#adc9fd" d="M1117.1,301.2 1117.5,300.8 1117.5,299.7 1116.4,298 1114.4,296.4 1112.2,295.5 1108.6,295.2 1107,295.2 1105.8,296.3 1106.8,298.4 1109.4,300.2 1114.1,301.5 1116,301.6z"/><path fill="#a5c3fe" d="M1126.7,300.5 1127.4,299.6 1127,297.9 1124.8,295.5 1122.2,293.9 1119.4,292.9 1117.4,292.8 1116.1,293.4 1116,294.8 1116.9,296.5 1119.2,298.7 1121.6,300 1123.9,300.7z"/><path fill="#9fbfff" d="M1049.4,305.6 1051.3,304.4 1050.5,301.4 1046.1,297.2 1041.7,295.3 1038.5,294.8 1034.4,294.6 1033.4,295.6 1033.3,296.2 1034.5,298.6 1037.3,301.4 1040.6,303.7 1044.2,305.1z"/><path fill="#9fbfff" d="M1029.7,316.5 1029.9,315.8 1028.4,312.4 1027.1,310.2 1024.8,307.8 1021.4,306.2 1019.1,306.6 1018.7,307.9 1019,309.6 1019.8,311.4 1021.5,313.3 1023.6,314.9 1026.3,316.3 1028.9,317z"/><path fill="#9bbcff" d="M1054.5,318.7 1055.2,318.2 1054.7,316.8 1048.8,310.2 1045.3,308 1043,307.6 1042.3,308.1 1042.1,308.6 1042.3,309.9 1043.8,312 1046.3,314.1 1050.6,316.9 1053.4,318.6z"/><path fill="#9dbdff" d="M1089.9,319.6 1089.8,316.1 1088.5,313.8 1086.2,312 1083.4,311.5 1080.6,312.1 1079.7,312.9 1079.6,313.5 1080.2,315.4 1082.1,317.5 1084.3,319.2 1087.2,320.6 1089.3,320.6z"/><path fill="#94b6ff" d="M1103.3,322.8 1103.6,322.2 1103.1,319.8 1102.3,318 1100.9,316.3 1098.3,314.8 1096.3,314.5 1094.7,315 1094.2,316 1094.9,318.2 1097,320.5 1100.9,322.7 1102.7,323.1z"/><path fill="#88abfd" d="M1118.8,309.6 1119.2,309.2 1119.5,308.1 1118.9,306 1117.3,303.7 1115.5,302 1111.9,300 1110,299.6 1109.1,300.1 1108.8,300.7 1109,302.5 1110.8,305.7 1113.1,307.9 1115.6,309.3 1117.6,309.8z"/><path fill="#a7c5fe" d="M1116.1,308.9 1113.6,309.4 1113.2,310 1113.4,311.6 1115.8,313.9 1119.1,315.6 1122.1,316.3 1124.3,315.9 1124.7,314.9 1124.2,312.4 1122.5,309.9 1119.5,308.2 1117.3,308.1z"/><path fill="#c0d4f5" d="M1036.6,322.3 1036.7,321.4 1035.5,320.1 1028.3,315.7 1024.6,314.9 1022.4,315.7 1022.3,317.1 1023.5,319.8 1026.2,321.6 1029.5,322.6 1032.8,323 1035.6,322.9z"/><path fill="#a5c3fe" d="M1043.3,329.1 1043.6,328.4 1043.2,326.9 1041.3,324.7 1038.8,322.7 1034,320.5 1031.9,320.2 1030.4,320.7 1030,321.5 1030.7,323.5 1033,325.9 1036,327.9 1039.6,329.4 1042.1,329.6z"/><path fill="#92b4fe" d="M1044.8,330 1046.2,329.7 1046.5,327.8 1044.8,325.1 1042.2,323 1039.4,321.9 1036.2,321.8 1035.3,322.5 1035.1,323.1 1035.7,325 1038.1,327.6 1040.6,329z"/><path fill="#abc8fd" d="M1101.3,330.3 1102.2,329.6 1102.1,329.1 1100.4,327.3 1097.2,325.5 1089.7,322.4 1088.2,322.3 1087.6,322.7 1087.8,323.8 1089.4,325.7 1092.3,327.9 1095.3,329.4 1097.7,330z"/><path fill="#a5c3fe" d="M1133.1,333 1133.4,332.1 1132,330 1124.4,322.3 1119.7,319.6 1115.5,318.4 1113.4,319.2 1113.2,319.8 1114.1,322 1117.6,325.4 1127.9,331.9 1131.8,333.4z"/><path fill="#dedcdb" d="M1136.5,334.1 1136.2,333.5 1135.1,332.7 1133.2,331.9 1130.5,331.5 1127.9,331.6 1125.4,332.3 1123.6,333.1 1122.7,333.8 1122.5,334.4 1123,335.2 1124.9,336 1130.7,336.5 1134.2,336 1136.1,335.1z"/><path fill="#b6cefa" d="M1034.8,334.3 1035.3,333.9 1035.4,332.6 1033.9,330.9 1031.2,329.4 1028.8,328.8 1024.9,328.5 1023.1,328.9 1022.6,329.8 1022.6,330.4 1023.8,331.9 1026.6,333.5 1031.2,334.4 1033.2,334.6z"/><path fill="#a7c5fe" d="M1063.2,344.6 1063.7,344.1 1063.6,343.3 1062.4,341.8 1060.4,340.1 1055.6,337.6 1053.5,337.1 1052,337.4 1051.9,338.7 1053.1,340.4 1055.7,342.6 1058.3,343.9 1060.7,344.7z"/><path fill="#92b4fe" d="M1076.4,347.1 1076.6,346.5 1076.3,344.7 1075.1,342.4 1073.3,340.1 1071.2,338.5 1067.3,336.8 1065.6,336.8 1064.9,337.4 1064.7,338 1065.1,339.9 1066.8,342.7 1069.3,345.2 1072.7,347.3 1075.4,347.8z"/><path fill="#a3c2fe" d="M1092.9,344.1 1093.9,342.5 1092.7,339.7 1089,336.6 1085.5,335 1080.4,334.1 1078.2,334 1076.7,335.2 1077.6,338 1080.7,341.3 1084.6,343.6 1088.6,344.7 1091.2,344.7z"/><path fill="#92b4fe" d="M1095.5,351.4 1095.8,349.9 1095.4,347.7 1093.7,344.8 1091,342.3 1088.4,341.1 1086.7,341.5 1085.9,345.1 1086.6,347.5 1088.9,350.3 1092.5,352.3 1094.7,352.3z"/><path fill="#c73635" d="M1098.3,348.2 1096.9,348.6 1095.9,349.6 1095.3,351 1095,354.1 1095.6,355.6 1096.3,356 1097,355.9 1097.7,355.2 1099.3,351.6 1099.6,350 1099.1,348.6z"/><path fill="#b2ccfb" d="M1113.7,352.1 1114,351.5 1113.8,350.6 1112,348.6 1109.6,347 1107.1,345.9 1104.6,345.2 1102.4,345 1100.8,345.3 1099.9,346.2 1099.9,346.8 1100.8,348.7 1103.9,351 1107.3,352.4 1110.5,352.9 1112.7,352.7z"/><path fill="#9dbdff" d="M1160.4,344.1 1161.2,342.7 1160.7,340.8 1158.1,337.2 1154.1,333.8 1149.5,331.6 1147.3,331.7 1146.9,332 1146.7,333.5 1147.8,337.1 1150.1,340.1 1153.3,342.7 1156.8,344.3 1159.2,344.5z"/><path fill="#80a3fa" d="M1143.4,362.1 1143.9,361.9 1144.2,360.5 1143.3,358 1141.6,355.5 1137.9,351.4 1135.9,350 1134.4,349.9 1134.1,350.4 1134,351.5 1134.9,353.8 1136.4,356.3 1140.1,360.4 1142.2,361.9z"/><path fill="#93b5fe" d="M1119.6,370.2 1121.1,369.6 1121.4,368.8 1119.8,365.6 1116,362 1109.6,357.4 1105.6,355 1103.7,354.9 1103.2,355.1 1103.1,355.7 1103.8,358 1106.5,361.5 1109.1,364.2 1111.4,366.3 1114.1,368z"/><path fill="#edd2c3" d="M1105.6,362.8 1103.6,361 1102.6,360.5 1101.2,360.7 1100,361.8 1099.2,364.1 1099.5,365 1100.7,365.6 1103.3,365.4 1104.6,365 1105.6,364z"/><path fill="#9fbfff" d="M1128.7,368.9 1129.6,368.7 1130,368.2 1129.5,366.6 1127,364.4 1120.9,362.1 1119.5,362.5 1119.5,363.6 1120.3,365 1122.1,366.9 1124.1,368.1z"/><path fill="#cad8ef" d="M1077.1,372.3 1077.2,370.9 1075.6,369.4 1072.5,368.4 1067.8,368.5 1066.2,368.7 1065.5,369.3 1065.9,370.3 1067.3,371.4 1068.9,372.5 1071.3,373.4 1074.5,373.7 1076.3,373.1z"/><path fill="#a1c0ff" d="M1095.1,378 1095.7,377.5 1095.4,376 1092.2,372.7 1088.3,369.7 1081,365.1 1077.4,363.6 1075.7,363.5 1075.2,363.8 1075.2,365.3 1077.4,368.2 1081.5,371.7 1089.3,376 1093,377.6z"/><path fill="#9abbff" d="M1102.5,379.8 1103.2,379.5 1102.9,377.6 1100.2,374 1096.4,370.5 1092.7,367.8 1089.1,366 1083.5,364.3 1082.4,365.1 1082.4,365.8 1084.5,368.9 1089,372.5 1100,379.3z"/><path fill="#93b5fe" d="M1073.2,390.4 1073.7,389.9 1073.9,389.1 1072.8,386.6 1068.9,382.2 1066.1,380.4 1063.9,379.8 1062.8,380.5 1062.6,382 1063.1,383.8 1064.8,386.6 1067.1,388.5 1069.7,389.9 1071.9,390.4z"/><path fill="#90b2fe" d="M1083.4,400.4 1081.9,396.9 1076.2,388.9 1072.8,385.9 1069.1,384.1 1067.1,384.6 1067,386.9 1068.4,390.3 1070.7,394.1 1074,398 1079,401.5 1082.5,402.2z"/><path fill="#a6c4fe" d="M1113.5,394.4 1113.6,392.5 1112.4,389.7 1109.2,386.3 1104.9,383.9 1100.8,383.1 1097,383.7 1096,384.6 1095.9,385.3 1097.2,387.7 1100.7,390.8 1104.7,393.3 1109.3,395.2 1112.6,395.4z"/><path fill="#9fbfff" d="M1190.2,393.6 1190.7,392.7 1190.9,391.4 1188.9,388.7 1185.7,386.5 1182.5,385.2 1180.6,385.1 1180,385.3 1179.7,386 1180.6,387.7 1182.8,391.3 1185.2,393.7 1188.8,395.4 1190.2,394.8z"/><path fill="#a1c0ff" d="M1199.2,400.3 1200.8,398.3 1200.7,396.6 1198.8,394.1 1195.9,392.4 1193.1,391.9 1189.7,392 1188.5,393 1189.1,395.3 1191.6,398.1 1194.6,400 1197.9,400.7z"/><path fill="#8caffe" d="M1212.6,398.3 1213.1,397.8 1213.2,396.5 1212.7,394.3 1211.3,391.4 1208.7,388.5 1205.9,387.1 1203.9,387.5 1202.5,389 1202.4,390.7 1204.1,393.5 1206.4,395.7 1209,397.5 1211.3,398.5z"/><path fill="#bad0f8" d="M1212.9,401.4 1212.8,402.5 1214.4,404.3 1217.9,406 1221.3,406.2 1224.3,405.3 1224.8,404.5 1224.7,403.8 1223.3,402.2 1220.1,400.3 1216.5,398.8 1213.2,398.3 1212,398.7 1211.8,399.6z"/><path fill="#e26952" d="M1233.7,399.5 1232.2,399.3 1231.1,400.1 1230.5,401.1 1229.5,403.4 1229.5,405 1230.2,406 1231.6,406.3 1232.9,405.9 1234.3,404.3 1234.6,403 1234.6,401.5z"/><path fill="#9bbcff" d="M1161.3,406 1162.9,405.4 1162.9,404.7 1161.4,402.1 1157.4,398.7 1150.3,394.2 1145.9,391.7 1143.6,391.5 1143.1,391.7 1143,392.3 1143.5,394.3 1146.2,397.9 1149.7,401.3 1153.4,403.9 1156.6,405.1z"/><path fill="#c1d4f4" d="M1173,410.6 1173.3,410 1173.1,408.6 1171,406.4 1166.9,404.2 1162.4,402.8 1157.8,402.2 1154.4,402.6 1153.1,403.8 1154.2,406 1157,408 1160.6,409.8 1164.5,411.1 1168.4,411.6 1171.5,411.4z"/><path fill="#b6cefa" d="M1129,413.3 1129.1,412.6 1128.2,411.3 1126.3,409.7 1123.9,408.3 1121.6,407.4 1119.3,407.1 1116.8,407.4 1116.3,407.9 1116.3,408.5 1117.2,409.7 1119.5,411.4 1122.3,412.7 1125.8,413.8 1128.2,413.9z"/><path fill="#a7c5fe" d="M1141.6,412.1 1142.2,411.7 1142.3,410.6 1141,408.8 1139,407 1134.3,404.6 1131.9,404.2 1130.3,404.8 1130.4,406.7 1132.3,408.7 1134.6,410.1 1138,411.4 1140,412.1z"/><path fill="#b3cdfb" d="M1154.8,412.7 1155.1,411.3 1154.5,410 1151.7,407.7 1148.5,406.2 1145.4,405.8 1143.8,406.2 1143,407.1 1142.7,408.2 1143.2,409.5 1145.8,411.8 1149.1,413.3 1152.3,413.8 1154,413.4z"/><path fill="#a1c0ff" d="M1180.1,416.8 1180.5,416 1179.8,414.6 1175.9,411.1 1173,409.2 1170.1,408.1 1168.9,408.6 1169.3,410.6 1170.6,412.6 1172.7,415 1175.4,417 1178.1,417.7z"/><path fill="#6687ed" d="M1197.3,419.9 1197.1,410.5 1195.5,405.2 1192.3,399.6 1188.9,396.6 1187,396.7 1186.3,399.8 1187.1,404.3 1190.4,413.6 1193.3,418.6 1196,420.9z"/><path fill="#93b5fe" d="M1202.9,419.8 1203.4,419.5 1203.4,418.6 1202.3,416.3 1198.1,411.8 1195.3,409.7 1192.7,408.5 1191.4,408.7 1191.2,409.3 1191.6,410.6 1193.2,413 1195.3,415.3 1199.7,418.7 1201.9,419.7z"/><path fill="#4c66d6" d="M1249.6,416.9 1250.6,416.7 1251.5,415.7 1251.6,414 1249.6,410.5 1248.3,409.7 1247.2,410.5 1246.8,412 1246.9,414.7 1247.7,416.2 1248.6,416.8z"/><path fill="#adc9fd" d="M1268.4,421.2 1268.8,420.7 1268.8,419.7 1267.3,417.2 1264.6,414.9 1261.5,413.1 1257.8,411.8 1254.3,411.2 1251.8,411.6 1251.3,412 1250.9,413.7 1253.2,416.9 1257.4,419.7 1261.1,421 1264.3,421.6 1266.8,421.7z"/><path fill="#a3c2fe" d="M1280.1,423.5 1280.5,422.7 1278.4,419.5 1276.3,417.3 1273.6,415.4 1270.8,414.5 1268.8,414.3 1267.2,414.2 1266.3,414.9 1266.4,415.5 1267.7,417.3 1270.9,419.6 1276.4,422.6 1279.2,423.7z"/><path fill="#9dbdff" d="M1137.7,430.5 1138.4,430.1 1138.8,428.6 1135.2,424.1 1130.5,420.6 1123.2,415.9 1119.3,414.2 1117.5,414.4 1117,414.7 1117.1,416.7 1118.8,419.8 1122.5,423.5 1126.4,426.1 1130.3,428 1134.3,429.7z"/><path fill="#d3dbe7" d="M1144.6,425.3 1144.3,422.5 1142.7,421.1 1140.4,420.7 1135.5,422.4 1134.2,423.6 1134,425.8 1135.3,427.7 1137.7,428.5 1141.3,428 1143.2,427.2z"/><path fill="#dfdbd9" d="M1180,420.5 1180,419.9 1179.2,418.6 1176.1,417.3 1171,416.6 1165.6,416.7 1160.5,417.7 1157.7,419.1 1157.2,420.4 1157.3,421 1158.3,422 1161,423.4 1165.8,424.4 1171.2,424.4 1176.2,423.3 1179,421.8z"/><path fill="#bed2f6" d="M1180.6,428.7 1181.1,427.4 1180.3,425.9 1177.7,424.5 1173.3,423.7 1171.1,423.8 1170,424.8 1170.6,426.2 1172,427.8 1173.7,429.2 1175.8,430.2 1178.5,430.2z"/><path fill="#afcafc" d="M1119.3,435.6 1120.2,435 1120.2,434.2 1118.2,432.2 1114.7,430.3 1109.3,428.5 1107,428.2 1105.7,428.8 1105.4,429.5 1106.3,431.1 1109.3,433.4 1112.5,434.6z"/><path fill="#5e7de7" d="M1198.4,436.4 1200,435.4 1200.5,433.8 1200.2,432.2 1199.2,431.2 1197.9,430.9 1196.8,431.4 1196.1,432.3 1195.5,434.2 1195.9,435.3 1196.7,436.1z"/><path fill="#bcd2f7" d="M1234,436.1 1234.3,434.6 1233.7,433.1 1231.9,431.4 1229.5,430.2 1226.2,429.8 1224.3,430.4 1223.2,431.8 1223.6,433.6 1224.9,435.2 1227.4,436.6 1229.5,437.2 1231.6,437.1 1233.1,436.7z"/><path fill="#abc8fd" d="M1238.9,440.9 1236.8,436.7 1234.6,434.8 1231.6,433.8 1229.7,434.2 1229.5,435.2 1230.1,436.6 1232.3,439.5 1234.4,441 1236.8,441.9 1238.7,441.6z"/><path fill="#90b2fe" d="M1272.4,438 1273.3,437.1 1273,435.4 1271.3,433.1 1267.3,430.1 1265.4,429.4 1263.9,429.7 1263.6,431.1 1264.3,433.1 1265.8,435.3 1267.7,437 1269.8,438.1 1271.4,438.2z"/><path fill="#8badfd" d="M1278.5,443.4 1279.5,443.1 1279.8,442.7 1279.3,440.5 1276.9,437.2 1274.4,435.3 1272.2,434.2 1269.2,433.4 1267.9,433.9 1267.9,436 1269.9,439.1 1272.7,441.3 1275,442.4z"/><path fill="#8db0fe" d="M1250.1,450.1 1251,448 1251.2,445.7 1251.1,443.3 1249.9,441.1 1247.3,439.9 1244.5,440.1 1241.7,441.7 1240.2,444.3 1240.2,447.1 1241.7,449.5 1243.7,450.7 1246.1,451.4 1248.2,451.3z"/><path fill="#bad0f8" d="M1262.5,429.5 1262.5,427.9 1261.7,426.1 1259.2,424 1256.2,423 1253.8,423.2 1252.2,424.2 1251.9,425.2 1252.7,427.4 1254.2,429.1 1256.4,430.5 1259.8,431.2 1261.8,430.6z"/><path fill="#c7d7f0" d="M1271.7,429.3 1271.9,428.7 1271.1,427.5 1268.7,426 1265.9,424.6 1262.8,423.6 1259.1,423.4 1257.1,423.9 1256.2,425 1257,426.4 1259.2,427.7 1261.9,428.7 1267.8,429.9 1270.7,429.9z"/><path fill="#b9d0f9" d="M1126.1,439.6 1123.9,440.3 1123.7,441.4 1124,441.8 1126.6,443.5 1129.7,444.4 1134.9,445 1136.4,444.8 1136.9,444.4 1136.6,443.1 1134.5,441.4 1131.6,439.8 1128.7,438.9 1127,439z"/><path fill="#b3cdfb" d="M1146.2,446.3 1146.1,445 1145.3,443.7 1143.6,442.2 1141.4,440.8 1138.3,439.5 1135.1,439.1 1133.8,440.1 1134.7,442.3 1136.7,444.2 1138.9,446.1 1141.4,447.5 1144.6,448 1145.9,447.3z"/><path fill="#9abbff" d="M1162.8,454.3 1164,453.5 1164.2,453.1 1162.7,450.3 1159.6,447.4 1156.8,445.4 1153.7,443.6 1150.6,442.6 1148.4,442.6 1146.7,443.9 1147.1,447.1 1150.6,451.3 1155.4,453.9z"/><path fill="#9bbcff" d="M1176.4,441.4 1176.9,440.9 1177.1,439.9 1176.1,438 1173.8,435.4 1171.2,433.6 1168.7,432.6 1167.3,432.7 1166.7,433.2 1166.4,434.3 1166.9,435.7 1168.4,437.6 1170.5,439.3 1173.2,440.9 1175.3,441.5z"/><path fill="#cbd8ee" d="M1182.8,453.2 1182.8,452.5 1180.2,450.2 1177.8,448.8 1174.7,447.9 1171.2,448.1 1169.7,449.1 1169.1,450.2 1169.3,451.1 1171,452.4 1174,453.3 1179.5,454.2 1182.1,454z"/><path fill="#a1c0ff" d="M1207.8,457.7 1208.1,456.2 1207.2,454.1 1205.2,452.1 1203.2,451.1 1201.3,450.7 1199.6,450.6 1198.2,451 1197.8,451.8 1198.4,453.6 1199.9,455.5 1201.9,457.1 1204.8,458.4 1206.7,458.4z"/><path fill="#a3c2fe" d="M1154.4,440.5 1154.5,439 1153.7,437.3 1151.5,435.1 1146.1,432 1143,431.1 1142,431.8 1142,432.4 1143.1,434.2 1148.5,440.2 1151.9,441.7 1153.8,441.5z"/><path fill="#9fbfff" d="M1145.6,461.8 1146,460.8 1145.7,459 1144.1,457 1142.1,455.6 1139.7,454.6 1137.8,454.3 1136.3,455 1136.3,456.6 1137.3,458.4 1139,460.2 1140.7,461.5 1142.9,462.4 1144.6,462.4z"/><path fill="#a9c6fd" d="M1165.2,470.3 1165.5,469.9 1165.5,468.7 1164.2,466.8 1161.6,464.5 1158.4,462.5 1154.8,460.9 1151.8,460.3 1150.4,460.8 1150.3,461.4 1150.8,462.8 1152.7,465.1 1155.5,467.6 1158.6,469.5 1162,470.7 1164.2,470.8z"/><path fill="#9fbfff" d="M1187.5,471.1 1189,470.4 1188.8,468.7 1185.3,464.6 1180.4,461.1 1175.6,458.9 1172.3,458.2 1170.3,458.6 1170,460.3 1172.1,463.4 1176.4,467.1 1180.8,469.7 1184,470.8z"/><path fill="#89acfd" d="M1174,484.8 1174.2,484.1 1173.4,482.2 1168.9,475.4 1165.9,472.6 1163.6,471.3 1162.7,471.6 1162.5,472.3 1163.1,474.1 1167.8,480.9 1170.7,483.8 1173,485.1z"/><path fill="#cad8ef" d="M1231.3,470.6 1230.5,469 1228.9,467.2 1225.3,465 1220.5,463.6 1215.4,463.4 1212.6,464.6 1212.7,466.4 1215.8,469.8 1219,471.9 1223.8,473.4 1229.2,473.4 1231.3,472.1z"/><path fill="#c9d7f0" d="M1131.6,453.4 1132.4,451.8 1132.1,450.8 1129.1,449.1 1125.8,448.6 1123.3,448.9 1119.2,449.4 1118.3,450.4 1118.5,450.9 1120.3,452.3 1124.2,453.8 1127.8,454.3 1130.5,454.1z"/><path fill="#a6c4fe" d="M1005.4,303.6 1006,303.1 1006,302.2 1004.4,300.3 1001.9,298.5 997.2,296 994.9,295.4 993.5,295.6 993.3,296.2 993.7,297.2 995.6,299.1 1001.4,302.5 1003.7,303.4z"/><path fill="#9bbcff" d="M1001.2,322.1 1001.8,321.8 1002.3,320.5 1000.7,317.9 997.8,315.4 993,313.3 990.1,313 989.3,313.7 989.2,314.2 989.6,315.9 991.6,318.2 994.1,319.9 996.6,320.9 999.1,321.8z"/><path fill="#80a3fa" d="M1012.8,331.6 1013.1,331 1012.8,329.5 1011.8,326.1 1010.6,324 1008.5,321.9 1006.6,321 1005.2,321 1004.9,321.5 1004.8,322.7 1006,325.1 1010.1,330.6 1011.8,331.8z"/><path fill="#adc9fd" d="M1060.3,362.5 1060.6,361.9 1060.4,361 1058.9,359.1 1056,357.1 1053.1,355.6 1050.1,354.7 1047.8,354.3 1046.7,354.9 1047,356 1048.7,357.6 1053.7,361.1 1057.1,362.5 1059.4,362.9z"/><path fill="#bfd3f6" d="M1050,350.9 1050.7,349.5 1049.7,347.7 1046.3,345.8 1043.2,345.2 1040.6,345.4 1038.4,345.6 1036.9,346.1 1036.5,346.5 1036.3,347.6 1038,349.4 1041.1,351.1 1044,352 1046.9,352.2 1048.9,351.7z"/><path fill="#c0d4f5" d="M1085.3,324.4 1085.8,323.9 1085.7,322.6 1083.6,320.8 1080.3,319.4 1074.3,318.1 1071.9,318.3 1070.9,319.2 1071.9,320.9 1074,322.2 1076.3,323.1 1080.6,324.3 1083.3,324.7z"/><path fill="#7597f6" d="M1066.3,322.2 1067,320.6 1067.1,318.6 1066.6,316.1 1065.2,313.9 1063,312.1 1061.2,311.7 1060,312.1 1059.3,313.1 1059,314.8 1059.6,317.4 1061,319.9 1063.4,322.1 1065.3,322.8z"/><path fill="#b7cff9" d="M1015.9,246.6 1015.8,245.9 1014.5,244.6 1011.4,241.9 1009.1,240.7 1006.4,240.3 1003.7,240.9 1002.9,241.7 1004.1,243.6 1006.9,245.3 1012.8,247.2 1015.1,247.3z"/><path fill="#93b5fe" d="M999.5,233.6 1000,233.3 1000.1,231.9 997.4,227.6 995.6,225.7 993.3,224.6 991.8,224.8 990.9,226.6 991.3,227.9 992.4,229.5 996,232.3 998.2,233.5z"/><path fill="#82a6fb" d="M1038.9,206.1 1039.3,205.5 1039.2,203.9 1038.1,201.4 1036.5,198.9 1032.4,194.5 1030.2,193.1 1028.8,193.1 1028.3,194.5 1029,197 1030.6,199.9 1032.6,202.6 1035.5,205.2 1037.7,206.3z"/><path fill="#a5c3fe" d="M1105.8,215.2 1106.6,212 1105.2,209.6 1102.9,208.1 1100.2,207.2 1098.3,207.2 1097.8,207.5 1097.5,208.6 1099.9,213 1101.7,215 1104.5,216z"/><path fill="#bed2f6" d="M1218.1,427.9 1218.3,427.2 1217,425.8 1209.3,421.8 1205.4,420.6 1203.4,420.7 1202.9,421 1203,422.1 1204,423.2 1205.5,424.6 1207.8,426 1210.7,427.1 1214.1,428 1217.2,428.3z"/><path fill="#abc8fd" d="M1226,447.8 1226.5,447.3 1226.6,446 1225.1,443.9 1222.6,441.9 1219.9,440.2 1216.9,439.1 1214.7,439.2 1214.2,439.6 1213.9,440.8 1214.5,442.3 1215.7,444 1217.4,445.7 1219.6,447 1221.9,447.7 1224.3,448z"/><path fill="#d3dbe7" d="M1192.5,445.1 1187.7,441.5 1183.9,440.5 1180,441.1 1178.9,442.3 1178.6,443.8 1178.8,444.3 1180.1,445.5 1183.4,446.5 1186.9,447 1190.6,446.8 1192.5,446.1z"/><path fill="#9fbfff" d="M1244.6,426 1241.6,421 1239.7,419.4 1237.3,418.3 1235.4,417.9 1234.2,418 1233.7,418.3 1233.5,419.3 1234.6,421.1 1239,425.4 1242.4,427.3 1244.4,427.4 1244.7,426.8z"/><path fill="#7295f4" d="M1285.7,418.7 1286.7,418.5 1287.5,417 1287,414.3 1285.3,411.6 1282.8,409.7 1280.2,409.2 1278.9,409.6 1278.8,411.9 1280.2,414.9 1281.9,416.8 1283.5,418z"/><path fill="#a3c2fe" d="M1207.9,472.4 1208.1,471.8 1207.7,470.5 1206.4,468.8 1204.6,467.2 1200.8,465.2 1199,464.8 1197.7,465.2 1197.4,466.4 1198.1,468.1 1199.9,470.1 1202.1,471.7 1205.2,472.9 1207.2,473z"/><path fill="#adc9fd" d="M1123.9,404 1124.3,403.6 1124.4,402.4 1122.8,400.4 1119.8,398.4 1112.4,396.4 1110.5,396.2 1109.9,396.6 1109.8,397.6 1111.3,399.4 1114.2,401.6 1117.1,403.1 1120.2,404.1 1122.6,404.4z"/><path fill="#afcafc" d="M1136.3,395.2 1136.5,393.9 1136.3,392.2 1134.6,390.1 1131.9,388.8 1129,388.8 1126.5,389.8 1125.5,390.9 1126.6,392.9 1129.2,394.6 1133.9,395.9 1135.4,395.8z"/></g>
</g>
</svg>
</body></html>
